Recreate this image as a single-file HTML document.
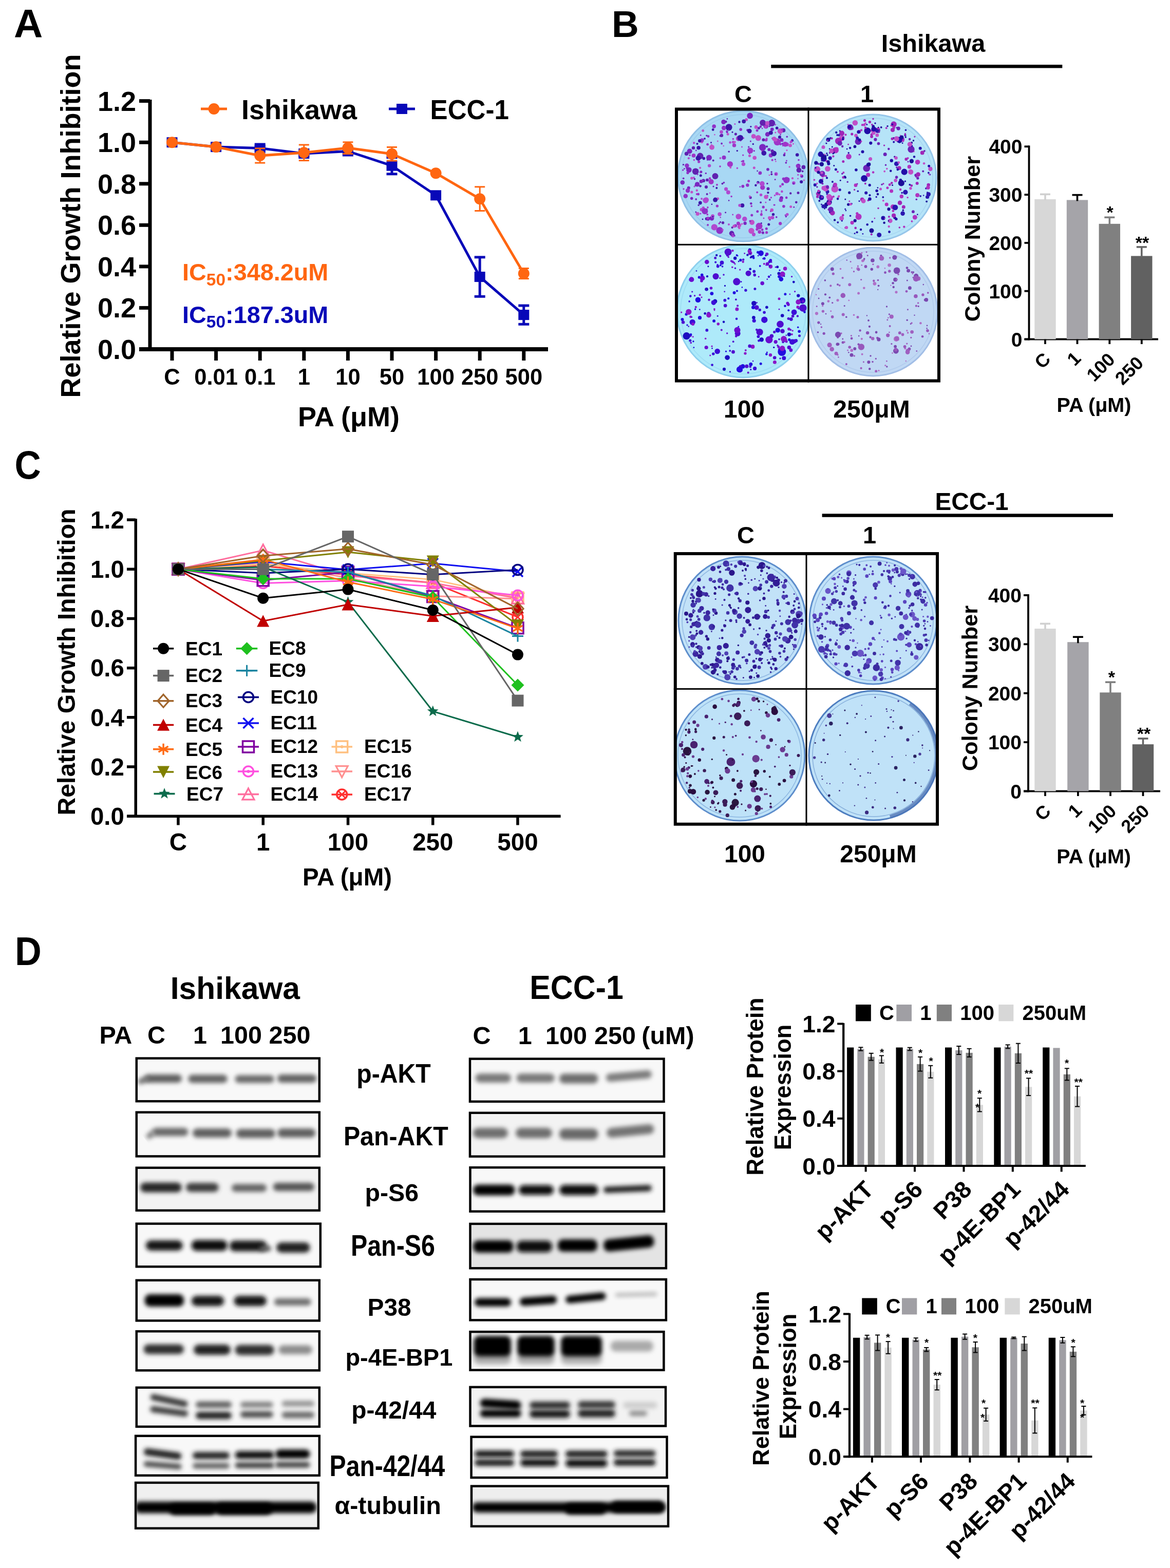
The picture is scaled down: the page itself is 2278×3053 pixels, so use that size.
<!DOCTYPE html>
<html><head><meta charset="utf-8"><title>Figure</title>
<style>html,body{margin:0;padding:0;background:#fff;}svg{display:block;}</style></head>
<body><svg width="2278" height="3053" viewBox="0 0 2278 3053" font-family="'Liberation Sans', Arial, sans-serif" font-weight="bold">
<rect width="2278" height="3053" fill="#fff"/>
<text x="27" y="72.5" font-size="78">A</text>
<rect x="288.5" y="194" width="7" height="490" fill="#000"/>
<rect x="271" y="676" width="796" height="8" fill="#000"/>
<rect x="271" y="676" width="21" height="7" fill="#000"/>
<text x="265" y="699" font-size="54" text-anchor="end">0.0</text>
<rect x="271" y="595.9" width="21" height="7" fill="#000"/>
<text x="265" y="618.4" font-size="54" text-anchor="end">0.2</text>
<rect x="271" y="515.4" width="21" height="7" fill="#000"/>
<text x="265" y="537.9" font-size="54" text-anchor="end">0.4</text>
<rect x="271" y="434.8" width="21" height="7" fill="#000"/>
<text x="265" y="457.3" font-size="54" text-anchor="end">0.6</text>
<rect x="271" y="354.3" width="21" height="7" fill="#000"/>
<text x="265" y="376.8" font-size="54" text-anchor="end">0.8</text>
<rect x="271" y="273.7" width="21" height="7" fill="#000"/>
<text x="265" y="296.2" font-size="54" text-anchor="end">1.0</text>
<rect x="271" y="193.1" width="21" height="7" fill="#000"/>
<text x="265" y="215.6" font-size="54" text-anchor="end">1.2</text>
<rect x="331.5" y="680" width="7" height="22" fill="#000"/>
<text x="335" y="749" font-size="43.5" text-anchor="middle">C</text>
<rect x="417.1" y="680" width="7" height="22" fill="#000"/>
<text x="420.6" y="749" font-size="43.5" text-anchor="middle">0.01</text>
<rect x="502.7" y="680" width="7" height="22" fill="#000"/>
<text x="506.2" y="749" font-size="43.5" text-anchor="middle">0.1</text>
<rect x="588.3" y="680" width="7" height="22" fill="#000"/>
<text x="591.8" y="749" font-size="43.5" text-anchor="middle">1</text>
<rect x="673.9" y="680" width="7" height="22" fill="#000"/>
<text x="677.4" y="749" font-size="43.5" text-anchor="middle">10</text>
<rect x="759.5" y="680" width="7" height="22" fill="#000"/>
<text x="763" y="749" font-size="43.5" text-anchor="middle">50</text>
<rect x="845.1" y="680" width="7" height="22" fill="#000"/>
<text x="848.6" y="749" font-size="43.5" text-anchor="middle">100</text>
<rect x="930.7" y="680" width="7" height="22" fill="#000"/>
<text x="934.2" y="749" font-size="43.5" text-anchor="middle">250</text>
<rect x="1016.3" y="680" width="7" height="22" fill="#000"/>
<text x="1019.8" y="749" font-size="43.5" text-anchor="middle">500</text>
<text x="679" y="830" font-size="54" text-anchor="middle">PA (μM)</text>
<text x="156" y="440" font-size="54" text-anchor="middle" transform="rotate(-90 156 440)">Relative Growth Inhibition</text>
<line x1="391" y1="212" x2="442" y2="212" stroke="#FF6611" stroke-width="5"/>
<circle cx="416.5" cy="212" r="11" fill="#FF6611"/>
<text x="470" y="232" font-size="54">Ishikawa</text>
<line x1="757" y1="212" x2="808" y2="212" stroke="#0808B8" stroke-width="5"/>
<rect x="772" y="202" width="21" height="20" fill="#0808B8"/>
<text transform="translate(837.6 232) scale(0.947 1)" font-size="54">ECC-1</text>
<text x="355" y="546" font-size="46.8" fill="#FF6611">IC<tspan font-size="33.5" dy="9.7">50</tspan><tspan dy="-9.7">:348.2uM</tspan></text>
<text x="355" y="628.6" font-size="46.8" fill="#0808B8">IC<tspan font-size="33.5" dy="9.7">50</tspan><tspan dy="-9.7">:187.3uM</tspan></text>
<polyline points="335,277.2 420.6,286.1 506.2,288.5 591.8,299 677.4,294.5 763,322.7 848.6,380.3 934.2,539 1019.8,613.1" fill="none" stroke="#0808B8" stroke-width="5" stroke-linejoin="round"/>
<rect x="324.5" y="267.2" width="21" height="20" fill="#0808B8"/>
<rect x="410.1" y="276.1" width="21" height="20" fill="#0808B8"/>
<line x1="506.2" y1="284.5" x2="506.2" y2="292.5" stroke="#0808B8" stroke-width="5"/>
<rect x="495.7" y="282" width="21" height="5" fill="#0808B8"/>
<rect x="495.7" y="290" width="21" height="5" fill="#0808B8"/>
<rect x="495.7" y="278.5" width="21" height="20" fill="#0808B8"/>
<line x1="591.8" y1="294.9" x2="591.8" y2="303" stroke="#0808B8" stroke-width="5"/>
<rect x="581.3" y="292.4" width="21" height="5" fill="#0808B8"/>
<rect x="581.3" y="300.5" width="21" height="5" fill="#0808B8"/>
<rect x="581.3" y="289" width="21" height="20" fill="#0808B8"/>
<line x1="677.4" y1="289.7" x2="677.4" y2="299.4" stroke="#0808B8" stroke-width="5"/>
<rect x="666.9" y="287.2" width="21" height="5" fill="#0808B8"/>
<rect x="666.9" y="296.9" width="21" height="5" fill="#0808B8"/>
<rect x="666.9" y="284.5" width="21" height="20" fill="#0808B8"/>
<line x1="763" y1="306.6" x2="763" y2="338.8" stroke="#0808B8" stroke-width="5"/>
<rect x="752.5" y="304.1" width="21" height="5" fill="#0808B8"/>
<rect x="752.5" y="336.3" width="21" height="5" fill="#0808B8"/>
<rect x="752.5" y="312.7" width="21" height="20" fill="#0808B8"/>
<rect x="838.1" y="370.3" width="21" height="20" fill="#0808B8"/>
<line x1="934.2" y1="500.8" x2="934.2" y2="577.3" stroke="#0808B8" stroke-width="5"/>
<rect x="923.7" y="498.3" width="21" height="5" fill="#0808B8"/>
<rect x="923.7" y="574.8" width="21" height="5" fill="#0808B8"/>
<rect x="923.7" y="529" width="21" height="20" fill="#0808B8"/>
<line x1="1019.8" y1="595" x2="1019.8" y2="631.3" stroke="#0808B8" stroke-width="5"/>
<rect x="1009.3" y="592.5" width="21" height="5" fill="#0808B8"/>
<rect x="1009.3" y="628.8" width="21" height="5" fill="#0808B8"/>
<rect x="1009.3" y="603.1" width="21" height="20" fill="#0808B8"/>
<polyline points="335,277.2 420.6,286.1 506.2,303 591.8,297.3 677.4,288.1 763,299.8 848.6,337.2 934.2,387.2 1019.8,532.6" fill="none" stroke="#FF6611" stroke-width="5" stroke-linejoin="round"/>
<circle cx="335" cy="277.2" r="11" fill="#FF6611"/>
<circle cx="420.6" cy="286.1" r="11" fill="#FF6611"/>
<line x1="506.2" y1="288.9" x2="506.2" y2="317.1" stroke="#FF6611" stroke-width="3"/>
<rect x="496.2" y="287.4" width="20" height="3" fill="#FF6611"/>
<rect x="496.2" y="315.6" width="20" height="3" fill="#FF6611"/>
<circle cx="506.2" cy="303" r="11" fill="#FF6611"/>
<line x1="591.8" y1="282" x2="591.8" y2="312.6" stroke="#FF6611" stroke-width="3"/>
<rect x="581.8" y="280.5" width="20" height="3" fill="#FF6611"/>
<rect x="581.8" y="311.1" width="20" height="3" fill="#FF6611"/>
<circle cx="591.8" cy="297.3" r="11" fill="#FF6611"/>
<line x1="677.4" y1="276.8" x2="677.4" y2="299.4" stroke="#FF6611" stroke-width="3"/>
<rect x="667.4" y="275.3" width="20" height="3" fill="#FF6611"/>
<rect x="667.4" y="297.9" width="20" height="3" fill="#FF6611"/>
<circle cx="677.4" cy="288.1" r="11" fill="#FF6611"/>
<line x1="763" y1="286.5" x2="763" y2="313" stroke="#FF6611" stroke-width="3"/>
<rect x="753" y="285" width="20" height="3" fill="#FF6611"/>
<rect x="753" y="311.5" width="20" height="3" fill="#FF6611"/>
<circle cx="763" cy="299.8" r="11" fill="#FF6611"/>
<circle cx="848.6" cy="337.2" r="11" fill="#FF6611"/>
<line x1="934.2" y1="363.8" x2="934.2" y2="410.5" stroke="#FF6611" stroke-width="3"/>
<rect x="924.2" y="362.3" width="20" height="3" fill="#FF6611"/>
<rect x="924.2" y="409" width="20" height="3" fill="#FF6611"/>
<circle cx="934.2" cy="387.2" r="11" fill="#FF6611"/>
<line x1="1019.8" y1="522.5" x2="1019.8" y2="542.6" stroke="#FF6611" stroke-width="3"/>
<rect x="1009.8" y="521" width="20" height="3" fill="#FF6611"/>
<rect x="1009.8" y="541.1" width="20" height="3" fill="#FF6611"/>
<circle cx="1019.8" cy="532.6" r="11" fill="#FF6611"/>
<text x="1191" y="71.5" font-size="73">B</text>
<text transform="translate(28.5 931.5) scale(0.91 1)" font-size="78">C</text>
<text transform="translate(29 1879) scale(0.92 1)" font-size="78">D</text>
<defs><filter id="soft" x="-5%" y="-5%" width="110%" height="110%"><feGaussianBlur stdDeviation="0.7"/></filter></defs>
<text x="1817" y="101" font-size="48.6" text-anchor="middle">Ishikawa</text>
<rect x="1501.3" y="126" width="567" height="6.5" fill="#000"/>
<text x="1447" y="199.3" font-size="47" text-anchor="middle">C</text>
<text x="1688" y="199.3" font-size="47" text-anchor="middle">1</text>
<clipPath id="pb0"><rect x="1314" y="209.5" width="260" height="266.8"/></clipPath>
<g clip-path="url(#pb0)">
<circle cx="1447" cy="343" r="127" fill="#A8D8F4" stroke="#90C0E6" stroke-width="3"/>
<circle cx="1447" cy="343" r="120" fill="none" stroke="#90C0E6" stroke-width="1.5" opacity="0.5"/>
<g filter="url(#soft)">
<circle cx="1356.8" cy="370.8" r="2.2" fill="#C050C8"/>
<circle cx="1484.5" cy="294.6" r="2.3" fill="#C050C8"/>
<circle cx="1459.3" cy="298.4" r="1.4" fill="#3A18A8"/>
<circle cx="1523.6" cy="280" r="2.1" fill="#7A28C0"/>
<circle cx="1391.4" cy="262.3" r="1.3" fill="#C050C8"/>
<circle cx="1475.9" cy="355.1" r="2.7" fill="#3A18A8"/>
<circle cx="1363.5" cy="362.3" r="2.4" fill="#6020B0"/>
<circle cx="1491.3" cy="245.3" r="5.3" fill="#A036C8"/>
<circle cx="1427.4" cy="270.6" r="1.8" fill="#A036C8"/>
<circle cx="1402" cy="324.1" r="1.8" fill="#A036C8"/>
<circle cx="1354.5" cy="360.7" r="2" fill="#6020B0"/>
<circle cx="1413.6" cy="368.1" r="3.6" fill="#B048D0"/>
<circle cx="1515.4" cy="275.8" r="1.7" fill="#A036C8"/>
<circle cx="1534.4" cy="349" r="3" fill="#9030C8"/>
<circle cx="1389" cy="362.9" r="1.5" fill="#6020B0"/>
<circle cx="1385.9" cy="397.7" r="1.3" fill="#3A18A8"/>
<circle cx="1554.2" cy="323.2" r="4.5" fill="#9030C8"/>
<circle cx="1492.6" cy="452.7" r="2.6" fill="#A036C8"/>
<circle cx="1511" cy="338.7" r="3.5" fill="#B048D0"/>
<circle cx="1369.3" cy="404.6" r="2.7" fill="#B048D0"/>
<circle cx="1409.5" cy="306.8" r="4" fill="#9030C8"/>
<circle cx="1487.3" cy="298.1" r="4.9" fill="#3A18A8"/>
<circle cx="1366.5" cy="276.1" r="2.8" fill="#C050C8"/>
<circle cx="1485.4" cy="453.1" r="2.7" fill="#7A28C0"/>
<circle cx="1493.9" cy="357.4" r="1.7" fill="#6020B0"/>
<circle cx="1427.5" cy="276.7" r="2.7" fill="#B048D0"/>
<circle cx="1332.4" cy="328.5" r="1.5" fill="#7A28C0"/>
<circle cx="1343" cy="302.3" r="1.8" fill="#9030C8"/>
<circle cx="1446.7" cy="302.1" r="1.7" fill="#A036C8"/>
<circle cx="1482.7" cy="414.4" r="1.5" fill="#B048D0"/>
<circle cx="1502.8" cy="409.1" r="3.3" fill="#C050C8"/>
<circle cx="1377.3" cy="417.7" r="1.9" fill="#A036C8"/>
<circle cx="1545.4" cy="356.2" r="3.3" fill="#B048D0"/>
<circle cx="1474.2" cy="374.5" r="2" fill="#A036C8"/>
<circle cx="1532.3" cy="281.2" r="3.7" fill="#B048D0"/>
<circle cx="1385.9" cy="425.1" r="4.4" fill="#7A28C0"/>
<circle cx="1474.6" cy="332.9" r="1.3" fill="#6020B0"/>
<circle cx="1376.2" cy="407.6" r="1.4" fill="#6020B0"/>
<circle cx="1498.7" cy="388.9" r="1.9" fill="#6020B0"/>
<circle cx="1417.1" cy="261.2" r="2.5" fill="#C050C8"/>
<circle cx="1447" cy="313.8" r="2.3" fill="#9030C8"/>
<circle cx="1495" cy="329.8" r="2.9" fill="#7A28C0"/>
<circle cx="1446.3" cy="362.8" r="3" fill="#9030C8"/>
<circle cx="1341.4" cy="330.7" r="5.3" fill="#7A28C0"/>
<circle cx="1506.2" cy="295.1" r="1.6" fill="#7A28C0"/>
<circle cx="1482.2" cy="242.7" r="1.7" fill="#9030C8"/>
<circle cx="1381.9" cy="305.5" r="2.3" fill="#3A18A8"/>
<circle cx="1519.6" cy="280.6" r="2.3" fill="#9030C8"/>
<circle cx="1486.4" cy="272.2" r="3" fill="#6020B0"/>
<circle cx="1509.7" cy="242.9" r="1.4" fill="#A036C8"/>
<circle cx="1429.9" cy="439" r="1.8" fill="#B048D0"/>
<circle cx="1387.6" cy="420.7" r="3.5" fill="#B048D0"/>
<circle cx="1375.7" cy="425.9" r="2.9" fill="#3A18A8"/>
<circle cx="1417.9" cy="374.5" r="3.9" fill="#B048D0"/>
<circle cx="1455.4" cy="360.5" r="3.2" fill="#9030C8"/>
<circle cx="1462.9" cy="449.5" r="5.7" fill="#C050C8"/>
<circle cx="1366.9" cy="272.9" r="3.7" fill="#9030C8"/>
<circle cx="1545.8" cy="403.3" r="1.5" fill="#7A28C0"/>
<circle cx="1498.3" cy="245.8" r="1.6" fill="#6020B0"/>
<circle cx="1519.5" cy="262" r="1.5" fill="#9030C8"/>
<circle cx="1542.5" cy="273.6" r="2.5" fill="#3A18A8"/>
<circle cx="1510.4" cy="314.3" r="1.3" fill="#C050C8"/>
<circle cx="1521.4" cy="385.6" r="3.5" fill="#7A28C0"/>
<circle cx="1503.7" cy="311.7" r="2.1" fill="#A036C8"/>
<circle cx="1482.8" cy="411" r="1.5" fill="#9030C8"/>
<circle cx="1561.1" cy="342.9" r="3" fill="#7A28C0"/>
<circle cx="1531.5" cy="313" r="1.4" fill="#9030C8"/>
<circle cx="1359.5" cy="378" r="2.5" fill="#9030C8"/>
<circle cx="1337" cy="327.1" r="1.9" fill="#7A28C0"/>
<circle cx="1555" cy="311.5" r="1.8" fill="#9030C8"/>
<circle cx="1537.1" cy="324.9" r="1.6" fill="#C050C8"/>
<circle cx="1457.7" cy="352.4" r="2.5" fill="#A036C8"/>
<circle cx="1364.9" cy="334.7" r="2.5" fill="#7A28C0"/>
<circle cx="1495.4" cy="375.1" r="2.2" fill="#3A18A8"/>
<circle cx="1509.4" cy="310.4" r="1.5" fill="#7A28C0"/>
<circle cx="1541.1" cy="275.4" r="2.4" fill="#A036C8"/>
<circle cx="1482.3" cy="434.6" r="1.5" fill="#3A18A8"/>
<circle cx="1478" cy="338.5" r="1.3" fill="#B048D0"/>
<circle cx="1412.6" cy="413.7" r="1.5" fill="#6020B0"/>
<circle cx="1350" cy="287.9" r="3.2" fill="#6020B0"/>
<circle cx="1363.1" cy="326.8" r="2.1" fill="#C050C8"/>
<circle cx="1377.6" cy="281.2" r="2.4" fill="#9030C8"/>
<circle cx="1337.4" cy="322.4" r="4.2" fill="#9030C8"/>
<circle cx="1532" cy="292.6" r="1.6" fill="#C050C8"/>
<circle cx="1401.2" cy="448.8" r="6.8" fill="#9030C8"/>
<circle cx="1458.6" cy="229" r="2.1" fill="#3A18A8"/>
<circle cx="1429.5" cy="282.9" r="3.7" fill="#A036C8"/>
<circle cx="1478" cy="440.3" r="6.5" fill="#A036C8"/>
<circle cx="1419.1" cy="247.8" r="6.6" fill="#3A18A8"/>
<circle cx="1461.9" cy="246.5" r="1.6" fill="#3A18A8"/>
<circle cx="1486.2" cy="403.2" r="2.6" fill="#9030C8"/>
<circle cx="1530.4" cy="316.8" r="1.9" fill="#7A28C0"/>
<circle cx="1376.6" cy="378" r="2" fill="#6020B0"/>
<circle cx="1413.3" cy="237" r="2.2" fill="#6020B0"/>
<circle cx="1368" cy="426.9" r="1.4" fill="#3A18A8"/>
<circle cx="1560.2" cy="354" r="3.1" fill="#3A18A8"/>
<circle cx="1544.5" cy="280" r="1.6" fill="#C050C8"/>
<circle cx="1555.5" cy="331.2" r="4.9" fill="#6020B0"/>
<circle cx="1444.5" cy="285.9" r="1.5" fill="#B048D0"/>
<circle cx="1521.9" cy="272.5" r="3.5" fill="#7A28C0"/>
<circle cx="1463.2" cy="401.4" r="1.8" fill="#A036C8"/>
<circle cx="1525.5" cy="348.2" r="2.8" fill="#9030C8"/>
<circle cx="1430.1" cy="458.9" r="1.7" fill="#7A28C0"/>
<circle cx="1363.2" cy="303.8" r="6.2" fill="#6020B0"/>
<circle cx="1507" cy="399.1" r="1.5" fill="#A036C8"/>
<circle cx="1442.1" cy="274.1" r="1.4" fill="#9030C8"/>
<circle cx="1435.4" cy="327.4" r="1.8" fill="#B048D0"/>
<circle cx="1360.7" cy="314.9" r="2.6" fill="#A036C8"/>
<circle cx="1378.1" cy="438.1" r="2" fill="#9030C8"/>
<circle cx="1504.4" cy="269.6" r="2.1" fill="#7A28C0"/>
<circle cx="1366.1" cy="387" r="2" fill="#B048D0"/>
<circle cx="1376.9" cy="350.4" r="2.9" fill="#6020B0"/>
<circle cx="1440.8" cy="363.7" r="1.4" fill="#9030C8"/>
<circle cx="1513.4" cy="276.3" r="6.9" fill="#A036C8"/>
<circle cx="1466.3" cy="280.5" r="1.7" fill="#3A18A8"/>
<circle cx="1450.6" cy="434.8" r="3.2" fill="#7A28C0"/>
<circle cx="1519.1" cy="435.2" r="3.1" fill="#A036C8"/>
<circle cx="1385.3" cy="281.8" r="1.4" fill="#C050C8"/>
<circle cx="1491.7" cy="408.6" r="2.1" fill="#C050C8"/>
<circle cx="1439.7" cy="438.6" r="3.6" fill="#C050C8"/>
<circle cx="1468.4" cy="293.7" r="1.5" fill="#7A28C0"/>
<circle cx="1532.8" cy="417.6" r="2.8" fill="#B048D0"/>
<circle cx="1431.9" cy="439.5" r="3.1" fill="#9030C8"/>
<circle cx="1375.8" cy="264.1" r="1.7" fill="#6020B0"/>
<circle cx="1437" cy="442.1" r="1.3" fill="#A036C8"/>
<circle cx="1352.1" cy="363.1" r="1.7" fill="#B048D0"/>
<circle cx="1368.8" cy="350.9" r="2.3" fill="#9030C8"/>
<circle cx="1469.2" cy="307.3" r="3.8" fill="#C050C8"/>
<circle cx="1503.3" cy="251.8" r="3.4" fill="#7A28C0"/>
<circle cx="1476.3" cy="268.7" r="5.6" fill="#C050C8"/>
<circle cx="1453.2" cy="232.9" r="2.9" fill="#C050C8"/>
<circle cx="1378.4" cy="426" r="3.8" fill="#7A28C0"/>
<circle cx="1340.8" cy="365.9" r="3.1" fill="#7A28C0"/>
<circle cx="1430.9" cy="241.4" r="1.5" fill="#B048D0"/>
<circle cx="1405.1" cy="279.5" r="1.9" fill="#7A28C0"/>
<circle cx="1342.7" cy="294.5" r="5" fill="#7A28C0"/>
<circle cx="1330.5" cy="320.6" r="1.7" fill="#6020B0"/>
<circle cx="1500.8" cy="301.1" r="2" fill="#B048D0"/>
<circle cx="1404.5" cy="256.9" r="3.3" fill="#B048D0"/>
<circle cx="1474.1" cy="254" r="2.5" fill="#9030C8"/>
<circle cx="1520.4" cy="389.4" r="3.8" fill="#9030C8"/>
<circle cx="1354.2" cy="333.8" r="6.4" fill="#6020B0"/>
<circle cx="1492.9" cy="272.3" r="1.8" fill="#C050C8"/>
<circle cx="1484.7" cy="365" r="4.7" fill="#A036C8"/>
<circle cx="1472.1" cy="247.6" r="3.5" fill="#C050C8"/>
<circle cx="1401.1" cy="417.1" r="3.8" fill="#B048D0"/>
<circle cx="1405" cy="263.7" r="3.2" fill="#6020B0"/>
<circle cx="1421.4" cy="319.5" r="5.6" fill="#A036C8"/>
<circle cx="1485.1" cy="239.1" r="6" fill="#6020B0"/>
<circle cx="1382" cy="424" r="1.5" fill="#6020B0"/>
<circle cx="1499" cy="427.5" r="1.9" fill="#7A28C0"/>
<circle cx="1382.2" cy="376" r="1.4" fill="#B048D0"/>
<circle cx="1438.1" cy="269.7" r="5.1" fill="#A036C8"/>
<circle cx="1447.5" cy="319.6" r="3.7" fill="#B048D0"/>
<circle cx="1494" cy="381.2" r="1.7" fill="#6020B0"/>
<circle cx="1357.6" cy="358.9" r="4.7" fill="#7A28C0"/>
<circle cx="1496.8" cy="437.1" r="2.5" fill="#3A18A8"/>
<circle cx="1340.9" cy="308.2" r="2.1" fill="#B048D0"/>
<circle cx="1387.8" cy="421.7" r="1.5" fill="#3A18A8"/>
<circle cx="1377.9" cy="403.9" r="1.8" fill="#A036C8"/>
<circle cx="1532" cy="282" r="1.7" fill="#7A28C0"/>
<circle cx="1402.4" cy="307.9" r="1.9" fill="#B048D0"/>
<circle cx="1538.6" cy="283.3" r="3.3" fill="#C050C8"/>
<circle cx="1437.4" cy="435.1" r="3.5" fill="#A036C8"/>
<circle cx="1479.5" cy="453.2" r="1.5" fill="#B048D0"/>
<circle cx="1510.1" cy="272" r="3.4" fill="#C050C8"/>
<circle cx="1493.1" cy="285.3" r="2.1" fill="#6020B0"/>
<circle cx="1539.7" cy="402.6" r="2.5" fill="#C050C8"/>
<circle cx="1330.7" cy="347.3" r="1.9" fill="#7A28C0"/>
<circle cx="1512.8" cy="377.1" r="3.2" fill="#B048D0"/>
<circle cx="1495.5" cy="367.4" r="3" fill="#6020B0"/>
<circle cx="1555.1" cy="320.2" r="1.3" fill="#7A28C0"/>
<circle cx="1426" cy="257.2" r="1.5" fill="#3A18A8"/>
<circle cx="1565.3" cy="350.8" r="1.6" fill="#C050C8"/>
<circle cx="1504" cy="423.7" r="3.4" fill="#B048D0"/>
<circle cx="1406.9" cy="447.5" r="1.9" fill="#B048D0"/>
<circle cx="1350.5" cy="302.8" r="3.9" fill="#A036C8"/>
<circle cx="1525.9" cy="401.8" r="2.8" fill="#9030C8"/>
<circle cx="1482.3" cy="417.8" r="2.6" fill="#A036C8"/>
<circle cx="1471.4" cy="360.8" r="2.2" fill="#3A18A8"/>
<circle cx="1550.3" cy="393.8" r="2.4" fill="#6020B0"/>
<circle cx="1462.3" cy="396.3" r="2.3" fill="#7A28C0"/>
<circle cx="1372" cy="269.9" r="1.9" fill="#3A18A8"/>
<circle cx="1471.9" cy="245.3" r="1.3" fill="#B048D0"/>
<circle cx="1474.8" cy="411.8" r="2.5" fill="#9030C8"/>
<circle cx="1339" cy="336.6" r="2.7" fill="#9030C8"/>
<circle cx="1444.7" cy="435.9" r="1.7" fill="#C050C8"/>
<circle cx="1392.5" cy="342.9" r="6" fill="#6020B0"/>
<circle cx="1415.9" cy="231.4" r="1.3" fill="#6020B0"/>
<circle cx="1461.2" cy="384.7" r="2.6" fill="#6020B0"/>
<circle cx="1424.1" cy="382.6" r="1.8" fill="#A036C8"/>
<circle cx="1346.8" cy="374" r="2.6" fill="#C050C8"/>
<circle cx="1359.4" cy="307.9" r="4.9" fill="#3A18A8"/>
<circle cx="1419.1" cy="390.4" r="1.3" fill="#6020B0"/>
<circle cx="1500.7" cy="302.4" r="4" fill="#9030C8"/>
<circle cx="1357.5" cy="280" r="2.1" fill="#3A18A8"/>
<circle cx="1562.7" cy="333.5" r="1.9" fill="#6020B0"/>
<circle cx="1512.7" cy="249.3" r="2.8" fill="#3A18A8"/>
<circle cx="1509.1" cy="349.4" r="1.5" fill="#7A28C0"/>
<circle cx="1508.1" cy="399.1" r="1.5" fill="#9030C8"/>
<circle cx="1377.3" cy="311.3" r="1.4" fill="#6020B0"/>
<circle cx="1466.3" cy="262.5" r="1.5" fill="#B048D0"/>
<circle cx="1363.3" cy="395" r="3.4" fill="#3A18A8"/>
<circle cx="1424.6" cy="454.3" r="4.8" fill="#6020B0"/>
<circle cx="1375.3" cy="389.1" r="4.8" fill="#C050C8"/>
<circle cx="1402.7" cy="423.2" r="1.3" fill="#A036C8"/>
<circle cx="1419" cy="437" r="2" fill="#B048D0"/>
<circle cx="1447.9" cy="269" r="1.4" fill="#A036C8"/>
<circle cx="1484.7" cy="287" r="6.7" fill="#7A28C0"/>
<circle cx="1415.8" cy="256.4" r="1.8" fill="#7A28C0"/>
<circle cx="1552.2" cy="301.5" r="3.3" fill="#3A18A8"/>
<circle cx="1390.2" cy="246" r="3.8" fill="#9030C8"/>
<circle cx="1397.3" cy="275" r="1.4" fill="#C050C8"/>
<circle cx="1460.6" cy="293.2" r="5.8" fill="#A036C8"/>
<circle cx="1426.8" cy="457.5" r="3.8" fill="#7A28C0"/>
<circle cx="1511.8" cy="422.7" r="1.8" fill="#7A28C0"/>
<circle cx="1506.7" cy="298.8" r="5.4" fill="#3A18A8"/>
<circle cx="1384.6" cy="353.8" r="5.1" fill="#A036C8"/>
<circle cx="1484.2" cy="447.4" r="2.3" fill="#9030C8"/>
<circle cx="1379" cy="265.5" r="2.4" fill="#9030C8"/>
<circle cx="1390.8" cy="442.4" r="6.2" fill="#B048D0"/>
<circle cx="1518" cy="267" r="3.1" fill="#3A18A8"/>
<circle cx="1406.4" cy="357.6" r="1.9" fill="#6020B0"/>
<circle cx="1421.6" cy="277.4" r="2.3" fill="#B048D0"/>
<circle cx="1467.2" cy="265.4" r="4.5" fill="#C050C8"/>
<circle cx="1329.7" cy="331.2" r="1.6" fill="#9030C8"/>
<circle cx="1378.1" cy="424.4" r="2.4" fill="#A036C8"/>
<circle cx="1543" cy="347.2" r="2.1" fill="#C050C8"/>
<circle cx="1508.5" cy="380.5" r="1.7" fill="#B048D0"/>
<circle cx="1444.1" cy="314.3" r="1.5" fill="#A036C8"/>
<circle cx="1364.2" cy="263.3" r="1.3" fill="#7A28C0"/>
<circle cx="1483.8" cy="357.6" r="4.9" fill="#B048D0"/>
<circle cx="1388.2" cy="252.5" r="2.4" fill="#3A18A8"/>
<circle cx="1368.7" cy="254.5" r="2.4" fill="#C050C8"/>
<circle cx="1457.7" cy="286.1" r="1.7" fill="#7A28C0"/>
<circle cx="1381.1" cy="322.6" r="3.2" fill="#B048D0"/>
<circle cx="1382.1" cy="347.4" r="2.3" fill="#A036C8"/>
<circle cx="1524.2" cy="283.5" r="1.5" fill="#A036C8"/>
<circle cx="1362.3" cy="274.2" r="3.2" fill="#3A18A8"/>
<circle cx="1459.5" cy="303.3" r="2.6" fill="#C050C8"/>
<circle cx="1355.3" cy="293" r="1.4" fill="#7A28C0"/>
<circle cx="1519.3" cy="362.7" r="2.4" fill="#B048D0"/>
<circle cx="1455.6" cy="253.4" r="2.4" fill="#7A28C0"/>
<circle cx="1445.3" cy="400.1" r="4" fill="#3A18A8"/>
<circle cx="1375" cy="364.1" r="3.1" fill="#6020B0"/>
<circle cx="1479.9" cy="336.8" r="3.4" fill="#9030C8"/>
<circle cx="1500.4" cy="411.5" r="1.4" fill="#9030C8"/>
<circle cx="1502.6" cy="239.7" r="6.6" fill="#6020B0"/>
<circle cx="1553.8" cy="340.4" r="1.7" fill="#B048D0"/>
<circle cx="1529" cy="418.9" r="1.4" fill="#9030C8"/>
<circle cx="1396.4" cy="401.1" r="2.7" fill="#A036C8"/>
<circle cx="1498.3" cy="424.2" r="3.3" fill="#C050C8"/>
<circle cx="1408.8" cy="237.4" r="4.6" fill="#7A28C0"/>
<circle cx="1520.8" cy="253.7" r="2" fill="#A036C8"/>
<circle cx="1463.8" cy="419.1" r="2.5" fill="#9030C8"/>
<circle cx="1365.1" cy="353.2" r="3.4" fill="#7A28C0"/>
<circle cx="1334.8" cy="381.7" r="4.3" fill="#9030C8"/>
<circle cx="1484.1" cy="250.1" r="1.3" fill="#9030C8"/>
<circle cx="1442.2" cy="252.1" r="2.9" fill="#9030C8"/>
<circle cx="1437.8" cy="421.6" r="5.4" fill="#B048D0"/>
<circle cx="1490.9" cy="394.1" r="1.5" fill="#B048D0"/>
<circle cx="1492.8" cy="269.7" r="2" fill="#B048D0"/>
<circle cx="1509.8" cy="258.1" r="1.6" fill="#C050C8"/>
<circle cx="1422.3" cy="326.1" r="2.1" fill="#C050C8"/>
<circle cx="1415.5" cy="257.2" r="1.9" fill="#7A28C0"/>
<circle cx="1419.2" cy="295.2" r="1.8" fill="#6020B0"/>
<circle cx="1396" cy="359.8" r="2" fill="#A036C8"/>
<circle cx="1426.7" cy="418" r="1.4" fill="#A036C8"/>
<circle cx="1507.3" cy="270.2" r="4.2" fill="#C050C8"/>
<circle cx="1409.3" cy="249.1" r="4.3" fill="#9030C8"/>
<circle cx="1461.4" cy="275.1" r="1.5" fill="#7A28C0"/>
<circle cx="1522.4" cy="372.9" r="2.3" fill="#B048D0"/>
<circle cx="1467.5" cy="456.5" r="3.5" fill="#B048D0"/>
<circle cx="1539.6" cy="276.8" r="2.3" fill="#B048D0"/>
<circle cx="1418.8" cy="253.4" r="1.3" fill="#7A28C0"/>
<circle cx="1530.4" cy="421.6" r="1.8" fill="#7A28C0"/>
<circle cx="1350.9" cy="345.7" r="1.9" fill="#B048D0"/>
<circle cx="1475.1" cy="356.7" r="2" fill="#B048D0"/>
<circle cx="1439.4" cy="444" r="2.3" fill="#C050C8"/>
<circle cx="1346.7" cy="386.2" r="2.8" fill="#7A28C0"/>
<circle cx="1528.9" cy="280.8" r="4.9" fill="#A036C8"/>
<circle cx="1480.9" cy="246.6" r="2.3" fill="#7A28C0"/>
<circle cx="1502.1" cy="335" r="1.7" fill="#6020B0"/>
<circle cx="1464.1" cy="433" r="4.9" fill="#C050C8"/>
<circle cx="1346.9" cy="347" r="2.8" fill="#C050C8"/>
<circle cx="1523.6" cy="274.7" r="1.8" fill="#A036C8"/>
<circle cx="1503.5" cy="294" r="3.1" fill="#6020B0"/>
<circle cx="1481.1" cy="394.2" r="1.9" fill="#6020B0"/>
<circle cx="1352.5" cy="348.6" r="1.8" fill="#6020B0"/>
<circle cx="1402.6" cy="264.6" r="2" fill="#6020B0"/>
<circle cx="1487" cy="424.9" r="1.4" fill="#A036C8"/>
<circle cx="1493.9" cy="239.8" r="4.1" fill="#C050C8"/>
<circle cx="1459.3" cy="255.1" r="4.3" fill="#3A18A8"/>
<circle cx="1369.8" cy="351.8" r="3.3" fill="#6020B0"/>
<circle cx="1365.8" cy="408.2" r="3.2" fill="#B048D0"/>
<circle cx="1492.3" cy="445.2" r="2.5" fill="#9030C8"/>
<circle cx="1370.3" cy="308.4" r="2.8" fill="#3A18A8"/>
<circle cx="1440.2" cy="399.9" r="2.8" fill="#B048D0"/>
<circle cx="1402.5" cy="432.5" r="1.7" fill="#6020B0"/>
<circle cx="1354.8" cy="413" r="1.4" fill="#6020B0"/>
<circle cx="1559.6" cy="341.1" r="2" fill="#C050C8"/>
<circle cx="1497.9" cy="341" r="1.3" fill="#C050C8"/>
<circle cx="1532.3" cy="266.2" r="1.8" fill="#7A28C0"/>
<circle cx="1432.4" cy="261.1" r="2.6" fill="#6020B0"/>
<circle cx="1414.8" cy="255.3" r="1.5" fill="#9030C8"/>
<circle cx="1494.3" cy="261.6" r="4.5" fill="#7A28C0"/>
<circle cx="1400.3" cy="435.1" r="1.9" fill="#A036C8"/>
<circle cx="1367.9" cy="351.9" r="1.4" fill="#A036C8"/>
<circle cx="1553.6" cy="347.8" r="1.3" fill="#B048D0"/>
<circle cx="1328.8" cy="355.3" r="4.3" fill="#7A28C0"/>
<circle cx="1523.7" cy="358.7" r="2.5" fill="#9030C8"/>
<circle cx="1351.4" cy="311.6" r="1.8" fill="#B048D0"/>
<circle cx="1525.3" cy="253.7" r="4" fill="#6020B0"/>
<circle cx="1554" cy="375.6" r="2.5" fill="#6020B0"/>
<circle cx="1517.5" cy="378.7" r="1.9" fill="#C050C8"/>
<circle cx="1448.2" cy="236.4" r="3.8" fill="#3A18A8"/>
<circle cx="1526.9" cy="302" r="2.4" fill="#6020B0"/>
<circle cx="1460.1" cy="225.4" r="5.8" fill="#7A28C0"/>
<circle cx="1491.5" cy="272.7" r="2.8" fill="#A036C8"/>
<circle cx="1388.7" cy="312.5" r="2" fill="#6020B0"/>
<circle cx="1427.1" cy="460" r="2.2" fill="#B048D0"/>
<circle cx="1426.1" cy="455.4" r="1.4" fill="#B048D0"/>
<circle cx="1363.9" cy="416" r="1.6" fill="#A036C8"/>
<circle cx="1491.8" cy="409.5" r="1.3" fill="#7A28C0"/>
<circle cx="1364.3" cy="341.7" r="2.5" fill="#3A18A8"/>
<circle cx="1478.8" cy="451.5" r="3.4" fill="#A036C8"/>
<circle cx="1380.5" cy="307.1" r="5.5" fill="#7A28C0"/>
<circle cx="1360.2" cy="399.5" r="1.8" fill="#6020B0"/>
<circle cx="1358.2" cy="416.3" r="3.6" fill="#C050C8"/>
<circle cx="1502.3" cy="339.3" r="2" fill="#6020B0"/>
<circle cx="1539.2" cy="376.4" r="2.2" fill="#6020B0"/>
<circle cx="1384.5" cy="277.5" r="1.5" fill="#3A18A8"/>
<circle cx="1439.5" cy="237.5" r="2.2" fill="#3A18A8"/>
<circle cx="1397.5" cy="386.8" r="2.6" fill="#C050C8"/>
<circle cx="1527.8" cy="298.6" r="1.8" fill="#A036C8"/>
<circle cx="1351.2" cy="278.2" r="2.2" fill="#B048D0"/>
<circle cx="1441.4" cy="268.4" r="5.7" fill="#3A18A8"/>
<circle cx="1551.1" cy="321.9" r="1.5" fill="#9030C8"/>
<circle cx="1500.8" cy="258.5" r="4" fill="#3A18A8"/>
<circle cx="1501.4" cy="384.7" r="1.6" fill="#A036C8"/>
<circle cx="1430.7" cy="276.6" r="2.2" fill="#C050C8"/>
<circle cx="1531.3" cy="350.6" r="6.2" fill="#9030C8"/>
<circle cx="1531.2" cy="384.9" r="2.3" fill="#9030C8"/>
<circle cx="1356.8" cy="378.1" r="2" fill="#A036C8"/>
<circle cx="1389" cy="442.9" r="1.7" fill="#B048D0"/>
<circle cx="1491.5" cy="383.5" r="4.1" fill="#C050C8"/>
<circle cx="1372.4" cy="411.2" r="6" fill="#9030C8"/>
<circle cx="1336.6" cy="299.3" r="3.8" fill="#6020B0"/>
<circle cx="1407.5" cy="433.7" r="2.7" fill="#6020B0"/>
<circle cx="1473.9" cy="446.6" r="2.6" fill="#A036C8"/>
<circle cx="1481.6" cy="379.5" r="2.7" fill="#B048D0"/>
<circle cx="1355.2" cy="388" r="1.9" fill="#7A28C0"/>
<circle cx="1459.8" cy="382.4" r="2" fill="#C050C8"/>
<circle cx="1373.9" cy="390.1" r="5.6" fill="#B048D0"/>
<circle cx="1363.4" cy="335.7" r="1.5" fill="#A036C8"/>
<circle cx="1497.3" cy="291.2" r="3" fill="#7A28C0"/>
<circle cx="1460.5" cy="430.5" r="2.1" fill="#9030C8"/>
<circle cx="1409.4" cy="355.6" r="1.8" fill="#7A28C0"/>
<circle cx="1408.8" cy="284.1" r="1.3" fill="#C050C8"/>
<circle cx="1449.8" cy="426.4" r="4.7" fill="#B048D0"/>
<circle cx="1392.6" cy="389.1" r="4.5" fill="#3A18A8"/>
<circle cx="1425.6" cy="443.1" r="2" fill="#6020B0"/>
<circle cx="1360.1" cy="287.7" r="3.8" fill="#3A18A8"/>
<circle cx="1545.1" cy="357.4" r="2" fill="#7A28C0"/>
<circle cx="1358.4" cy="339.8" r="1.4" fill="#9030C8"/>
<circle cx="1564.4" cy="325.5" r="3.9" fill="#6020B0"/>
<circle cx="1519" cy="255.3" r="5.3" fill="#C050C8"/>
<circle cx="1510.5" cy="338.9" r="1.5" fill="#7A28C0"/>
<circle cx="1522.7" cy="252.2" r="2.3" fill="#A036C8"/>
<circle cx="1395.3" cy="366.1" r="2" fill="#3A18A8"/>
<circle cx="1468.3" cy="326.7" r="2.5" fill="#C050C8"/>
<circle cx="1429.1" cy="440.4" r="2.9" fill="#C050C8"/>
<circle cx="1374.3" cy="337.4" r="1.7" fill="#7A28C0"/>
<circle cx="1331.1" cy="367.9" r="1.6" fill="#A036C8"/>
<circle cx="1339.1" cy="371.2" r="4.1" fill="#9030C8"/>
<circle cx="1505.5" cy="417.4" r="2.7" fill="#3A18A8"/>
<circle cx="1435.3" cy="293.6" r="1.7" fill="#3A18A8"/>
<circle cx="1490.8" cy="247.4" r="1.6" fill="#C050C8"/>
<circle cx="1386.1" cy="286.8" r="4.9" fill="#C050C8"/>
<circle cx="1477.4" cy="249.4" r="2.5" fill="#6020B0"/>
</g>
</g>
<clipPath id="pb1"><rect x="1574" y="209.5" width="257" height="266.8"/></clipPath>
<g clip-path="url(#pb1)">
<circle cx="1700" cy="346" r="123" fill="#B6E4F8" stroke="#96C6EA" stroke-width="3"/>
<circle cx="1700" cy="346" r="116" fill="none" stroke="#96C6EA" stroke-width="1.5" opacity="0.5"/>
<g filter="url(#soft)">
<circle cx="1764.3" cy="310" r="2.9" fill="#A028B8"/>
<circle cx="1786.6" cy="315.7" r="4.8" fill="#B030C0"/>
<circle cx="1652.2" cy="297.8" r="1.7" fill="#2010A8"/>
<circle cx="1622.8" cy="382.8" r="2.1" fill="#B030C0"/>
<circle cx="1753.5" cy="394.3" r="1.6" fill="#B030C0"/>
<circle cx="1623.8" cy="322.5" r="1.5" fill="#1A0C98"/>
<circle cx="1774.8" cy="361.4" r="2.4" fill="#A028B8"/>
<circle cx="1682.6" cy="347.4" r="6.4" fill="#2010A8"/>
<circle cx="1670.9" cy="275.6" r="6.3" fill="#6A20B8"/>
<circle cx="1651.7" cy="398.2" r="2.6" fill="#1A0C98"/>
<circle cx="1719.8" cy="390.7" r="1.9" fill="#C050C8"/>
<circle cx="1755.3" cy="382.5" r="3.7" fill="#B030C0"/>
<circle cx="1612.5" cy="271.9" r="4" fill="#1A0C98"/>
<circle cx="1610.7" cy="328" r="3.5" fill="#2010A8"/>
<circle cx="1611.4" cy="328.6" r="5.4" fill="#C050C8"/>
<circle cx="1721.6" cy="433.7" r="2.3" fill="#1A0C98"/>
<circle cx="1651.1" cy="242.7" r="1.4" fill="#C050C8"/>
<circle cx="1593.4" cy="319.1" r="2.2" fill="#6A20B8"/>
<circle cx="1685.1" cy="240" r="2" fill="#C050C8"/>
<circle cx="1597.5" cy="318" r="1.5" fill="#C050C8"/>
<circle cx="1719.5" cy="424.5" r="4" fill="#2010A8"/>
<circle cx="1738.5" cy="402.7" r="4.7" fill="#B030C0"/>
<circle cx="1730.7" cy="441" r="2.2" fill="#C050C8"/>
<circle cx="1753" cy="263.7" r="1.3" fill="#C050C8"/>
<circle cx="1738.9" cy="410.7" r="2.4" fill="#B030C0"/>
<circle cx="1611" cy="373.2" r="3.5" fill="#2A18B0"/>
<circle cx="1586.8" cy="360" r="3.1" fill="#2A18B0"/>
<circle cx="1649.1" cy="290.1" r="1.4" fill="#2010A8"/>
<circle cx="1721.6" cy="283.1" r="1.7" fill="#A028B8"/>
<circle cx="1753.1" cy="369.1" r="2.4" fill="#B030C0"/>
<circle cx="1636.2" cy="351.3" r="1.5" fill="#1A0C98"/>
<circle cx="1646.1" cy="345.8" r="2" fill="#2A18B0"/>
<circle cx="1616.1" cy="307.8" r="3.6" fill="#2A18B0"/>
<circle cx="1807.9" cy="336.5" r="1.9" fill="#2A18B0"/>
<circle cx="1708.7" cy="253.8" r="5.2" fill="#6A20B8"/>
<circle cx="1678.6" cy="388.3" r="3.8" fill="#A028B8"/>
<circle cx="1763.3" cy="267" r="1.7" fill="#2010A8"/>
<circle cx="1751.3" cy="443" r="1.8" fill="#A028B8"/>
<circle cx="1758.3" cy="409.3" r="1.8" fill="#1A0C98"/>
<circle cx="1750.8" cy="327.2" r="3.9" fill="#A028B8"/>
<circle cx="1757.7" cy="271.4" r="3.3" fill="#A028B8"/>
<circle cx="1700.2" cy="246.1" r="2.8" fill="#1A0C98"/>
<circle cx="1805.6" cy="383.5" r="3.6" fill="#2A18B0"/>
<circle cx="1601.8" cy="357.8" r="1.7" fill="#6A20B8"/>
<circle cx="1608.5" cy="342.8" r="1.7" fill="#A028B8"/>
<circle cx="1786.3" cy="417.7" r="1.4" fill="#2010A8"/>
<circle cx="1592.2" cy="375.4" r="1.4" fill="#6A20B8"/>
<circle cx="1673.2" cy="300.9" r="1.5" fill="#6A20B8"/>
<circle cx="1812.3" cy="327.6" r="2.5" fill="#B030C0"/>
<circle cx="1642.3" cy="336.1" r="2" fill="#B030C0"/>
<circle cx="1697.3" cy="254.3" r="2.3" fill="#A028B8"/>
<circle cx="1610.2" cy="377.8" r="1.8" fill="#2A18B0"/>
<circle cx="1811.4" cy="329.1" r="4.2" fill="#C050C8"/>
<circle cx="1785.7" cy="356.9" r="3" fill="#A028B8"/>
<circle cx="1774.3" cy="294.3" r="1.5" fill="#C050C8"/>
<circle cx="1664.1" cy="454.6" r="1.5" fill="#2A18B0"/>
<circle cx="1666.6" cy="264" r="3.4" fill="#C050C8"/>
<circle cx="1767.1" cy="384.6" r="1.7" fill="#B030C0"/>
<circle cx="1740.2" cy="276.5" r="1.9" fill="#2010A8"/>
<circle cx="1601.9" cy="342.4" r="3" fill="#B030C0"/>
<circle cx="1635.2" cy="254.9" r="1.6" fill="#2A18B0"/>
<circle cx="1698.2" cy="431.7" r="1.9" fill="#2A18B0"/>
<circle cx="1658.8" cy="261.1" r="2.6" fill="#A028B8"/>
<circle cx="1741.9" cy="305.2" r="1.8" fill="#1A0C98"/>
<circle cx="1707.7" cy="254.6" r="3.5" fill="#2A18B0"/>
<circle cx="1669" cy="357.9" r="1.5" fill="#6A20B8"/>
<circle cx="1631.3" cy="432.9" r="2" fill="#2A18B0"/>
<circle cx="1614.4" cy="393.7" r="5.3" fill="#1A0C98"/>
<circle cx="1627" cy="292.5" r="5.9" fill="#B030C0"/>
<circle cx="1745.4" cy="318.9" r="4.5" fill="#2A18B0"/>
<circle cx="1768" cy="314.8" r="1.5" fill="#6A20B8"/>
<circle cx="1686.2" cy="375.5" r="3.1" fill="#2A18B0"/>
<circle cx="1774.9" cy="277.9" r="2.2" fill="#1A0C98"/>
<circle cx="1791.7" cy="288.8" r="3" fill="#2010A8"/>
<circle cx="1603.8" cy="309.1" r="5.7" fill="#2010A8"/>
<circle cx="1687.3" cy="327.7" r="6.9" fill="#6A20B8"/>
<circle cx="1644.7" cy="344.7" r="2.6" fill="#1A0C98"/>
<circle cx="1590.7" cy="357.3" r="1.9" fill="#C050C8"/>
<circle cx="1629.1" cy="290.1" r="3.5" fill="#B030C0"/>
<circle cx="1610.1" cy="315.2" r="1.3" fill="#2A18B0"/>
<circle cx="1599.4" cy="398" r="1.4" fill="#2010A8"/>
<circle cx="1708.9" cy="365.6" r="1.4" fill="#1A0C98"/>
<circle cx="1752.7" cy="271.4" r="1.7" fill="#6A20B8"/>
<circle cx="1668.8" cy="415.5" r="2.6" fill="#B030C0"/>
<circle cx="1616" cy="385.8" r="5.8" fill="#B030C0"/>
<circle cx="1711.7" cy="457.4" r="4.5" fill="#2A18B0"/>
<circle cx="1610.5" cy="364" r="3.5" fill="#6A20B8"/>
<circle cx="1664.7" cy="429.7" r="3.1" fill="#1A0C98"/>
<circle cx="1690.4" cy="390.2" r="1.9" fill="#A028B8"/>
<circle cx="1777.9" cy="412.2" r="2.9" fill="#6A20B8"/>
<circle cx="1786.9" cy="346.9" r="2.6" fill="#6A20B8"/>
<circle cx="1666.9" cy="330.8" r="2.8" fill="#2010A8"/>
<circle cx="1628.3" cy="257.9" r="2.2" fill="#2010A8"/>
<circle cx="1693.4" cy="380.2" r="2.1" fill="#2010A8"/>
<circle cx="1696.8" cy="456.3" r="2.1" fill="#A028B8"/>
<circle cx="1737.6" cy="360.4" r="1.5" fill="#1A0C98"/>
<circle cx="1747.3" cy="272.6" r="1.6" fill="#2A18B0"/>
<circle cx="1669.2" cy="268.7" r="3" fill="#2A18B0"/>
<circle cx="1658.4" cy="249.6" r="3.8" fill="#C050C8"/>
<circle cx="1735.8" cy="312.8" r="3.2" fill="#2010A8"/>
<circle cx="1722.2" cy="333.7" r="1.9" fill="#C050C8"/>
<circle cx="1639.3" cy="268.7" r="5.5" fill="#C050C8"/>
<circle cx="1615.3" cy="297.7" r="1.6" fill="#6A20B8"/>
<circle cx="1710.5" cy="279.6" r="2.9" fill="#6A20B8"/>
<circle cx="1694.6" cy="309.4" r="3.5" fill="#C050C8"/>
<circle cx="1700.1" cy="335.5" r="2.3" fill="#B030C0"/>
<circle cx="1700" cy="231.5" r="1.7" fill="#A028B8"/>
<circle cx="1715.7" cy="247.9" r="1.9" fill="#1A0C98"/>
<circle cx="1690.2" cy="320.8" r="3.5" fill="#2010A8"/>
<circle cx="1645.9" cy="443.6" r="1.8" fill="#A028B8"/>
<circle cx="1617.1" cy="268.8" r="1.9" fill="#1A0C98"/>
<circle cx="1771.1" cy="271.1" r="2.3" fill="#6A20B8"/>
<circle cx="1631" cy="334.6" r="2" fill="#B030C0"/>
<circle cx="1593.1" cy="377.4" r="4.2" fill="#A028B8"/>
<circle cx="1631.1" cy="387.1" r="2.3" fill="#2010A8"/>
<circle cx="1759.3" cy="403.1" r="3.5" fill="#A028B8"/>
<circle cx="1740.1" cy="242" r="5.7" fill="#A028B8"/>
<circle cx="1589" cy="316.6" r="1.6" fill="#C050C8"/>
<circle cx="1603.8" cy="305.2" r="5.4" fill="#1A0C98"/>
<circle cx="1710.3" cy="249.9" r="2.2" fill="#B030C0"/>
<circle cx="1622" cy="299" r="1.4" fill="#1A0C98"/>
<circle cx="1607.6" cy="366.8" r="5.9" fill="#C050C8"/>
<circle cx="1697.1" cy="266.1" r="3" fill="#A028B8"/>
<circle cx="1663.6" cy="369.5" r="1.7" fill="#A028B8"/>
<circle cx="1600" cy="312.7" r="1.6" fill="#2A18B0"/>
<circle cx="1751.6" cy="276.9" r="1.9" fill="#6A20B8"/>
<circle cx="1752.1" cy="394.9" r="4.3" fill="#A028B8"/>
<circle cx="1609.8" cy="298.6" r="1.6" fill="#2010A8"/>
<circle cx="1725.7" cy="249.2" r="2" fill="#B030C0"/>
<circle cx="1723.1" cy="425.1" r="1.3" fill="#C050C8"/>
<circle cx="1665.7" cy="443.9" r="2.3" fill="#A028B8"/>
<circle cx="1625.4" cy="367.9" r="6.9" fill="#C050C8"/>
<circle cx="1655.3" cy="247.7" r="5.8" fill="#6A20B8"/>
<circle cx="1783.9" cy="344.2" r="1.8" fill="#A028B8"/>
<circle cx="1711.5" cy="256.9" r="1.9" fill="#6A20B8"/>
<circle cx="1616.8" cy="413.7" r="2.1" fill="#2010A8"/>
<circle cx="1652.5" cy="304.9" r="5.3" fill="#B030C0"/>
<circle cx="1786.2" cy="380" r="4" fill="#B030C0"/>
<circle cx="1804.1" cy="392.3" r="1.9" fill="#1A0C98"/>
<circle cx="1641.8" cy="314.5" r="2.5" fill="#A028B8"/>
<circle cx="1714.5" cy="368" r="2.6" fill="#C050C8"/>
<circle cx="1683.5" cy="234.5" r="2.6" fill="#A028B8"/>
<circle cx="1770.4" cy="324.7" r="3.7" fill="#B030C0"/>
<circle cx="1663.7" cy="286.1" r="2.1" fill="#2A18B0"/>
<circle cx="1727.9" cy="365.8" r="2.5" fill="#B030C0"/>
<circle cx="1597.7" cy="298.3" r="3.4" fill="#2010A8"/>
<circle cx="1610.9" cy="302" r="1.8" fill="#1A0C98"/>
<circle cx="1622.4" cy="304.4" r="2.1" fill="#B030C0"/>
<circle cx="1742.9" cy="403.9" r="5.4" fill="#2A18B0"/>
<circle cx="1707.1" cy="371.5" r="2.8" fill="#2010A8"/>
<circle cx="1695.3" cy="278.6" r="3.1" fill="#2010A8"/>
<circle cx="1664.5" cy="285.4" r="2.8" fill="#1A0C98"/>
<circle cx="1676.7" cy="275.3" r="1.7" fill="#B030C0"/>
<circle cx="1691.8" cy="319.9" r="3.6" fill="#1A0C98"/>
<circle cx="1611.5" cy="273.5" r="1.7" fill="#A028B8"/>
<circle cx="1659.1" cy="433.6" r="3.6" fill="#B030C0"/>
<circle cx="1726.2" cy="398" r="3.5" fill="#B030C0"/>
<circle cx="1638.6" cy="425" r="4.5" fill="#C050C8"/>
<circle cx="1613.3" cy="318.7" r="3.1" fill="#2010A8"/>
<circle cx="1710.3" cy="248" r="1.3" fill="#1A0C98"/>
<circle cx="1772.9" cy="366.8" r="2.7" fill="#C050C8"/>
<circle cx="1620.7" cy="414.5" r="4.9" fill="#A028B8"/>
<circle cx="1730.5" cy="407.2" r="3.1" fill="#1A0C98"/>
<circle cx="1798.2" cy="380.5" r="1.3" fill="#2A18B0"/>
<circle cx="1658" cy="396.8" r="1.8" fill="#2010A8"/>
<circle cx="1619.5" cy="269.4" r="2.2" fill="#A028B8"/>
<circle cx="1733.2" cy="429.9" r="4.4" fill="#C050C8"/>
<circle cx="1646.5" cy="262.4" r="2.1" fill="#B030C0"/>
<circle cx="1656.1" cy="397.5" r="2.6" fill="#C050C8"/>
<circle cx="1735.3" cy="244.5" r="1.8" fill="#B030C0"/>
<circle cx="1802.9" cy="366.9" r="1.8" fill="#2A18B0"/>
<circle cx="1625.1" cy="428.4" r="2.2" fill="#1A0C98"/>
<circle cx="1697.1" cy="262.1" r="2.5" fill="#A028B8"/>
<circle cx="1810.9" cy="340" r="1.4" fill="#2A18B0"/>
<circle cx="1627.4" cy="330.1" r="2.5" fill="#2010A8"/>
<circle cx="1757.1" cy="278.7" r="1.4" fill="#2010A8"/>
<circle cx="1753.4" cy="350.5" r="2.8" fill="#2010A8"/>
<circle cx="1591.6" cy="383" r="2.6" fill="#A028B8"/>
<circle cx="1609.7" cy="313.9" r="2.3" fill="#B030C0"/>
<circle cx="1639" cy="259.5" r="5.1" fill="#A028B8"/>
<circle cx="1762.4" cy="353" r="1.7" fill="#2010A8"/>
<circle cx="1779.3" cy="294.9" r="1.6" fill="#C050C8"/>
<circle cx="1749.2" cy="250.1" r="3.6" fill="#6A20B8"/>
<circle cx="1754.8" cy="356.4" r="6.1" fill="#1A0C98"/>
<circle cx="1737.4" cy="242.2" r="1.9" fill="#2010A8"/>
<circle cx="1590.9" cy="364" r="1.7" fill="#6A20B8"/>
<circle cx="1651.6" cy="281.2" r="1.4" fill="#A028B8"/>
<circle cx="1679.9" cy="455.3" r="1.4" fill="#2A18B0"/>
<circle cx="1673.5" cy="272.4" r="2.9" fill="#2010A8"/>
<circle cx="1797.2" cy="333.6" r="2" fill="#6A20B8"/>
<circle cx="1693.2" cy="360.4" r="2.6" fill="#2010A8"/>
<circle cx="1600.8" cy="338" r="5.6" fill="#6A20B8"/>
<circle cx="1749.8" cy="316.4" r="2.3" fill="#C050C8"/>
<circle cx="1641.2" cy="270.9" r="2.3" fill="#2010A8"/>
<circle cx="1677" cy="253.4" r="2.2" fill="#B030C0"/>
<circle cx="1697.3" cy="242.9" r="1.4" fill="#C050C8"/>
<circle cx="1762.8" cy="374.2" r="4.7" fill="#2A18B0"/>
<circle cx="1632.5" cy="274.5" r="6.6" fill="#A028B8"/>
<circle cx="1688" cy="255.2" r="2.4" fill="#2010A8"/>
<circle cx="1743.8" cy="424.1" r="1.5" fill="#A028B8"/>
<circle cx="1615.7" cy="409.1" r="1.6" fill="#1A0C98"/>
<circle cx="1774.9" cy="313.8" r="4.2" fill="#1A0C98"/>
<circle cx="1597.7" cy="300.4" r="5.2" fill="#2010A8"/>
<circle cx="1726.8" cy="328.6" r="1.8" fill="#C050C8"/>
<circle cx="1745.6" cy="345.1" r="2.8" fill="#6A20B8"/>
<circle cx="1615.4" cy="413" r="1.5" fill="#2010A8"/>
<circle cx="1693.5" cy="237.6" r="2.7" fill="#A028B8"/>
<circle cx="1774" cy="290.8" r="6.7" fill="#6A20B8"/>
<circle cx="1688.7" cy="437.3" r="2.3" fill="#2010A8"/>
<circle cx="1595.4" cy="391.1" r="2" fill="#1A0C98"/>
<circle cx="1597.7" cy="381" r="1.8" fill="#1A0C98"/>
<circle cx="1606" cy="342.4" r="1.8" fill="#B030C0"/>
<circle cx="1740.4" cy="248.5" r="2.8" fill="#B030C0"/>
<circle cx="1755.6" cy="269.9" r="2.2" fill="#B030C0"/>
<circle cx="1774.7" cy="313.8" r="2.1" fill="#1A0C98"/>
<circle cx="1682.8" cy="243.2" r="2.7" fill="#C050C8"/>
<circle cx="1738" cy="253.1" r="4.1" fill="#A028B8"/>
<circle cx="1688.9" cy="254.7" r="6.5" fill="#2010A8"/>
<circle cx="1599.8" cy="319.7" r="4.2" fill="#1A0C98"/>
<circle cx="1734.2" cy="332.7" r="2.3" fill="#2010A8"/>
<circle cx="1608.9" cy="398.1" r="3.9" fill="#1A0C98"/>
<circle cx="1767.6" cy="308" r="2" fill="#B030C0"/>
<circle cx="1612.7" cy="315.1" r="3" fill="#1A0C98"/>
<circle cx="1676.1" cy="447" r="2.2" fill="#2010A8"/>
<circle cx="1599.4" cy="384.8" r="4.9" fill="#2A18B0"/>
<circle cx="1588.9" cy="317.1" r="3.7" fill="#1A0C98"/>
<circle cx="1784.3" cy="388.2" r="1.8" fill="#6A20B8"/>
<circle cx="1620.9" cy="354" r="2" fill="#2010A8"/>
<circle cx="1687.8" cy="242.6" r="1.5" fill="#2A18B0"/>
<circle cx="1707.1" cy="263.2" r="2" fill="#2A18B0"/>
<circle cx="1635.2" cy="279.1" r="4.6" fill="#6A20B8"/>
<circle cx="1595.3" cy="353.9" r="1.4" fill="#2010A8"/>
<circle cx="1673" cy="391.6" r="1.5" fill="#2010A8"/>
<circle cx="1773.2" cy="334.8" r="5.1" fill="#C050C8"/>
<circle cx="1709" cy="378.1" r="2.3" fill="#1A0C98"/>
<circle cx="1671.6" cy="422" r="6" fill="#B030C0"/>
<circle cx="1799.9" cy="294" r="1.9" fill="#6A20B8"/>
<circle cx="1603.2" cy="401.8" r="3.8" fill="#2A18B0"/>
<circle cx="1757.6" cy="415.6" r="4.3" fill="#2A18B0"/>
<circle cx="1741.9" cy="423.8" r="2.7" fill="#1A0C98"/>
<circle cx="1704.4" cy="271.7" r="3.1" fill="#6A20B8"/>
<circle cx="1706.2" cy="383.5" r="1.7" fill="#2A18B0"/>
<circle cx="1740.1" cy="268.9" r="2" fill="#1A0C98"/>
<circle cx="1756.1" cy="375.5" r="1.7" fill="#2010A8"/>
<circle cx="1672.6" cy="256.5" r="3.5" fill="#A028B8"/>
<circle cx="1728" cy="245.6" r="1.7" fill="#1A0C98"/>
<circle cx="1603.5" cy="366.2" r="4.1" fill="#C050C8"/>
<circle cx="1679.5" cy="295.6" r="3" fill="#2010A8"/>
<circle cx="1775.2" cy="284.1" r="2" fill="#2010A8"/>
<circle cx="1664.6" cy="237.5" r="2.8" fill="#A028B8"/>
<circle cx="1697" cy="449" r="4.5" fill="#1A0C98"/>
<circle cx="1664.9" cy="239.3" r="5.3" fill="#C050C8"/>
<circle cx="1610" cy="346.4" r="2.1" fill="#2010A8"/>
<circle cx="1598.1" cy="350.6" r="1.9" fill="#A028B8"/>
<circle cx="1633.3" cy="382.1" r="2" fill="#C050C8"/>
<circle cx="1633.3" cy="263.2" r="2.4" fill="#2A18B0"/>
<circle cx="1653.7" cy="375.2" r="2.6" fill="#1A0C98"/>
<circle cx="1799.1" cy="318.2" r="2.3" fill="#C050C8"/>
<circle cx="1681.1" cy="391.4" r="4.4" fill="#C050C8"/>
<circle cx="1600" cy="336.3" r="2.6" fill="#C050C8"/>
<circle cx="1707.8" cy="263.2" r="3.4" fill="#C050C8"/>
<circle cx="1760.3" cy="441.6" r="2.2" fill="#B030C0"/>
<circle cx="1744.9" cy="426.4" r="2.7" fill="#2010A8"/>
<circle cx="1605.5" cy="406.3" r="1.4" fill="#1A0C98"/>
<circle cx="1641.5" cy="267.6" r="1.6" fill="#1A0C98"/>
<circle cx="1639.7" cy="338.2" r="1.7" fill="#6A20B8"/>
<circle cx="1611.7" cy="365.3" r="2.6" fill="#A028B8"/>
<circle cx="1690.2" cy="340.5" r="4" fill="#B030C0"/>
<circle cx="1640.2" cy="285" r="2.2" fill="#6A20B8"/>
<circle cx="1704" cy="240" r="1.7" fill="#2010A8"/>
<circle cx="1645.7" cy="407.2" r="1.4" fill="#2010A8"/>
<circle cx="1650.2" cy="354.3" r="1.7" fill="#6A20B8"/>
<circle cx="1751.3" cy="272.4" r="6.1" fill="#2010A8"/>
<circle cx="1624.3" cy="361.5" r="3" fill="#6A20B8"/>
<circle cx="1780.9" cy="266.1" r="1.6" fill="#A028B8"/>
<circle cx="1778.5" cy="273.8" r="1.7" fill="#1A0C98"/>
<circle cx="1771.3" cy="359.7" r="1.9" fill="#2A18B0"/>
<circle cx="1792.2" cy="381.8" r="1.9" fill="#2A18B0"/>
<circle cx="1717" cy="359.2" r="1.7" fill="#6A20B8"/>
<circle cx="1594.5" cy="373.8" r="3.3" fill="#1A0C98"/>
<circle cx="1755.6" cy="267.3" r="3.8" fill="#1A0C98"/>
<circle cx="1608.9" cy="279" r="1.6" fill="#1A0C98"/>
<circle cx="1622.6" cy="297" r="2.6" fill="#1A0C98"/>
<circle cx="1731.5" cy="451.5" r="2.4" fill="#2010A8"/>
<circle cx="1668.6" cy="452.3" r="2.1" fill="#2010A8"/>
<circle cx="1679" cy="243.3" r="2.2" fill="#B030C0"/>
<circle cx="1732.2" cy="359.5" r="2.5" fill="#B030C0"/>
<circle cx="1780" cy="305.3" r="2.2" fill="#2010A8"/>
<circle cx="1655.6" cy="420.3" r="1.8" fill="#2010A8"/>
<circle cx="1615.1" cy="289.7" r="1.3" fill="#2010A8"/>
<circle cx="1646.9" cy="409.9" r="1.3" fill="#2010A8"/>
<circle cx="1612.7" cy="407.9" r="1.5" fill="#B030C0"/>
<circle cx="1700.7" cy="258.6" r="4" fill="#C050C8"/>
<circle cx="1685.2" cy="248.9" r="2.4" fill="#A028B8"/>
<circle cx="1745.6" cy="270.4" r="5.1" fill="#C050C8"/>
<circle cx="1701.2" cy="251.3" r="4.9" fill="#2010A8"/>
<circle cx="1771.4" cy="281" r="4.7" fill="#C050C8"/>
<circle cx="1598.5" cy="353" r="4.5" fill="#2010A8"/>
<circle cx="1648.1" cy="443" r="3.1" fill="#C050C8"/>
<circle cx="1693.4" cy="387.5" r="3.3" fill="#2010A8"/>
<circle cx="1601.8" cy="348.8" r="1.5" fill="#B030C0"/>
<circle cx="1745.8" cy="326.1" r="1.8" fill="#6A20B8"/>
<circle cx="1641.8" cy="345.5" r="2.4" fill="#A028B8"/>
<circle cx="1614.1" cy="383" r="5.3" fill="#C050C8"/>
<circle cx="1730.3" cy="290" r="2.2" fill="#6A20B8"/>
<circle cx="1600.7" cy="357.1" r="1.8" fill="#6A20B8"/>
<circle cx="1743.7" cy="351.4" r="3.3" fill="#C050C8"/>
<circle cx="1763.5" cy="253.2" r="1.8" fill="#2010A8"/>
<circle cx="1635.2" cy="369.6" r="2.6" fill="#2A18B0"/>
<circle cx="1697.9" cy="242.6" r="1.8" fill="#A028B8"/>
<circle cx="1620.3" cy="286.1" r="1.5" fill="#1A0C98"/>
<circle cx="1760.7" cy="334.7" r="6.1" fill="#2010A8"/>
<circle cx="1795.7" cy="297.4" r="3.9" fill="#A028B8"/>
<circle cx="1653.8" cy="246.9" r="3.3" fill="#2010A8"/>
<circle cx="1736.2" cy="356.2" r="2.3" fill="#A028B8"/>
<circle cx="1783.2" cy="341.1" r="2.9" fill="#6A20B8"/>
<circle cx="1666" cy="360.7" r="3.4" fill="#B030C0"/>
<circle cx="1682.6" cy="242.1" r="1.6" fill="#B030C0"/>
<circle cx="1600.6" cy="383.7" r="1.6" fill="#B030C0"/>
<circle cx="1605.6" cy="300.8" r="1.5" fill="#C050C8"/>
<circle cx="1807.7" cy="360.1" r="3.3" fill="#A028B8"/>
<circle cx="1719.3" cy="383.9" r="1.9" fill="#2010A8"/>
<circle cx="1591.1" cy="329.7" r="6.1" fill="#C050C8"/>
<circle cx="1737.2" cy="270.2" r="2.7" fill="#A028B8"/>
<circle cx="1630.1" cy="263.1" r="2" fill="#2010A8"/>
<circle cx="1655.1" cy="288.1" r="2.3" fill="#2A18B0"/>
<circle cx="1762.4" cy="263.2" r="2.2" fill="#6A20B8"/>
<circle cx="1684.8" cy="357.5" r="1.9" fill="#A028B8"/>
<circle cx="1645.8" cy="388.1" r="1.5" fill="#1A0C98"/>
<circle cx="1611" cy="364" r="2.8" fill="#6A20B8"/>
<circle cx="1729.9" cy="430.1" r="1.3" fill="#1A0C98"/>
<circle cx="1614.3" cy="395.6" r="4.2" fill="#A028B8"/>
<circle cx="1603" cy="286.5" r="3.5" fill="#C050C8"/>
<circle cx="1671.6" cy="257" r="3.3" fill="#2010A8"/>
<circle cx="1758.3" cy="274.3" r="2.2" fill="#B030C0"/>
<circle cx="1775.4" cy="430.9" r="1.8" fill="#B030C0"/>
<circle cx="1670.3" cy="372.3" r="1.8" fill="#2A18B0"/>
<circle cx="1740.1" cy="419.6" r="4.1" fill="#A028B8"/>
<circle cx="1809.5" cy="339.7" r="1.7" fill="#C050C8"/>
<circle cx="1641.3" cy="419.1" r="2.3" fill="#A028B8"/>
<circle cx="1747.8" cy="330.1" r="2.4" fill="#2010A8"/>
<circle cx="1723.2" cy="300.5" r="3.5" fill="#6A20B8"/>
<circle cx="1617.6" cy="407.8" r="5.2" fill="#6A20B8"/>
<circle cx="1593.9" cy="371.8" r="2.6" fill="#B030C0"/>
<circle cx="1593.5" cy="335.6" r="3" fill="#1A0C98"/>
<circle cx="1639.3" cy="430" r="1.6" fill="#2010A8"/>
<circle cx="1735.6" cy="372" r="3.5" fill="#B030C0"/>
<circle cx="1587.8" cy="326.7" r="1.8" fill="#2A18B0"/>
<circle cx="1719.9" cy="357.7" r="1.6" fill="#A028B8"/>
<circle cx="1632.5" cy="383.2" r="1.9" fill="#C050C8"/>
<circle cx="1730.9" cy="422" r="2" fill="#A028B8"/>
<circle cx="1724.5" cy="321.3" r="1.7" fill="#6A20B8"/>
<circle cx="1762.4" cy="260.9" r="1.8" fill="#A028B8"/>
<circle cx="1808.7" cy="323.2" r="2.5" fill="#2010A8"/>
<circle cx="1745.9" cy="248.5" r="1.6" fill="#6A20B8"/>
<circle cx="1805.5" cy="374.7" r="1.4" fill="#1A0C98"/>
<circle cx="1807.8" cy="378.3" r="4.2" fill="#2A18B0"/>
<circle cx="1608.1" cy="403.5" r="2.2" fill="#2010A8"/>
<circle cx="1702.9" cy="425.1" r="1.3" fill="#A028B8"/>
<circle cx="1653.8" cy="391.8" r="1.5" fill="#B030C0"/>
<circle cx="1710" cy="405.5" r="1.8" fill="#A028B8"/>
<circle cx="1787.6" cy="339.6" r="4.3" fill="#A028B8"/>
<circle cx="1781.3" cy="423" r="4.5" fill="#B030C0"/>
<circle cx="1622.5" cy="291.1" r="1.3" fill="#2A18B0"/>
<circle cx="1626" cy="359.7" r="4" fill="#B030C0"/>
<circle cx="1619.2" cy="293.8" r="4.8" fill="#C050C8"/>
<circle cx="1624" cy="292.7" r="2.1" fill="#A028B8"/>
<circle cx="1806.9" cy="365.3" r="3.8" fill="#B030C0"/>
<circle cx="1744.5" cy="307.5" r="3.3" fill="#C050C8"/>
<circle cx="1585.4" cy="350.3" r="1.8" fill="#B030C0"/>
</g>
</g>
<clipPath id="pb2"><rect x="1314" y="476.3" width="260" height="268.2"/></clipPath>
<g clip-path="url(#pb2)">
<circle cx="1447" cy="606" r="129" fill="#AEEAFA" stroke="#8ED0EE" stroke-width="3"/>
<circle cx="1447" cy="606" r="122" fill="none" stroke="#8ED0EE" stroke-width="1.5" opacity="0.5"/>
<g filter="url(#soft)">
<circle cx="1461.2" cy="487.5" r="1.6" fill="#6A10D0"/>
<circle cx="1416.1" cy="696.2" r="4.8" fill="#1A08C0"/>
<circle cx="1391" cy="604" r="1.4" fill="#8A18C8"/>
<circle cx="1555.1" cy="600.9" r="1.7" fill="#2010E0"/>
<circle cx="1500.6" cy="535.6" r="1.4" fill="#2010E0"/>
<circle cx="1524.6" cy="665.9" r="2.4" fill="#5010D0"/>
<circle cx="1398.3" cy="630.8" r="2.8" fill="#8A18C8"/>
<circle cx="1392.2" cy="586.8" r="4.2" fill="#1A08C0"/>
<circle cx="1537.9" cy="572.9" r="1.3" fill="#6A10D0"/>
<circle cx="1344.2" cy="653.2" r="2.7" fill="#6A10D0"/>
<circle cx="1482.7" cy="661.2" r="4.3" fill="#1A08C0"/>
<circle cx="1402.3" cy="498.5" r="2.1" fill="#5010D0"/>
<circle cx="1543.6" cy="615.4" r="2.8" fill="#5010D0"/>
<circle cx="1342.1" cy="586.9" r="1.8" fill="#3A10D8"/>
<circle cx="1441.1" cy="720.3" r="4.9" fill="#6A10D0"/>
<circle cx="1438.2" cy="509" r="1.4" fill="#1A08C0"/>
<circle cx="1518" cy="526.2" r="1.6" fill="#2010E0"/>
<circle cx="1500.4" cy="506.9" r="2.8" fill="#3A10D8"/>
<circle cx="1377" cy="538.2" r="2.1" fill="#1A08C0"/>
<circle cx="1421.5" cy="723.8" r="1.6" fill="#3A10D8"/>
<circle cx="1513.7" cy="519.8" r="2.5" fill="#1A08C0"/>
<circle cx="1434.5" cy="497" r="1.9" fill="#2010E0"/>
<circle cx="1517" cy="581.7" r="2.5" fill="#8A18C8"/>
<circle cx="1330.1" cy="627.4" r="3.2" fill="#5010D0"/>
<circle cx="1416.4" cy="496.8" r="2.7" fill="#5010D0"/>
<circle cx="1366" cy="547" r="2.8" fill="#6A10D0"/>
<circle cx="1353.6" cy="602.1" r="1.8" fill="#2010E0"/>
<circle cx="1344.1" cy="544.7" r="2.6" fill="#3A10D8"/>
<circle cx="1427.5" cy="685.2" r="3.4" fill="#5010D0"/>
<circle cx="1543.2" cy="643.9" r="1.6" fill="#8A18C8"/>
<circle cx="1467.4" cy="618.4" r="3.3" fill="#1A08C0"/>
<circle cx="1460.8" cy="713.9" r="2.4" fill="#5010D0"/>
<circle cx="1409" cy="535" r="1.8" fill="#5010D0"/>
<circle cx="1412.2" cy="595.1" r="3.4" fill="#5010D0"/>
<circle cx="1493.4" cy="686" r="1.6" fill="#3A10D8"/>
<circle cx="1520.8" cy="543.5" r="4.4" fill="#2010E0"/>
<circle cx="1386.4" cy="586.8" r="1.4" fill="#8A18C8"/>
<circle cx="1558.9" cy="586" r="1.8" fill="#2010E0"/>
<circle cx="1356" cy="527.5" r="1.3" fill="#1A08C0"/>
<circle cx="1384.5" cy="561" r="2.8" fill="#6A10D0"/>
<circle cx="1396.7" cy="684" r="5.3" fill="#3A10D8"/>
<circle cx="1423.9" cy="508.2" r="2" fill="#6A10D0"/>
<circle cx="1348.2" cy="627.3" r="5.6" fill="#3A10D8"/>
<circle cx="1456.7" cy="725.5" r="2" fill="#6A10D0"/>
<circle cx="1336.7" cy="654.2" r="7.1" fill="#1A08C0"/>
<circle cx="1436.6" cy="720" r="2.1" fill="#1A08C0"/>
<circle cx="1519" cy="697.9" r="1.7" fill="#3A10D8"/>
<circle cx="1444.9" cy="559.4" r="1.3" fill="#2010E0"/>
<circle cx="1528.6" cy="523" r="3.8" fill="#8A18C8"/>
<circle cx="1517" cy="660.6" r="1.9" fill="#5010D0"/>
<circle cx="1519" cy="631.2" r="6.8" fill="#5010D0"/>
<circle cx="1487.8" cy="513.8" r="2" fill="#8A18C8"/>
<circle cx="1431.5" cy="522.3" r="1.7" fill="#3A10D8"/>
<circle cx="1336.2" cy="611.9" r="2.7" fill="#2010E0"/>
<circle cx="1418.3" cy="581.2" r="2.1" fill="#2010E0"/>
<circle cx="1461.8" cy="709.2" r="3.5" fill="#2010E0"/>
<circle cx="1386.6" cy="710.6" r="2.4" fill="#3A10D8"/>
<circle cx="1446.2" cy="713.4" r="4.4" fill="#2010E0"/>
<circle cx="1526.7" cy="681.9" r="1.9" fill="#8A18C8"/>
<circle cx="1395.2" cy="496.9" r="2.2" fill="#1A08C0"/>
<circle cx="1481.2" cy="708.3" r="2.5" fill="#2010E0"/>
<circle cx="1418.3" cy="500.5" r="1.8" fill="#6A10D0"/>
<circle cx="1345.1" cy="651.4" r="2.3" fill="#2010E0"/>
<circle cx="1531.2" cy="665" r="2.5" fill="#6A10D0"/>
<circle cx="1484.2" cy="551.6" r="3.8" fill="#6A10D0"/>
<circle cx="1390.9" cy="601.8" r="1.8" fill="#8A18C8"/>
<circle cx="1523.2" cy="614.5" r="3.3" fill="#1A08C0"/>
<circle cx="1349.2" cy="655.7" r="1.5" fill="#8A18C8"/>
<circle cx="1361.4" cy="539.9" r="2.7" fill="#2010E0"/>
<circle cx="1443" cy="548.6" r="1.5" fill="#3A10D8"/>
<circle cx="1540.4" cy="621.5" r="3.4" fill="#5010D0"/>
<circle cx="1492.4" cy="689.6" r="2.3" fill="#2010E0"/>
<circle cx="1466.5" cy="498.9" r="2.4" fill="#1A08C0"/>
<circle cx="1500.4" cy="519.1" r="3.8" fill="#8A18C8"/>
<circle cx="1349.2" cy="630.9" r="3" fill="#8A18C8"/>
<circle cx="1338" cy="632.9" r="1.7" fill="#2010E0"/>
<circle cx="1498.2" cy="509.7" r="2.6" fill="#3A10D8"/>
<circle cx="1411.3" cy="584.7" r="2.9" fill="#3A10D8"/>
<circle cx="1352.6" cy="575.8" r="1.7" fill="#6A10D0"/>
<circle cx="1552.9" cy="615.4" r="2.2" fill="#5010D0"/>
<circle cx="1467.9" cy="590.7" r="4.8" fill="#1A08C0"/>
<circle cx="1533.4" cy="590.5" r="3" fill="#6A10D0"/>
<circle cx="1465.5" cy="675" r="3.9" fill="#8A18C8"/>
<circle cx="1434.1" cy="620.8" r="2.3" fill="#3A10D8"/>
<circle cx="1527.9" cy="683.1" r="1.6" fill="#6A10D0"/>
<circle cx="1388.8" cy="689" r="2.8" fill="#3A10D8"/>
<circle cx="1541.6" cy="538.6" r="1.7" fill="#6A10D0"/>
<circle cx="1477.2" cy="538.8" r="1.5" fill="#6A10D0"/>
<circle cx="1459.8" cy="486.5" r="3" fill="#1A08C0"/>
<circle cx="1343.8" cy="663" r="2.6" fill="#3A10D8"/>
<circle cx="1526" cy="659.9" r="5.9" fill="#8A18C8"/>
<circle cx="1461.8" cy="719.4" r="1.5" fill="#1A08C0"/>
<circle cx="1380.5" cy="583.8" r="2.3" fill="#6A10D0"/>
<circle cx="1366" cy="578.8" r="1.6" fill="#8A18C8"/>
<circle cx="1539.2" cy="621.8" r="2.1" fill="#3A10D8"/>
<circle cx="1367.5" cy="541.5" r="5" fill="#6A10D0"/>
<circle cx="1528.6" cy="662.4" r="3.4" fill="#3A10D8"/>
<circle cx="1421.3" cy="683" r="1.9" fill="#3A10D8"/>
<circle cx="1546.1" cy="607.9" r="5.4" fill="#3A10D8"/>
<circle cx="1523.5" cy="533.7" r="5.2" fill="#8A18C8"/>
<circle cx="1541.9" cy="650.9" r="2" fill="#8A18C8"/>
<circle cx="1523.5" cy="644.7" r="4.3" fill="#5010D0"/>
<circle cx="1549.9" cy="663.3" r="3.2" fill="#3A10D8"/>
<circle cx="1345.3" cy="667.5" r="1.8" fill="#6A10D0"/>
<circle cx="1493.8" cy="543.7" r="1.4" fill="#5010D0"/>
<circle cx="1546.1" cy="664.7" r="4.1" fill="#5010D0"/>
<circle cx="1447.2" cy="505.4" r="2.2" fill="#5010D0"/>
<circle cx="1468.2" cy="624.5" r="3.6" fill="#3A10D8"/>
<circle cx="1392.7" cy="502.2" r="2.5" fill="#5010D0"/>
<circle cx="1372.7" cy="610.4" r="2.4" fill="#1A08C0"/>
<circle cx="1420.6" cy="674" r="1.4" fill="#3A10D8"/>
<circle cx="1469.9" cy="562.4" r="2.5" fill="#3A10D8"/>
<circle cx="1425.8" cy="520.2" r="1.8" fill="#8A18C8"/>
<circle cx="1344.3" cy="576.6" r="2.3" fill="#3A10D8"/>
<circle cx="1528.9" cy="572.7" r="2.5" fill="#2010E0"/>
<circle cx="1433.2" cy="654.6" r="2.3" fill="#6A10D0"/>
<circle cx="1451.8" cy="682.1" r="2" fill="#8A18C8"/>
<circle cx="1556.5" cy="653.7" r="2.5" fill="#5010D0"/>
<circle cx="1517" cy="538.6" r="2.9" fill="#2010E0"/>
<circle cx="1401.7" cy="541.4" r="1.7" fill="#8A18C8"/>
<circle cx="1379.6" cy="610.5" r="3.2" fill="#5010D0"/>
<circle cx="1434.3" cy="548.4" r="7.1" fill="#5010D0"/>
<circle cx="1354.8" cy="597.9" r="2.1" fill="#8A18C8"/>
<circle cx="1535.2" cy="620.3" r="2.6" fill="#5010D0"/>
<circle cx="1473.2" cy="642" r="2.3" fill="#5010D0"/>
<circle cx="1553.7" cy="637.3" r="1.8" fill="#2010E0"/>
<circle cx="1535.9" cy="640.6" r="2.8" fill="#8A18C8"/>
<circle cx="1411.5" cy="556.4" r="1.6" fill="#1A08C0"/>
<circle cx="1477.5" cy="663.3" r="2.4" fill="#3A10D8"/>
<circle cx="1426.5" cy="488.1" r="2.2" fill="#8A18C8"/>
<circle cx="1479.1" cy="646.5" r="6.6" fill="#5010D0"/>
<circle cx="1501.9" cy="510.3" r="1.5" fill="#5010D0"/>
<circle cx="1437.8" cy="636" r="1.6" fill="#2010E0"/>
<circle cx="1553.3" cy="597.9" r="2.9" fill="#8A18C8"/>
<circle cx="1349.9" cy="664.8" r="1.7" fill="#2010E0"/>
<circle cx="1460.5" cy="492.7" r="3.9" fill="#8A18C8"/>
<circle cx="1508.4" cy="705.3" r="3.5" fill="#8A18C8"/>
<circle cx="1436.1" cy="498" r="1.4" fill="#2010E0"/>
<circle cx="1561.4" cy="584.4" r="1.4" fill="#5010D0"/>
<circle cx="1446.7" cy="509.7" r="2.2" fill="#8A18C8"/>
<circle cx="1534.9" cy="593" r="2.9" fill="#6A10D0"/>
<circle cx="1346.4" cy="544.2" r="4.9" fill="#6A10D0"/>
<circle cx="1457.1" cy="532.2" r="5.5" fill="#5010D0"/>
<circle cx="1347.7" cy="568" r="1.6" fill="#5010D0"/>
<circle cx="1417.6" cy="490.8" r="7" fill="#5010D0"/>
<circle cx="1436.2" cy="649.3" r="5.5" fill="#5010D0"/>
<circle cx="1449.7" cy="493.4" r="1.4" fill="#6A10D0"/>
<circle cx="1473.2" cy="598.7" r="4.5" fill="#5010D0"/>
<circle cx="1488.1" cy="503.2" r="2.5" fill="#2010E0"/>
<circle cx="1426.3" cy="509.7" r="2.4" fill="#6A10D0"/>
<circle cx="1327.4" cy="621.5" r="1.6" fill="#8A18C8"/>
<circle cx="1441.4" cy="713.4" r="2.7" fill="#5010D0"/>
<circle cx="1375.2" cy="676.5" r="3.6" fill="#6A10D0"/>
<circle cx="1468.2" cy="528.5" r="2.9" fill="#3A10D8"/>
<circle cx="1562.1" cy="585.1" r="6.1" fill="#1A08C0"/>
<circle cx="1479.7" cy="517.9" r="1.9" fill="#2010E0"/>
<circle cx="1451" cy="688.1" r="2.7" fill="#8A18C8"/>
<circle cx="1528.5" cy="595.8" r="2.3" fill="#2010E0"/>
<circle cx="1435.5" cy="642.8" r="6.1" fill="#6A10D0"/>
<circle cx="1529.4" cy="662.3" r="3.4" fill="#8A18C8"/>
<circle cx="1475.5" cy="491.3" r="2.5" fill="#2010E0"/>
<circle cx="1485.8" cy="503.6" r="1.6" fill="#3A10D8"/>
<circle cx="1375.6" cy="563.2" r="3.3" fill="#1A08C0"/>
<circle cx="1461.5" cy="501.4" r="1.7" fill="#1A08C0"/>
<circle cx="1374.8" cy="563.4" r="1.5" fill="#5010D0"/>
<circle cx="1466.5" cy="598.6" r="3.5" fill="#2010E0"/>
<circle cx="1376.3" cy="642.9" r="2.9" fill="#3A10D8"/>
<circle cx="1404.8" cy="642.6" r="2" fill="#6A10D0"/>
<circle cx="1506.7" cy="676.4" r="1.7" fill="#1A08C0"/>
<circle cx="1460.7" cy="523.9" r="2.4" fill="#1A08C0"/>
<circle cx="1390.1" cy="624.9" r="2.9" fill="#2010E0"/>
<circle cx="1393.6" cy="538.1" r="6.1" fill="#5010D0"/>
<circle cx="1516.4" cy="532.5" r="2.9" fill="#1A08C0"/>
<circle cx="1466.1" cy="703.1" r="1.3" fill="#5010D0"/>
<circle cx="1497.4" cy="661.5" r="7.1" fill="#6A10D0"/>
<circle cx="1406.6" cy="518.9" r="1.8" fill="#3A10D8"/>
<circle cx="1373.7" cy="659.3" r="1.8" fill="#8A18C8"/>
<circle cx="1545.3" cy="665.2" r="1.6" fill="#1A08C0"/>
<circle cx="1436.1" cy="595.2" r="2" fill="#6A10D0"/>
<circle cx="1460.6" cy="494.1" r="1.3" fill="#1A08C0"/>
<circle cx="1380" cy="613.7" r="4.8" fill="#8A18C8"/>
<circle cx="1535.3" cy="604.3" r="2" fill="#2010E0"/>
<circle cx="1382.8" cy="692" r="1.6" fill="#8A18C8"/>
<circle cx="1556.1" cy="645.3" r="2.8" fill="#2010E0"/>
<circle cx="1431.2" cy="502.7" r="3.2" fill="#1A08C0"/>
<circle cx="1491.1" cy="497.3" r="2" fill="#1A08C0"/>
<circle cx="1427.7" cy="665.2" r="1.9" fill="#5010D0"/>
<circle cx="1386.1" cy="674.2" r="1.6" fill="#8A18C8"/>
<circle cx="1340.8" cy="607.3" r="5.6" fill="#8A18C8"/>
<circle cx="1492.9" cy="598.3" r="2.8" fill="#1A08C0"/>
<circle cx="1500" cy="691.3" r="3.2" fill="#8A18C8"/>
<circle cx="1439.9" cy="719.2" r="6" fill="#2010E0"/>
<circle cx="1479.3" cy="603.4" r="2.7" fill="#3A10D8"/>
<circle cx="1481.5" cy="493" r="5.4" fill="#2010E0"/>
<circle cx="1498.5" cy="517.7" r="1.9" fill="#3A10D8"/>
<circle cx="1539.9" cy="681.7" r="3.4" fill="#6A10D0"/>
<circle cx="1410" cy="718.8" r="3.1" fill="#1A08C0"/>
<circle cx="1515.8" cy="675.3" r="2.5" fill="#6A10D0"/>
<circle cx="1386.6" cy="678.2" r="1.3" fill="#1A08C0"/>
<circle cx="1463.3" cy="500.2" r="2.4" fill="#1A08C0"/>
<circle cx="1488.3" cy="622.7" r="6.2" fill="#3A10D8"/>
<circle cx="1476.2" cy="497.9" r="1.4" fill="#3A10D8"/>
<circle cx="1514.3" cy="642.9" r="4.7" fill="#2010E0"/>
<circle cx="1413.5" cy="684.2" r="1.6" fill="#2010E0"/>
<circle cx="1488.1" cy="608.2" r="2.8" fill="#3A10D8"/>
<circle cx="1518.1" cy="538.5" r="2.2" fill="#2010E0"/>
<circle cx="1536.8" cy="661.5" r="2.7" fill="#2010E0"/>
<circle cx="1527" cy="537.8" r="1.4" fill="#1A08C0"/>
<circle cx="1507.7" cy="646.4" r="2.6" fill="#5010D0"/>
<circle cx="1497.1" cy="538.8" r="2.4" fill="#3A10D8"/>
<circle cx="1440.7" cy="525.2" r="1.6" fill="#8A18C8"/>
<circle cx="1346.3" cy="617.2" r="1.7" fill="#3A10D8"/>
<circle cx="1385.9" cy="571.6" r="3.4" fill="#2010E0"/>
<circle cx="1441.9" cy="506.5" r="2.7" fill="#2010E0"/>
<circle cx="1469.6" cy="717.4" r="3.6" fill="#3A10D8"/>
<circle cx="1393.2" cy="510.6" r="2.1" fill="#3A10D8"/>
<circle cx="1517" cy="535.6" r="1.9" fill="#6A10D0"/>
<circle cx="1415.7" cy="648.9" r="1.7" fill="#6A10D0"/>
<circle cx="1539.3" cy="642.2" r="1.9" fill="#6A10D0"/>
<circle cx="1459.7" cy="673.9" r="3.3" fill="#5010D0"/>
<circle cx="1451.9" cy="565.2" r="2.7" fill="#3A10D8"/>
<circle cx="1526.3" cy="697.3" r="4" fill="#3A10D8"/>
<circle cx="1493.3" cy="494.8" r="3.1" fill="#6A10D0"/>
<circle cx="1432.9" cy="583.2" r="1.9" fill="#5010D0"/>
<circle cx="1359" cy="583.7" r="5.3" fill="#2010E0"/>
<circle cx="1536.4" cy="676.5" r="3.8" fill="#5010D0"/>
<circle cx="1566.5" cy="607.6" r="2.3" fill="#2010E0"/>
<circle cx="1554.2" cy="588" r="4.9" fill="#8A18C8"/>
<circle cx="1518.8" cy="680.4" r="3.9" fill="#8A18C8"/>
<circle cx="1517" cy="602.2" r="1.4" fill="#6A10D0"/>
<circle cx="1389.4" cy="589.3" r="4.7" fill="#3A10D8"/>
<circle cx="1344.6" cy="616.8" r="2.4" fill="#8A18C8"/>
<circle cx="1429.1" cy="511.3" r="1.9" fill="#6A10D0"/>
<circle cx="1491.6" cy="516.3" r="1.3" fill="#6A10D0"/>
<circle cx="1467.3" cy="502.3" r="2.2" fill="#2010E0"/>
<circle cx="1510.2" cy="665.6" r="3.6" fill="#6A10D0"/>
<circle cx="1554.3" cy="575.6" r="3.2" fill="#1A08C0"/>
<circle cx="1563.4" cy="599.7" r="7.2" fill="#5010D0"/>
<circle cx="1350.9" cy="676.7" r="1.4" fill="#2010E0"/>
<circle cx="1402.8" cy="516.5" r="2" fill="#2010E0"/>
<circle cx="1405.5" cy="511.4" r="3.9" fill="#3A10D8"/>
<circle cx="1362.3" cy="602.7" r="1.4" fill="#3A10D8"/>
<circle cx="1340.7" cy="635.6" r="1.4" fill="#5010D0"/>
<circle cx="1494.2" cy="513.9" r="3.4" fill="#6A10D0"/>
<circle cx="1431" cy="513.8" r="1.6" fill="#8A18C8"/>
<circle cx="1522.3" cy="685" r="8" fill="#2010E0"/>
<circle cx="1536.5" cy="651.1" r="3.7" fill="#1A08C0"/>
<circle cx="1366.7" cy="535.4" r="2.8" fill="#2010E0"/>
<circle cx="1563.6" cy="586.7" r="2.9" fill="#6A10D0"/>
<circle cx="1549.3" cy="666" r="1.3" fill="#3A10D8"/>
<circle cx="1542.4" cy="665.7" r="5.4" fill="#3A10D8"/>
<circle cx="1469.3" cy="535.4" r="2.8" fill="#5010D0"/>
<circle cx="1508.2" cy="696.5" r="3.3" fill="#5010D0"/>
<circle cx="1513.9" cy="672.6" r="1.8" fill="#6A10D0"/>
<circle cx="1545.3" cy="549.1" r="2.4" fill="#1A08C0"/>
<circle cx="1326.7" cy="608.1" r="1.6" fill="#8A18C8"/>
<circle cx="1510.2" cy="520.2" r="1.4" fill="#5010D0"/>
<circle cx="1397.7" cy="518.6" r="2.9" fill="#3A10D8"/>
<circle cx="1434.9" cy="601.9" r="3.5" fill="#8A18C8"/>
<circle cx="1376.3" cy="510" r="4.3" fill="#6A10D0"/>
<circle cx="1530.8" cy="652.8" r="1.4" fill="#5010D0"/>
<circle cx="1455.4" cy="496.4" r="2.2" fill="#1A08C0"/>
<circle cx="1458.9" cy="489" r="3.3" fill="#8A18C8"/>
<circle cx="1362.5" cy="618.7" r="3.6" fill="#2010E0"/>
<circle cx="1397.1" cy="516" r="1.9" fill="#3A10D8"/>
<circle cx="1410.7" cy="567.8" r="1.4" fill="#5010D0"/>
<circle cx="1502.4" cy="654.2" r="3.8" fill="#5010D0"/>
<circle cx="1409.1" cy="626.8" r="2.3" fill="#1A08C0"/>
<circle cx="1435" cy="566.5" r="2" fill="#2010E0"/>
<circle cx="1547.6" cy="567.6" r="1.6" fill="#6A10D0"/>
<circle cx="1476.4" cy="655.3" r="2.9" fill="#3A10D8"/>
<circle cx="1328.5" cy="622.1" r="3" fill="#2010E0"/>
<circle cx="1523.2" cy="678.2" r="5.2" fill="#8A18C8"/>
<circle cx="1378.9" cy="518.7" r="1.5" fill="#1A08C0"/>
<circle cx="1473.7" cy="589.3" r="1.3" fill="#5010D0"/>
<circle cx="1429.6" cy="570.1" r="3" fill="#2010E0"/>
<circle cx="1362.7" cy="574.3" r="2" fill="#8A18C8"/>
<circle cx="1481.9" cy="663.4" r="1.3" fill="#2010E0"/>
<circle cx="1397.2" cy="615.2" r="1.5" fill="#3A10D8"/>
<circle cx="1453.9" cy="713.2" r="3.6" fill="#5010D0"/>
</g>
</g>
<clipPath id="pb3"><rect x="1574" y="476.3" width="257" height="268.2"/></clipPath>
<g clip-path="url(#pb3)">
<circle cx="1700" cy="607" r="125" fill="#C0D8F4" stroke="#A2BEE6" stroke-width="3"/>
<circle cx="1700" cy="607" r="118" fill="none" stroke="#A2BEE6" stroke-width="1.5" opacity="0.5"/>
<g filter="url(#soft)">
<circle cx="1671.6" cy="571.1" r="2.5" fill="#B070C8"/>
<circle cx="1695" cy="692.9" r="1.7" fill="#7A48B0"/>
<circle cx="1662.5" cy="613.2" r="1.8" fill="#B070C8"/>
<circle cx="1745" cy="659.9" r="5.1" fill="#B070C8"/>
<circle cx="1631" cy="554" r="2" fill="#8A50B8"/>
<circle cx="1743.1" cy="674.7" r="2.9" fill="#7A48B0"/>
<circle cx="1602.4" cy="606.1" r="2.7" fill="#A060C0"/>
<circle cx="1739.7" cy="559" r="2.2" fill="#7A48B0"/>
<circle cx="1709.5" cy="545.5" r="1.8" fill="#8A50B8"/>
<circle cx="1593.7" cy="562.5" r="1.6" fill="#8A50B8"/>
<circle cx="1803.5" cy="583.7" r="3.7" fill="#7A48B0"/>
<circle cx="1678.6" cy="689.7" r="2" fill="#B070C8"/>
<circle cx="1631.2" cy="657" r="2" fill="#8A50B8"/>
<circle cx="1644.2" cy="595.4" r="1.5" fill="#7A48B0"/>
<circle cx="1783.7" cy="537.4" r="4.6" fill="#7A48B0"/>
<circle cx="1658.4" cy="521.7" r="1.3" fill="#B070C8"/>
<circle cx="1594.1" cy="581" r="1.4" fill="#7A48B0"/>
<circle cx="1801.3" cy="584" r="2.5" fill="#7A48B0"/>
<circle cx="1762.3" cy="678.6" r="2" fill="#B070C8"/>
<circle cx="1687.9" cy="614.4" r="1.2" fill="#7A48B0"/>
<circle cx="1589.1" cy="573.8" r="1.2" fill="#B070C8"/>
<circle cx="1608" cy="611.1" r="1.4" fill="#7A48B0"/>
<circle cx="1598.1" cy="631.1" r="1.2" fill="#7A48B0"/>
<circle cx="1699.9" cy="514.6" r="1.6" fill="#A060C0"/>
<circle cx="1654.2" cy="676" r="2.8" fill="#9858BC"/>
<circle cx="1766" cy="521.6" r="2.4" fill="#7A48B0"/>
<circle cx="1648.8" cy="506.5" r="1.3" fill="#8A50B8"/>
<circle cx="1746.1" cy="526.9" r="6.4" fill="#7A48B0"/>
<circle cx="1663.3" cy="693" r="1.8" fill="#A060C0"/>
<circle cx="1715.4" cy="497.8" r="2.1" fill="#7A48B0"/>
<circle cx="1697.3" cy="524.2" r="2.7" fill="#7A48B0"/>
<circle cx="1620.7" cy="589.6" r="1.7" fill="#8A50B8"/>
<circle cx="1620.6" cy="616.9" r="2.8" fill="#9858BC"/>
<circle cx="1773.8" cy="657.3" r="1.6" fill="#9858BC"/>
<circle cx="1735.9" cy="669.5" r="1.6" fill="#8A50B8"/>
<circle cx="1599.4" cy="637" r="1.8" fill="#9858BC"/>
<circle cx="1636.5" cy="523.5" r="1.8" fill="#B070C8"/>
<circle cx="1709.2" cy="563.9" r="1.2" fill="#7A48B0"/>
<circle cx="1797.8" cy="554.1" r="1.3" fill="#7A48B0"/>
<circle cx="1708.4" cy="658.1" r="2.4" fill="#8A50B8"/>
<circle cx="1689.1" cy="648.1" r="3.2" fill="#8A50B8"/>
<circle cx="1612.9" cy="586.6" r="2.4" fill="#B070C8"/>
<circle cx="1670.3" cy="502.7" r="2" fill="#8A50B8"/>
<circle cx="1732.6" cy="634.9" r="2" fill="#9858BC"/>
<circle cx="1711" cy="721.5" r="1.6" fill="#B070C8"/>
<circle cx="1788.2" cy="596.5" r="1.5" fill="#8A50B8"/>
<circle cx="1699" cy="704.5" r="1.8" fill="#8A50B8"/>
<circle cx="1593.9" cy="628.1" r="2.7" fill="#8A50B8"/>
<circle cx="1641.3" cy="575.4" r="4.8" fill="#9858BC"/>
<circle cx="1677.8" cy="516.2" r="1.3" fill="#A060C0"/>
<circle cx="1647.9" cy="709.1" r="2" fill="#9858BC"/>
<circle cx="1749.1" cy="534.2" r="1.8" fill="#A060C0"/>
<circle cx="1766.2" cy="623.3" r="1.8" fill="#7A48B0"/>
<circle cx="1734.4" cy="555.6" r="1.2" fill="#B070C8"/>
<circle cx="1773.1" cy="630.7" r="1.4" fill="#7A48B0"/>
<circle cx="1731.4" cy="647" r="1.3" fill="#9858BC"/>
<circle cx="1619.7" cy="679.9" r="4.3" fill="#A060C0"/>
<circle cx="1726.8" cy="713.9" r="1.7" fill="#7A48B0"/>
<circle cx="1808.9" cy="649.7" r="1.3" fill="#A060C0"/>
<circle cx="1761.6" cy="674.8" r="2.9" fill="#9858BC"/>
<circle cx="1726.5" cy="596.9" r="1.6" fill="#7A48B0"/>
<circle cx="1782.9" cy="576.7" r="3.8" fill="#9858BC"/>
<circle cx="1590.2" cy="596.4" r="1.5" fill="#9858BC"/>
<circle cx="1590" cy="610.3" r="3.1" fill="#B070C8"/>
<circle cx="1770.4" cy="679.5" r="2.9" fill="#8A50B8"/>
<circle cx="1788.2" cy="542.4" r="4.1" fill="#A060C0"/>
<circle cx="1705.3" cy="698.4" r="1.6" fill="#8A50B8"/>
<circle cx="1806.8" cy="570.1" r="1.9" fill="#9858BC"/>
<circle cx="1604.2" cy="649.3" r="2.6" fill="#8A50B8"/>
<circle cx="1658.3" cy="682.2" r="2.9" fill="#B070C8"/>
<circle cx="1694.6" cy="656.5" r="2.2" fill="#8A50B8"/>
<circle cx="1664.3" cy="678.9" r="3" fill="#7A48B0"/>
<circle cx="1792.4" cy="629.3" r="2.3" fill="#B070C8"/>
<circle cx="1647.8" cy="617.3" r="1.8" fill="#7A48B0"/>
<circle cx="1751.8" cy="648.2" r="2.9" fill="#9858BC"/>
<circle cx="1632.4" cy="695.5" r="1.4" fill="#A060C0"/>
<circle cx="1766.8" cy="528" r="1.7" fill="#8A50B8"/>
<circle cx="1607" cy="573.3" r="2.1" fill="#7A48B0"/>
<circle cx="1662.5" cy="528.7" r="1.6" fill="#9858BC"/>
<circle cx="1654.3" cy="554.2" r="3" fill="#A060C0"/>
<circle cx="1767.5" cy="683.1" r="3.9" fill="#9858BC"/>
<circle cx="1767.1" cy="685.6" r="4.3" fill="#A060C0"/>
<circle cx="1615.3" cy="579.3" r="1.9" fill="#7A48B0"/>
<circle cx="1709.3" cy="519.5" r="2.9" fill="#B070C8"/>
<circle cx="1743.2" cy="544.6" r="4" fill="#7A48B0"/>
<circle cx="1676.9" cy="675.5" r="6.2" fill="#9858BC"/>
<circle cx="1763.8" cy="702.9" r="1.2" fill="#B070C8"/>
<circle cx="1676.6" cy="716.9" r="2.1" fill="#A060C0"/>
<circle cx="1693.2" cy="718.3" r="2.2" fill="#7A48B0"/>
<circle cx="1652.3" cy="686.3" r="1.3" fill="#7A48B0"/>
<circle cx="1722.9" cy="522.3" r="1.2" fill="#B070C8"/>
<circle cx="1783.3" cy="543.1" r="1.6" fill="#9858BC"/>
<circle cx="1723.5" cy="530.7" r="2.4" fill="#8A50B8"/>
<circle cx="1671.6" cy="670.4" r="2.2" fill="#8A50B8"/>
<circle cx="1692.9" cy="635.8" r="2.1" fill="#7A48B0"/>
<circle cx="1735.8" cy="616.6" r="4" fill="#A060C0"/>
<circle cx="1691.7" cy="704.7" r="1.8" fill="#7A48B0"/>
<circle cx="1765.8" cy="669.1" r="1.7" fill="#A060C0"/>
<circle cx="1738.6" cy="551.2" r="2.3" fill="#7A48B0"/>
<circle cx="1706.1" cy="647" r="2.4" fill="#7A48B0"/>
<circle cx="1631.6" cy="651.5" r="5.7" fill="#7A48B0"/>
<circle cx="1731.6" cy="516.2" r="3.3" fill="#B070C8"/>
<circle cx="1601.7" cy="595.7" r="1.6" fill="#B070C8"/>
<circle cx="1687.1" cy="490.7" r="1.5" fill="#9858BC"/>
<circle cx="1702.9" cy="552.3" r="3.4" fill="#B070C8"/>
<circle cx="1776.9" cy="532.9" r="1.4" fill="#A060C0"/>
<circle cx="1682.7" cy="504.1" r="1.9" fill="#7A48B0"/>
<circle cx="1723.8" cy="711.6" r="1.7" fill="#B070C8"/>
<circle cx="1780.5" cy="613.7" r="1.2" fill="#7A48B0"/>
<circle cx="1777.8" cy="540.3" r="1.2" fill="#7A48B0"/>
<circle cx="1691.4" cy="705.1" r="3.1" fill="#7A48B0"/>
<circle cx="1796.9" cy="574" r="2.7" fill="#9858BC"/>
<circle cx="1732.7" cy="502" r="1.7" fill="#A060C0"/>
<circle cx="1617.3" cy="556.4" r="2.1" fill="#A060C0"/>
<circle cx="1628.1" cy="688.3" r="3.5" fill="#A060C0"/>
<circle cx="1670" cy="617.4" r="2.5" fill="#A060C0"/>
<circle cx="1765" cy="567.3" r="2.4" fill="#9858BC"/>
<circle cx="1699.2" cy="659.2" r="3.2" fill="#A060C0"/>
<circle cx="1677.8" cy="659.8" r="2.1" fill="#B070C8"/>
<circle cx="1710.9" cy="660.9" r="3.6" fill="#7A48B0"/>
<circle cx="1630.5" cy="670.3" r="3" fill="#7A48B0"/>
<circle cx="1631" cy="584.6" r="2.6" fill="#B070C8"/>
<circle cx="1775.3" cy="529.9" r="1.9" fill="#8A50B8"/>
<circle cx="1727.8" cy="622.8" r="1.5" fill="#9858BC"/>
<circle cx="1745.4" cy="500" r="1.3" fill="#9858BC"/>
<circle cx="1731.8" cy="528" r="2.7" fill="#9858BC"/>
<circle cx="1658.1" cy="658.9" r="2.4" fill="#8A50B8"/>
<circle cx="1698.9" cy="507" r="3.8" fill="#7A48B0"/>
<circle cx="1677.9" cy="492.4" r="1.6" fill="#B070C8"/>
<circle cx="1650.6" cy="682" r="1.6" fill="#B070C8"/>
<circle cx="1689.2" cy="497.6" r="1.5" fill="#8A50B8"/>
<circle cx="1771.4" cy="560.7" r="3.4" fill="#7A48B0"/>
<circle cx="1617.7" cy="605.8" r="1.5" fill="#B070C8"/>
<circle cx="1744.4" cy="683.3" r="5.4" fill="#7A48B0"/>
<circle cx="1681.5" cy="506.7" r="2" fill="#9858BC"/>
<circle cx="1710.6" cy="556.3" r="1.9" fill="#7A48B0"/>
<circle cx="1670.3" cy="523.3" r="3.1" fill="#B070C8"/>
<circle cx="1691" cy="623.9" r="1.9" fill="#7A48B0"/>
<circle cx="1744" cy="680.7" r="3.5" fill="#9858BC"/>
<circle cx="1658" cy="691.2" r="3.5" fill="#7A48B0"/>
<circle cx="1670.4" cy="518.1" r="1.6" fill="#A060C0"/>
<circle cx="1783.6" cy="542.4" r="5.8" fill="#9858BC"/>
<circle cx="1679.7" cy="507.8" r="2.7" fill="#B070C8"/>
<circle cx="1728.7" cy="652.8" r="3.6" fill="#9858BC"/>
<circle cx="1741.8" cy="501.3" r="4.5" fill="#7A48B0"/>
<circle cx="1788.1" cy="596.1" r="1.4" fill="#7A48B0"/>
<circle cx="1676.7" cy="544.5" r="1.6" fill="#9858BC"/>
<circle cx="1631.1" cy="690.9" r="1.6" fill="#A060C0"/>
<circle cx="1775" cy="629" r="1.8" fill="#A060C0"/>
<circle cx="1637.9" cy="649.1" r="1.8" fill="#A060C0"/>
<circle cx="1784.8" cy="683.6" r="1.4" fill="#8A50B8"/>
<circle cx="1622.3" cy="533" r="2.6" fill="#9858BC"/>
<circle cx="1745" cy="568.8" r="2.6" fill="#B070C8"/>
<circle cx="1806" cy="643.8" r="2.9" fill="#9858BC"/>
<circle cx="1716.5" cy="502.8" r="4.8" fill="#A060C0"/>
<circle cx="1705.7" cy="722.8" r="2.5" fill="#A060C0"/>
<circle cx="1766.3" cy="545.9" r="1.5" fill="#7A48B0"/>
<circle cx="1749.3" cy="661.6" r="1.6" fill="#B070C8"/>
<circle cx="1774" cy="673.9" r="1.4" fill="#7A48B0"/>
<circle cx="1767.4" cy="602.7" r="1.5" fill="#8A50B8"/>
<circle cx="1685.5" cy="519" r="2.9" fill="#8A50B8"/>
<circle cx="1601.9" cy="591.3" r="3" fill="#7A48B0"/>
<circle cx="1682.3" cy="560.7" r="2.3" fill="#B070C8"/>
<circle cx="1592.5" cy="646.9" r="1.7" fill="#7A48B0"/>
<circle cx="1787.6" cy="590" r="1.8" fill="#A060C0"/>
<circle cx="1701.3" cy="546.8" r="2.2" fill="#9858BC"/>
<circle cx="1768.7" cy="527.1" r="3.4" fill="#7A48B0"/>
<circle cx="1765.8" cy="643.7" r="1.7" fill="#B070C8"/>
<circle cx="1767.6" cy="647.9" r="1.8" fill="#B070C8"/>
<circle cx="1672.2" cy="654.1" r="1.3" fill="#7A48B0"/>
<circle cx="1641.1" cy="666.7" r="2.5" fill="#8A50B8"/>
<circle cx="1641.7" cy="612.4" r="3" fill="#A060C0"/>
<circle cx="1620.3" cy="524" r="3.4" fill="#7A48B0"/>
<circle cx="1804.6" cy="639.2" r="1.2" fill="#7A48B0"/>
<circle cx="1775.6" cy="646.3" r="3.4" fill="#A060C0"/>
<circle cx="1805" cy="633.9" r="1.3" fill="#7A48B0"/>
<circle cx="1640.8" cy="660" r="1.4" fill="#7A48B0"/>
<circle cx="1657.4" cy="653.6" r="1.6" fill="#A060C0"/>
<circle cx="1729.4" cy="618.7" r="1.3" fill="#A060C0"/>
<circle cx="1757.5" cy="651.4" r="2.8" fill="#A060C0"/>
<circle cx="1745.9" cy="544.3" r="2" fill="#A060C0"/>
<circle cx="1737.5" cy="687.4" r="1.3" fill="#B070C8"/>
<circle cx="1778.4" cy="530.1" r="1.8" fill="#7A48B0"/>
<circle cx="1640.6" cy="541" r="2.1" fill="#A060C0"/>
<circle cx="1673.1" cy="498.6" r="6.1" fill="#7A48B0"/>
<circle cx="1656.1" cy="509.4" r="1.5" fill="#A060C0"/>
<circle cx="1674.6" cy="643.5" r="2.2" fill="#8A50B8"/>
<circle cx="1746.3" cy="658.9" r="4.5" fill="#A060C0"/>
<circle cx="1796.1" cy="655.2" r="2.3" fill="#8A50B8"/>
<circle cx="1631.8" cy="670.1" r="2.7" fill="#7A48B0"/>
<circle cx="1726.4" cy="703.2" r="1.4" fill="#A060C0"/>
<circle cx="1671.8" cy="524.8" r="2.7" fill="#9858BC"/>
<circle cx="1615.1" cy="671.7" r="4.6" fill="#A060C0"/>
<circle cx="1783.9" cy="595.7" r="2.1" fill="#9858BC"/>
<circle cx="1634.7" cy="555.8" r="2" fill="#A060C0"/>
<circle cx="1731.4" cy="611.9" r="1.7" fill="#8A50B8"/>
<circle cx="1606.4" cy="545.9" r="1.8" fill="#7A48B0"/>
<circle cx="1652.8" cy="584.9" r="1.4" fill="#B070C8"/>
<circle cx="1681.4" cy="704.7" r="1.5" fill="#9858BC"/>
<circle cx="1643.9" cy="666.1" r="1.9" fill="#A060C0"/>
</g>
</g>
<rect x="1317" y="212.5" width="511" height="529" fill="none" stroke="#000" stroke-width="6"/>
<rect x="1572.5" y="209.5" width="3" height="535" fill="#000"/>
<rect x="1314" y="474.8" width="517" height="3" fill="#000"/>
<text x="1449" y="812.6" font-size="48" text-anchor="middle">100</text>
<text x="1697" y="812.6" font-size="48" text-anchor="middle">250μM</text>
<rect x="2001.6" y="283.4" width="3.8" height="379" fill="#000"/>
<rect x="1994.5" y="658.6" width="260.5" height="3.8" fill="#000"/>
<rect x="1994.5" y="658.6" width="9" height="3.8" fill="#000"/>
<text x="1990.5" y="674.5" font-size="39" text-anchor="end">0</text>
<rect x="1994.5" y="564.8" width="9" height="3.8" fill="#000"/>
<text x="1990.5" y="580.7" font-size="39" text-anchor="end">100</text>
<rect x="1994.5" y="471" width="9" height="3.8" fill="#000"/>
<text x="1990.5" y="486.9" font-size="39" text-anchor="end">200</text>
<rect x="1994.5" y="377.2" width="9" height="3.8" fill="#000"/>
<text x="1990.5" y="393.1" font-size="39" text-anchor="end">300</text>
<rect x="1994.5" y="283.4" width="9" height="3.8" fill="#000"/>
<text x="1990.5" y="299.3" font-size="39" text-anchor="end">400</text>
<rect x="2014.3" y="387.9" width="41.4" height="272.6" fill="#D7D7D7"/>
<rect x="2033.2" y="378.3" width="3.6" height="11.7" fill="#D0D0D0"/>
<rect x="2025" y="376.5" width="20" height="3.6" fill="#D0D0D0"/>
<rect x="2033.1" y="660.5" width="3.8" height="9.5" fill="#000"/>
<rect x="2076.8" y="389.4" width="41.4" height="271.1" fill="#A5A4A9"/>
<rect x="2095.7" y="379.6" width="3.6" height="11.8" fill="#000"/>
<rect x="2087.5" y="377.8" width="20" height="3.6" fill="#000"/>
<rect x="2095.6" y="660.5" width="3.8" height="9.5" fill="#000"/>
<rect x="2139.6" y="435.8" width="41.4" height="224.7" fill="#808080"/>
<rect x="2158.5" y="423.2" width="3.6" height="14.6" fill="#808080"/>
<rect x="2150.3" y="421.4" width="20" height="3.6" fill="#808080"/>
<rect x="2158.4" y="660.5" width="3.8" height="9.5" fill="#000"/>
<rect x="2202.1" y="498.4" width="41.4" height="162.1" fill="#616161"/>
<rect x="2221" y="480.9" width="3.6" height="19.5" fill="#666"/>
<rect x="2212.8" y="479.1" width="20" height="3.6" fill="#666"/>
<rect x="2220.9" y="660.5" width="3.8" height="9.5" fill="#000"/>
<text x="2047.6" y="701.5" font-size="36" text-anchor="end" transform="rotate(-45 2047.6 701.5)">C</text>
<text x="2106.7" y="700" font-size="36" text-anchor="end" transform="rotate(-45 2106.7 700)">1</text>
<text x="2173" y="702.3" font-size="36" text-anchor="end" transform="rotate(-45 2173 702.3)">100</text>
<text x="2228.4" y="709" font-size="36" text-anchor="end" transform="rotate(-45 2228.4 709)">250</text>
<text x="2161" y="425" font-size="34" text-anchor="middle">*</text>
<text x="2224" y="484" font-size="34" text-anchor="middle">**</text>
<text x="2130" y="802" font-size="39.5" text-anchor="middle">PA (μM)</text>
<text x="1908" y="465" font-size="43.3" text-anchor="middle" transform="rotate(-90 1908 465)">Colony Number</text>
<text x="1892" y="993" font-size="47.7" text-anchor="middle">ECC-1</text>
<rect x="1600.6" y="1000.3" width="566.4" height="6.5" fill="#000"/>
<text x="1452" y="1058" font-size="47" text-anchor="middle">C</text>
<text x="1693" y="1058" font-size="47" text-anchor="middle">1</text>
<clipPath id="pc0"><rect x="1311.8" y="1075" width="258.2" height="266.4"/></clipPath>
<g clip-path="url(#pc0)">
<circle cx="1445" cy="1208" r="124" fill="#C2E2F8" stroke="#5E8ECC" stroke-width="3"/>
<circle cx="1445" cy="1208" r="117" fill="none" stroke="#5E8ECC" stroke-width="1.5" opacity="0.5"/>
<g filter="url(#soft)">
<circle cx="1546.2" cy="1156.4" r="1.5" fill="#3A26A0"/>
<circle cx="1417.5" cy="1281.8" r="3.5" fill="#2A188A"/>
<circle cx="1385.4" cy="1229.6" r="1.4" fill="#321E96"/>
<circle cx="1541.7" cy="1232.2" r="1.5" fill="#321E96"/>
<circle cx="1361.9" cy="1155.9" r="7.1" fill="#2A188A"/>
<circle cx="1344.9" cy="1164.3" r="1.9" fill="#2A188A"/>
<circle cx="1349.2" cy="1160.7" r="2.5" fill="#5040B4"/>
<circle cx="1419.7" cy="1157.8" r="2.6" fill="#3A26A0"/>
<circle cx="1434.1" cy="1322" r="1.9" fill="#3A26A0"/>
<circle cx="1407.1" cy="1276.1" r="2" fill="#5040B4"/>
<circle cx="1413.2" cy="1315" r="1.8" fill="#3A26A0"/>
<circle cx="1341.9" cy="1259.7" r="1.5" fill="#5040B4"/>
<circle cx="1401" cy="1242.8" r="1.4" fill="#4030A8"/>
<circle cx="1483.5" cy="1101.1" r="6.9" fill="#2A188A"/>
<circle cx="1549.9" cy="1218.6" r="1.5" fill="#2A188A"/>
<circle cx="1385.9" cy="1220.8" r="6.2" fill="#4030A8"/>
<circle cx="1521.9" cy="1258" r="3.3" fill="#3A26A0"/>
<circle cx="1470.8" cy="1146.2" r="5.1" fill="#5040B4"/>
<circle cx="1452.3" cy="1110.2" r="1.7" fill="#3A26A0"/>
<circle cx="1414" cy="1132.7" r="4.2" fill="#4030A8"/>
<circle cx="1366" cy="1184.6" r="4.6" fill="#3A26A0"/>
<circle cx="1552" cy="1165.5" r="3.5" fill="#5040B4"/>
<circle cx="1536.6" cy="1226.3" r="4.9" fill="#5040B4"/>
<circle cx="1480.4" cy="1098.1" r="2.1" fill="#321E96"/>
<circle cx="1456.8" cy="1156.2" r="1.8" fill="#321E96"/>
<circle cx="1484.1" cy="1282.6" r="1.5" fill="#2A188A"/>
<circle cx="1345.8" cy="1220.4" r="2.7" fill="#3A26A0"/>
<circle cx="1378.2" cy="1194.2" r="1.8" fill="#321E96"/>
<circle cx="1502.4" cy="1141.6" r="3.2" fill="#3A26A0"/>
<circle cx="1360.4" cy="1260.3" r="4" fill="#2A188A"/>
<circle cx="1518.1" cy="1189.1" r="2.3" fill="#5040B4"/>
<circle cx="1449.1" cy="1097.7" r="3.3" fill="#5040B4"/>
<circle cx="1458.9" cy="1274.6" r="2.5" fill="#321E96"/>
<circle cx="1361" cy="1128.7" r="3.7" fill="#321E96"/>
<circle cx="1487.5" cy="1155.5" r="1.9" fill="#3A26A0"/>
<circle cx="1423.1" cy="1183.5" r="1.9" fill="#2A188A"/>
<circle cx="1357" cy="1169.8" r="1.7" fill="#3A26A0"/>
<circle cx="1366.2" cy="1268.6" r="1.5" fill="#3A26A0"/>
<circle cx="1500.5" cy="1308.6" r="1.7" fill="#321E96"/>
<circle cx="1510.3" cy="1283.2" r="2" fill="#2A188A"/>
<circle cx="1350.4" cy="1163.6" r="2.9" fill="#3A26A0"/>
<circle cx="1467.6" cy="1225" r="1.7" fill="#4030A8"/>
<circle cx="1467.5" cy="1287.4" r="2.9" fill="#3A26A0"/>
<circle cx="1348.4" cy="1149.2" r="2.6" fill="#4030A8"/>
<circle cx="1441.3" cy="1095.6" r="4.9" fill="#4030A8"/>
<circle cx="1373.5" cy="1298.3" r="5.5" fill="#5040B4"/>
<circle cx="1364.4" cy="1270.5" r="2.6" fill="#4030A8"/>
<circle cx="1556.2" cy="1199.5" r="2.8" fill="#5040B4"/>
<circle cx="1350.4" cy="1215.2" r="4.2" fill="#3A26A0"/>
<circle cx="1422.6" cy="1208.2" r="3" fill="#3A26A0"/>
<circle cx="1479.8" cy="1284" r="3.8" fill="#321E96"/>
<circle cx="1433.8" cy="1211.1" r="1.9" fill="#321E96"/>
<circle cx="1377.9" cy="1244.2" r="3.2" fill="#2A188A"/>
<circle cx="1434.7" cy="1155.6" r="3.6" fill="#3A26A0"/>
<circle cx="1344.2" cy="1231.1" r="2.3" fill="#4030A8"/>
<circle cx="1408.7" cy="1307.6" r="2.6" fill="#4030A8"/>
<circle cx="1507.9" cy="1123.7" r="3.3" fill="#5040B4"/>
<circle cx="1354" cy="1211.8" r="2" fill="#321E96"/>
<circle cx="1463.4" cy="1305" r="2.7" fill="#321E96"/>
<circle cx="1402.7" cy="1102.7" r="1.6" fill="#2A188A"/>
<circle cx="1492.2" cy="1198.9" r="1.5" fill="#321E96"/>
<circle cx="1474.1" cy="1200.9" r="5.8" fill="#321E96"/>
<circle cx="1376.3" cy="1202.9" r="6.7" fill="#4030A8"/>
<circle cx="1531.2" cy="1160.9" r="3.1" fill="#4030A8"/>
<circle cx="1533.8" cy="1247.3" r="5.6" fill="#3A26A0"/>
<circle cx="1482.9" cy="1111.3" r="2.8" fill="#321E96"/>
<circle cx="1410.5" cy="1168.1" r="2.1" fill="#3A26A0"/>
<circle cx="1530.5" cy="1174.5" r="1.4" fill="#5040B4"/>
<circle cx="1509.5" cy="1244.4" r="2.9" fill="#4030A8"/>
<circle cx="1472.8" cy="1310.6" r="1.6" fill="#4030A8"/>
<circle cx="1355.4" cy="1175.1" r="1.7" fill="#3A26A0"/>
<circle cx="1388" cy="1132.5" r="1.8" fill="#321E96"/>
<circle cx="1435.4" cy="1302.1" r="3.4" fill="#4030A8"/>
<circle cx="1560.6" cy="1208.1" r="3.7" fill="#321E96"/>
<circle cx="1432" cy="1155.6" r="2.3" fill="#4030A8"/>
<circle cx="1494.2" cy="1285" r="1.5" fill="#3A26A0"/>
<circle cx="1489.8" cy="1200.4" r="4.6" fill="#321E96"/>
<circle cx="1355.3" cy="1171.4" r="2.3" fill="#321E96"/>
<circle cx="1502.5" cy="1302.6" r="1.8" fill="#2A188A"/>
<circle cx="1411.7" cy="1308.8" r="3.9" fill="#321E96"/>
<circle cx="1363.9" cy="1264.1" r="3.5" fill="#4030A8"/>
<circle cx="1392.1" cy="1304.8" r="3.3" fill="#321E96"/>
<circle cx="1503.7" cy="1128.6" r="4.4" fill="#2A188A"/>
<circle cx="1536.3" cy="1176.4" r="1.6" fill="#2A188A"/>
<circle cx="1493.1" cy="1257.7" r="2.9" fill="#3A26A0"/>
<circle cx="1357.5" cy="1167.1" r="3.2" fill="#4030A8"/>
<circle cx="1379.8" cy="1160.6" r="1.7" fill="#321E96"/>
<circle cx="1526.9" cy="1141.7" r="4.8" fill="#5040B4"/>
<circle cx="1378.4" cy="1298.6" r="3.2" fill="#321E96"/>
<circle cx="1437.4" cy="1256.5" r="1.8" fill="#2A188A"/>
<circle cx="1346.5" cy="1258.2" r="1.6" fill="#3A26A0"/>
<circle cx="1421.4" cy="1145" r="7.2" fill="#4030A8"/>
<circle cx="1559.4" cy="1194.5" r="3.5" fill="#5040B4"/>
<circle cx="1396.5" cy="1284.9" r="4.4" fill="#321E96"/>
<circle cx="1443" cy="1096.9" r="3.5" fill="#321E96"/>
<circle cx="1355.5" cy="1235.8" r="1.7" fill="#2A188A"/>
<circle cx="1399" cy="1288.5" r="2.4" fill="#3A26A0"/>
<circle cx="1470.5" cy="1296.7" r="2.9" fill="#3A26A0"/>
<circle cx="1427.3" cy="1294.4" r="3.9" fill="#321E96"/>
<circle cx="1486" cy="1127" r="1.5" fill="#5040B4"/>
<circle cx="1521.9" cy="1214.5" r="3" fill="#4030A8"/>
<circle cx="1394" cy="1193.8" r="3.3" fill="#2A188A"/>
<circle cx="1336" cy="1194.7" r="4" fill="#2A188A"/>
<circle cx="1358.9" cy="1216.3" r="6.2" fill="#4030A8"/>
<circle cx="1491" cy="1249" r="1.4" fill="#5040B4"/>
<circle cx="1519.5" cy="1278.6" r="1.9" fill="#4030A8"/>
<circle cx="1448.2" cy="1223.7" r="2.6" fill="#5040B4"/>
<circle cx="1494.8" cy="1237.7" r="5.3" fill="#321E96"/>
<circle cx="1508.9" cy="1284.8" r="3.5" fill="#321E96"/>
<circle cx="1344.9" cy="1198.3" r="4.7" fill="#321E96"/>
<circle cx="1503.8" cy="1278.8" r="1.6" fill="#4030A8"/>
<circle cx="1547.1" cy="1170.9" r="2.3" fill="#2A188A"/>
<circle cx="1356.5" cy="1209.9" r="1.5" fill="#321E96"/>
<circle cx="1391" cy="1189" r="4.2" fill="#5040B4"/>
<circle cx="1448.6" cy="1203" r="2" fill="#3A26A0"/>
<circle cx="1406" cy="1144.3" r="2.6" fill="#3A26A0"/>
<circle cx="1504.5" cy="1118.9" r="1.5" fill="#2A188A"/>
<circle cx="1500.9" cy="1124.3" r="7.3" fill="#3A26A0"/>
<circle cx="1444.3" cy="1137" r="2.3" fill="#321E96"/>
<circle cx="1548.2" cy="1245.3" r="2.8" fill="#5040B4"/>
<circle cx="1534.6" cy="1174.6" r="3.3" fill="#3A26A0"/>
<circle cx="1352.5" cy="1270.2" r="2.6" fill="#4030A8"/>
<circle cx="1549.3" cy="1229.3" r="3.5" fill="#321E96"/>
<circle cx="1413.6" cy="1097.4" r="6.1" fill="#4030A8"/>
<circle cx="1386.2" cy="1300" r="1.7" fill="#2A188A"/>
<circle cx="1437.2" cy="1094.3" r="1.7" fill="#5040B4"/>
<circle cx="1504.2" cy="1217.2" r="1.8" fill="#4030A8"/>
<circle cx="1490.7" cy="1179.5" r="1.4" fill="#3A26A0"/>
<circle cx="1374.8" cy="1157.2" r="4.2" fill="#3A26A0"/>
<circle cx="1478.1" cy="1130.5" r="1.5" fill="#5040B4"/>
<circle cx="1383.8" cy="1294.4" r="2.3" fill="#321E96"/>
<circle cx="1449.3" cy="1099.1" r="3.2" fill="#2A188A"/>
<circle cx="1487.5" cy="1165.3" r="3.2" fill="#2A188A"/>
<circle cx="1516" cy="1143.6" r="1.7" fill="#321E96"/>
<circle cx="1479.2" cy="1199.9" r="1.5" fill="#321E96"/>
<circle cx="1388.5" cy="1186.7" r="2.1" fill="#2A188A"/>
<circle cx="1406.2" cy="1178" r="1.6" fill="#4030A8"/>
<circle cx="1495.7" cy="1188.6" r="1.9" fill="#2A188A"/>
<circle cx="1417.3" cy="1099.8" r="2.8" fill="#5040B4"/>
<circle cx="1378.2" cy="1193" r="4.7" fill="#3A26A0"/>
<circle cx="1423.6" cy="1114.4" r="3.6" fill="#2A188A"/>
<circle cx="1430.7" cy="1318.1" r="2.9" fill="#321E96"/>
<circle cx="1554.2" cy="1209.7" r="4.7" fill="#4030A8"/>
<circle cx="1547.2" cy="1207.6" r="5.2" fill="#3A26A0"/>
<circle cx="1446" cy="1111" r="1.9" fill="#2A188A"/>
<circle cx="1451.9" cy="1108.1" r="2.3" fill="#2A188A"/>
<circle cx="1406.3" cy="1242.2" r="2.2" fill="#2A188A"/>
<circle cx="1513.8" cy="1168.9" r="2.6" fill="#4030A8"/>
<circle cx="1437.7" cy="1183.9" r="1.8" fill="#321E96"/>
<circle cx="1501" cy="1283.6" r="1.6" fill="#3A26A0"/>
<circle cx="1402.3" cy="1299.6" r="2.4" fill="#321E96"/>
<circle cx="1511.5" cy="1135.2" r="6.9" fill="#321E96"/>
<circle cx="1459.1" cy="1307" r="1.5" fill="#3A26A0"/>
<circle cx="1493.4" cy="1116.1" r="1.9" fill="#321E96"/>
<circle cx="1492.6" cy="1133" r="3.4" fill="#4030A8"/>
<circle cx="1514.8" cy="1176.6" r="2.6" fill="#2A188A"/>
<circle cx="1489.8" cy="1252.9" r="4.3" fill="#321E96"/>
<circle cx="1453.5" cy="1285.9" r="3.4" fill="#3A26A0"/>
<circle cx="1448.8" cy="1229.8" r="4.3" fill="#5040B4"/>
<circle cx="1404.6" cy="1127.3" r="1.6" fill="#5040B4"/>
<circle cx="1479.3" cy="1145.6" r="4.2" fill="#2A188A"/>
<circle cx="1355.6" cy="1260.1" r="1.8" fill="#4030A8"/>
<circle cx="1453.9" cy="1291.6" r="1.9" fill="#5040B4"/>
<circle cx="1347.6" cy="1241.5" r="2.8" fill="#2A188A"/>
<circle cx="1542.9" cy="1191.1" r="4.4" fill="#321E96"/>
<circle cx="1402" cy="1113.5" r="2.4" fill="#321E96"/>
<circle cx="1560.7" cy="1214.7" r="1.5" fill="#321E96"/>
<circle cx="1362.1" cy="1189.2" r="3.9" fill="#4030A8"/>
<circle cx="1357" cy="1233.6" r="2.4" fill="#2A188A"/>
<circle cx="1545.2" cy="1179.1" r="2" fill="#321E96"/>
<circle cx="1440.7" cy="1169.8" r="3.2" fill="#3A26A0"/>
<circle cx="1542.7" cy="1192.9" r="2.2" fill="#5040B4"/>
<circle cx="1409.7" cy="1216.9" r="1.6" fill="#4030A8"/>
<circle cx="1388.3" cy="1309" r="4.4" fill="#2A188A"/>
<circle cx="1391" cy="1298.9" r="3.4" fill="#3A26A0"/>
<circle cx="1479.6" cy="1169" r="1.7" fill="#321E96"/>
<circle cx="1463.3" cy="1129.2" r="1.8" fill="#3A26A0"/>
<circle cx="1525.7" cy="1152.8" r="2" fill="#2A188A"/>
<circle cx="1371" cy="1193.3" r="1.8" fill="#321E96"/>
<circle cx="1526.8" cy="1134.9" r="1.7" fill="#3A26A0"/>
<circle cx="1528.5" cy="1244" r="5.6" fill="#5040B4"/>
<circle cx="1496.7" cy="1149.7" r="2.4" fill="#3A26A0"/>
<circle cx="1450.1" cy="1121.1" r="2.1" fill="#5040B4"/>
<circle cx="1478.9" cy="1223.5" r="2.1" fill="#2A188A"/>
<circle cx="1430.9" cy="1191.7" r="5.3" fill="#5040B4"/>
<circle cx="1347.2" cy="1238" r="2.6" fill="#2A188A"/>
<circle cx="1369.8" cy="1156.1" r="3.6" fill="#4030A8"/>
<circle cx="1479.1" cy="1269.3" r="1.7" fill="#3A26A0"/>
<circle cx="1553.3" cy="1201.7" r="2.5" fill="#5040B4"/>
<circle cx="1363.5" cy="1270.2" r="2.1" fill="#3A26A0"/>
<circle cx="1412.9" cy="1207.8" r="1.6" fill="#2A188A"/>
<circle cx="1555.3" cy="1183.2" r="2.4" fill="#321E96"/>
<circle cx="1349" cy="1189.6" r="1.5" fill="#4030A8"/>
<circle cx="1402.2" cy="1288.1" r="4.1" fill="#4030A8"/>
<circle cx="1360.3" cy="1145.9" r="4.2" fill="#2A188A"/>
<circle cx="1511.2" cy="1232" r="3.2" fill="#3A26A0"/>
<circle cx="1492.1" cy="1227.7" r="1.8" fill="#3A26A0"/>
<circle cx="1483" cy="1270.8" r="2.8" fill="#2A188A"/>
<circle cx="1460.2" cy="1216.4" r="2.9" fill="#2A188A"/>
<circle cx="1429.3" cy="1189.2" r="4" fill="#321E96"/>
<circle cx="1390.2" cy="1294.7" r="3.1" fill="#3A26A0"/>
<circle cx="1409.1" cy="1147.5" r="2.1" fill="#4030A8"/>
<circle cx="1485.8" cy="1255.1" r="2.1" fill="#5040B4"/>
<circle cx="1506.8" cy="1217.6" r="3" fill="#4030A8"/>
<circle cx="1350" cy="1187.1" r="1.5" fill="#4030A8"/>
<circle cx="1355.5" cy="1253.4" r="2.2" fill="#3A26A0"/>
<circle cx="1545.4" cy="1215.8" r="1.4" fill="#3A26A0"/>
<circle cx="1470.5" cy="1260.1" r="3" fill="#5040B4"/>
<circle cx="1348.7" cy="1240.9" r="5.6" fill="#5040B4"/>
<circle cx="1447.4" cy="1319.4" r="1.5" fill="#321E96"/>
<circle cx="1526.5" cy="1268.1" r="2.8" fill="#4030A8"/>
<circle cx="1424.9" cy="1115.2" r="5.7" fill="#2A188A"/>
<circle cx="1481.3" cy="1119.8" r="1.5" fill="#3A26A0"/>
<circle cx="1547.1" cy="1185.9" r="2.4" fill="#4030A8"/>
<circle cx="1505.8" cy="1293.4" r="2.4" fill="#321E96"/>
<circle cx="1419.7" cy="1308.2" r="1.5" fill="#4030A8"/>
<circle cx="1547.3" cy="1219.8" r="2.2" fill="#4030A8"/>
<circle cx="1476.3" cy="1104.6" r="3.1" fill="#2A188A"/>
<circle cx="1444.2" cy="1237.1" r="3.6" fill="#3A26A0"/>
<circle cx="1430.8" cy="1297.7" r="2.1" fill="#4030A8"/>
<circle cx="1360" cy="1168.7" r="4.9" fill="#5040B4"/>
<circle cx="1358.1" cy="1200.2" r="2.5" fill="#5040B4"/>
<circle cx="1392" cy="1155.4" r="2.6" fill="#2A188A"/>
<circle cx="1512.9" cy="1124.9" r="2.2" fill="#2A188A"/>
<circle cx="1451.4" cy="1127.4" r="1.8" fill="#2A188A"/>
<circle cx="1455.8" cy="1209.8" r="4.6" fill="#321E96"/>
<circle cx="1547.6" cy="1217" r="6.5" fill="#4030A8"/>
<circle cx="1356.2" cy="1228.3" r="1.9" fill="#321E96"/>
<circle cx="1534.2" cy="1211.2" r="5.7" fill="#4030A8"/>
<circle cx="1496.9" cy="1247.1" r="4.1" fill="#2A188A"/>
<circle cx="1466.4" cy="1202.7" r="2.4" fill="#321E96"/>
<circle cx="1389" cy="1197.8" r="1.5" fill="#3A26A0"/>
<circle cx="1539.6" cy="1208.5" r="2.2" fill="#3A26A0"/>
<circle cx="1400.6" cy="1260.9" r="5" fill="#3A26A0"/>
<circle cx="1348.5" cy="1254.7" r="4.6" fill="#321E96"/>
<circle cx="1436.2" cy="1270.5" r="4" fill="#3A26A0"/>
<circle cx="1439.7" cy="1199.6" r="5.3" fill="#4030A8"/>
<circle cx="1438.1" cy="1165.2" r="2.2" fill="#2A188A"/>
<circle cx="1344.7" cy="1206.7" r="2.6" fill="#4030A8"/>
<circle cx="1497" cy="1105.7" r="2.5" fill="#321E96"/>
<circle cx="1399.5" cy="1272.9" r="4.6" fill="#4030A8"/>
<circle cx="1497" cy="1262.2" r="3" fill="#5040B4"/>
<circle cx="1395" cy="1295.2" r="5.2" fill="#3A26A0"/>
<circle cx="1433.4" cy="1207.8" r="2.1" fill="#3A26A0"/>
<circle cx="1380.2" cy="1261.4" r="3.4" fill="#3A26A0"/>
<circle cx="1354.5" cy="1237.3" r="2.3" fill="#5040B4"/>
<circle cx="1427.3" cy="1300.6" r="3.4" fill="#4030A8"/>
<circle cx="1354.2" cy="1273.3" r="5.7" fill="#3A26A0"/>
<circle cx="1422" cy="1312" r="1.9" fill="#3A26A0"/>
<circle cx="1555.5" cy="1174.7" r="2" fill="#3A26A0"/>
<circle cx="1549.6" cy="1226.7" r="1.6" fill="#321E96"/>
<circle cx="1362.4" cy="1278.2" r="4.6" fill="#2A188A"/>
<circle cx="1365.9" cy="1231" r="2.6" fill="#4030A8"/>
<circle cx="1472.5" cy="1282.5" r="1.7" fill="#321E96"/>
<circle cx="1478.1" cy="1299.2" r="3.5" fill="#4030A8"/>
<circle cx="1455.6" cy="1101.5" r="2.6" fill="#3A26A0"/>
<circle cx="1441.2" cy="1137" r="3.8" fill="#5040B4"/>
<circle cx="1423.9" cy="1099.3" r="2.2" fill="#5040B4"/>
<circle cx="1455.3" cy="1173.3" r="4.1" fill="#2A188A"/>
<circle cx="1480.6" cy="1143.3" r="1.4" fill="#5040B4"/>
<circle cx="1393.2" cy="1166.5" r="1.4" fill="#3A26A0"/>
<circle cx="1388.2" cy="1107.2" r="5.1" fill="#3A26A0"/>
<circle cx="1518" cy="1257.5" r="2" fill="#4030A8"/>
<circle cx="1349" cy="1170.5" r="2.7" fill="#2A188A"/>
<circle cx="1461.4" cy="1318.6" r="3.4" fill="#2A188A"/>
<circle cx="1487.8" cy="1101.8" r="2.5" fill="#5040B4"/>
<circle cx="1555.6" cy="1195.7" r="6.5" fill="#5040B4"/>
<circle cx="1504.9" cy="1282.6" r="2.1" fill="#2A188A"/>
<circle cx="1389.3" cy="1219.6" r="2.6" fill="#321E96"/>
<circle cx="1488.3" cy="1261" r="1.9" fill="#321E96"/>
<circle cx="1401.8" cy="1130.2" r="4.9" fill="#5040B4"/>
<circle cx="1361.4" cy="1268.6" r="1.8" fill="#2A188A"/>
<circle cx="1416.3" cy="1318.7" r="6.1" fill="#5040B4"/>
<circle cx="1391.4" cy="1308.7" r="2.2" fill="#321E96"/>
<circle cx="1429.3" cy="1194.7" r="1.5" fill="#321E96"/>
<circle cx="1530.6" cy="1283.8" r="3.2" fill="#4030A8"/>
<circle cx="1337.1" cy="1205.9" r="2.4" fill="#321E96"/>
<circle cx="1469.3" cy="1298.2" r="4" fill="#2A188A"/>
<circle cx="1359.5" cy="1141.6" r="1.7" fill="#2A188A"/>
<circle cx="1455.2" cy="1286.9" r="2" fill="#3A26A0"/>
<circle cx="1388.6" cy="1293.8" r="2.5" fill="#3A26A0"/>
<circle cx="1540.2" cy="1240.2" r="4.4" fill="#2A188A"/>
<circle cx="1543.4" cy="1255.1" r="1.5" fill="#3A26A0"/>
<circle cx="1386.8" cy="1293.3" r="2.2" fill="#2A188A"/>
<circle cx="1407.2" cy="1137.9" r="2.4" fill="#4030A8"/>
<circle cx="1420.5" cy="1178.6" r="2.6" fill="#2A188A"/>
<circle cx="1528" cy="1262.5" r="1.9" fill="#2A188A"/>
<circle cx="1418.5" cy="1278.8" r="1.6" fill="#4030A8"/>
<circle cx="1391.8" cy="1143.5" r="2.1" fill="#2A188A"/>
<circle cx="1399" cy="1104.4" r="2.9" fill="#321E96"/>
<circle cx="1469.4" cy="1257.3" r="1.5" fill="#3A26A0"/>
<circle cx="1366.9" cy="1291.7" r="2.9" fill="#2A188A"/>
<circle cx="1360.7" cy="1205.9" r="2.9" fill="#4030A8"/>
<circle cx="1441.8" cy="1136.1" r="2.4" fill="#2A188A"/>
<circle cx="1416.3" cy="1287.3" r="2.1" fill="#2A188A"/>
<circle cx="1493.2" cy="1103.6" r="1.9" fill="#2A188A"/>
<circle cx="1375.4" cy="1238.9" r="2.7" fill="#321E96"/>
<circle cx="1439.7" cy="1297.1" r="3" fill="#4030A8"/>
<circle cx="1496.2" cy="1201.9" r="2.8" fill="#4030A8"/>
<circle cx="1540.1" cy="1228.5" r="2.4" fill="#4030A8"/>
<circle cx="1390.7" cy="1132.2" r="2.9" fill="#4030A8"/>
<circle cx="1413.3" cy="1257.4" r="5.6" fill="#321E96"/>
<circle cx="1471.5" cy="1256.2" r="2.9" fill="#5040B4"/>
<circle cx="1481.2" cy="1139.1" r="2.9" fill="#4030A8"/>
<circle cx="1346.9" cy="1157.6" r="2.8" fill="#4030A8"/>
<circle cx="1463.9" cy="1251.4" r="4.5" fill="#4030A8"/>
<circle cx="1349" cy="1257.7" r="3" fill="#4030A8"/>
<circle cx="1515.8" cy="1129.6" r="3" fill="#321E96"/>
<circle cx="1545.4" cy="1264.1" r="1.5" fill="#3A26A0"/>
<circle cx="1370.4" cy="1143.6" r="2.5" fill="#5040B4"/>
<circle cx="1448.7" cy="1279.3" r="2" fill="#5040B4"/>
<circle cx="1533.3" cy="1279.7" r="2.3" fill="#321E96"/>
<circle cx="1456.4" cy="1187.8" r="6.1" fill="#321E96"/>
<circle cx="1545.5" cy="1192.3" r="2.1" fill="#5040B4"/>
<circle cx="1474.2" cy="1268.9" r="5.3" fill="#5040B4"/>
<circle cx="1475.6" cy="1235.5" r="1.8" fill="#5040B4"/>
<circle cx="1510.8" cy="1209.6" r="1.5" fill="#3A26A0"/>
<circle cx="1418.3" cy="1107.9" r="3.8" fill="#4030A8"/>
<circle cx="1529.5" cy="1130.7" r="3.5" fill="#3A26A0"/>
<circle cx="1363.7" cy="1261.9" r="4.5" fill="#5040B4"/>
<circle cx="1400.1" cy="1287" r="3.5" fill="#4030A8"/>
<circle cx="1517.9" cy="1271.7" r="2.8" fill="#4030A8"/>
<circle cx="1536.7" cy="1200.9" r="2.3" fill="#321E96"/>
<circle cx="1503.9" cy="1221.9" r="2.8" fill="#3A26A0"/>
<circle cx="1518.9" cy="1199.8" r="1.5" fill="#5040B4"/>
<circle cx="1457.5" cy="1135" r="1.4" fill="#3A26A0"/>
<circle cx="1338.4" cy="1211.4" r="2" fill="#5040B4"/>
<circle cx="1521.5" cy="1133.6" r="1.7" fill="#3A26A0"/>
<circle cx="1513.2" cy="1238.8" r="1.7" fill="#4030A8"/>
<circle cx="1359.6" cy="1157.6" r="4.5" fill="#2A188A"/>
<circle cx="1352.1" cy="1189.6" r="2.1" fill="#5040B4"/>
<circle cx="1428.4" cy="1284.2" r="2.7" fill="#4030A8"/>
<circle cx="1526.5" cy="1165.2" r="2.3" fill="#2A188A"/>
<circle cx="1414.2" cy="1272.2" r="4" fill="#5040B4"/>
<circle cx="1364.7" cy="1231.2" r="4.7" fill="#3A26A0"/>
<circle cx="1499.5" cy="1268.4" r="2.8" fill="#3A26A0"/>
<circle cx="1417.1" cy="1193.4" r="3.3" fill="#4030A8"/>
<circle cx="1445.7" cy="1280" r="2" fill="#3A26A0"/>
<circle cx="1397.3" cy="1312.9" r="2" fill="#2A188A"/>
<circle cx="1442.1" cy="1299.9" r="1.5" fill="#2A188A"/>
<circle cx="1480.3" cy="1273.7" r="2.9" fill="#4030A8"/>
<circle cx="1421.9" cy="1182.2" r="1.6" fill="#2A188A"/>
<circle cx="1387.1" cy="1296.2" r="1.8" fill="#2A188A"/>
<circle cx="1468.5" cy="1319.2" r="1.4" fill="#3A26A0"/>
<circle cx="1411.1" cy="1218.5" r="2.9" fill="#321E96"/>
<circle cx="1394.3" cy="1279.5" r="1.4" fill="#4030A8"/>
<circle cx="1367.5" cy="1268.3" r="1.4" fill="#2A188A"/>
<circle cx="1424.9" cy="1308.1" r="3" fill="#4030A8"/>
<circle cx="1501" cy="1299.8" r="2.1" fill="#3A26A0"/>
<circle cx="1488.7" cy="1243.5" r="2.2" fill="#4030A8"/>
<circle cx="1392.1" cy="1131.7" r="2.1" fill="#4030A8"/>
<circle cx="1413.4" cy="1109.5" r="2.1" fill="#4030A8"/>
<circle cx="1383.4" cy="1128.3" r="3.7" fill="#5040B4"/>
<circle cx="1514.7" cy="1174.2" r="3" fill="#3A26A0"/>
<circle cx="1517.4" cy="1241.7" r="2.2" fill="#2A188A"/>
<circle cx="1405.9" cy="1227.2" r="2.6" fill="#321E96"/>
<circle cx="1367.7" cy="1272.8" r="3.1" fill="#3A26A0"/>
<circle cx="1390.4" cy="1294" r="1.5" fill="#321E96"/>
<circle cx="1475.7" cy="1316.3" r="3.4" fill="#2A188A"/>
<circle cx="1432.2" cy="1102.6" r="3.1" fill="#4030A8"/>
<circle cx="1510.7" cy="1301.9" r="3.2" fill="#321E96"/>
<circle cx="1393.4" cy="1146.1" r="2.4" fill="#321E96"/>
<circle cx="1547.6" cy="1258" r="3.9" fill="#5040B4"/>
<circle cx="1525.6" cy="1162" r="4" fill="#5040B4"/>
<circle cx="1469.8" cy="1127.2" r="1.4" fill="#321E96"/>
<circle cx="1483.2" cy="1290.9" r="2" fill="#3A26A0"/>
<circle cx="1554.4" cy="1199.1" r="4.4" fill="#2A188A"/>
<circle cx="1498.6" cy="1256.4" r="2.6" fill="#5040B4"/>
<circle cx="1349.8" cy="1192.8" r="2" fill="#321E96"/>
<circle cx="1341.7" cy="1247.8" r="1.6" fill="#5040B4"/>
<circle cx="1352.6" cy="1268.3" r="2.5" fill="#5040B4"/>
<circle cx="1519.6" cy="1234.3" r="3.1" fill="#5040B4"/>
<circle cx="1387.6" cy="1219.9" r="1.8" fill="#3A26A0"/>
<circle cx="1360.7" cy="1277.8" r="2.2" fill="#321E96"/>
<circle cx="1341.6" cy="1240.2" r="1.8" fill="#2A188A"/>
<circle cx="1349.6" cy="1177.9" r="5.2" fill="#4030A8"/>
<circle cx="1497" cy="1290.7" r="2.8" fill="#2A188A"/>
<circle cx="1491.1" cy="1190.7" r="3.4" fill="#4030A8"/>
<circle cx="1400.1" cy="1143" r="2.5" fill="#321E96"/>
<circle cx="1507.8" cy="1283.8" r="3.2" fill="#2A188A"/>
</g>
</g>
<clipPath id="pc1"><rect x="1570" y="1075" width="258" height="266.4"/></clipPath>
<g clip-path="url(#pc1)">
<circle cx="1700" cy="1208" r="124" fill="#C2E2F8" stroke="#5E8ECC" stroke-width="3"/>
<circle cx="1700" cy="1208" r="117" fill="none" stroke="#5E8ECC" stroke-width="1.5" opacity="0.5"/>
<g filter="url(#soft)">
<circle cx="1785.9" cy="1155.2" r="6.4" fill="#4030A8"/>
<circle cx="1628.4" cy="1151.5" r="2.8" fill="#4A38B0"/>
<circle cx="1808.1" cy="1246.9" r="1.4" fill="#4030A8"/>
<circle cx="1604" cy="1165.6" r="4" fill="#5A44C0"/>
<circle cx="1639.2" cy="1208.5" r="1.9" fill="#5A44C0"/>
<circle cx="1610.3" cy="1177.9" r="1.8" fill="#4030A8"/>
<circle cx="1627.5" cy="1250.6" r="1.5" fill="#6A54C8"/>
<circle cx="1802.1" cy="1177.7" r="3.3" fill="#5A44C0"/>
<circle cx="1741.7" cy="1114.9" r="1.4" fill="#3A2AA0"/>
<circle cx="1732.6" cy="1126.5" r="4.4" fill="#4030A8"/>
<circle cx="1721.1" cy="1111.9" r="2.1" fill="#4030A8"/>
<circle cx="1703.3" cy="1245.7" r="1.3" fill="#4030A8"/>
<circle cx="1706.3" cy="1300" r="6.8" fill="#3A2AA0"/>
<circle cx="1786.9" cy="1160" r="1.6" fill="#6A54C8"/>
<circle cx="1737.2" cy="1309.1" r="2.4" fill="#4A38B0"/>
<circle cx="1677.3" cy="1187.9" r="1.8" fill="#4030A8"/>
<circle cx="1800.9" cy="1214.6" r="1.3" fill="#4030A8"/>
<circle cx="1797.6" cy="1173.1" r="2.1" fill="#6A54C8"/>
<circle cx="1611.1" cy="1256.9" r="3.4" fill="#5A44C0"/>
<circle cx="1761.6" cy="1171.8" r="3.6" fill="#5A44C0"/>
<circle cx="1623.4" cy="1212.5" r="3.9" fill="#4030A8"/>
<circle cx="1798.8" cy="1218.3" r="1.6" fill="#3A2AA0"/>
<circle cx="1599.5" cy="1264.3" r="6.5" fill="#4A38B0"/>
<circle cx="1787.2" cy="1249.5" r="1.4" fill="#5A44C0"/>
<circle cx="1720.9" cy="1246.1" r="1.4" fill="#6A54C8"/>
<circle cx="1665.6" cy="1119.7" r="1.6" fill="#3A2AA0"/>
<circle cx="1768.4" cy="1235.3" r="2.5" fill="#5A44C0"/>
<circle cx="1623.8" cy="1168.9" r="1.5" fill="#6A54C8"/>
<circle cx="1607.9" cy="1272.2" r="1.4" fill="#4030A8"/>
<circle cx="1726.7" cy="1095.7" r="1.4" fill="#5A44C0"/>
<circle cx="1591.3" cy="1221.9" r="1.8" fill="#5A44C0"/>
<circle cx="1616.1" cy="1267.2" r="2.2" fill="#4030A8"/>
<circle cx="1596.7" cy="1202.8" r="2.8" fill="#3A2AA0"/>
<circle cx="1814.7" cy="1203.6" r="3.9" fill="#3A2AA0"/>
<circle cx="1685.5" cy="1163.2" r="2.4" fill="#6A54C8"/>
<circle cx="1717.9" cy="1320.1" r="3" fill="#5A44C0"/>
<circle cx="1786.4" cy="1206" r="2.9" fill="#6A54C8"/>
<circle cx="1641.1" cy="1231.2" r="3.2" fill="#4A38B0"/>
<circle cx="1671.9" cy="1304.8" r="2.9" fill="#4A38B0"/>
<circle cx="1787.7" cy="1220.8" r="1.7" fill="#3A2AA0"/>
<circle cx="1691.9" cy="1286.6" r="5.4" fill="#5A44C0"/>
<circle cx="1738" cy="1123.4" r="2.4" fill="#3A2AA0"/>
<circle cx="1754" cy="1240.1" r="7.3" fill="#6A54C8"/>
<circle cx="1723.6" cy="1321.5" r="1.6" fill="#6A54C8"/>
<circle cx="1608.1" cy="1278.6" r="3.4" fill="#3A2AA0"/>
<circle cx="1733.6" cy="1132.2" r="3.4" fill="#5A44C0"/>
<circle cx="1801.8" cy="1163.8" r="1.9" fill="#4A38B0"/>
<circle cx="1787.3" cy="1164.7" r="2.3" fill="#4030A8"/>
<circle cx="1645.6" cy="1146.9" r="3.3" fill="#3A2AA0"/>
<circle cx="1669.4" cy="1252.1" r="1.3" fill="#6A54C8"/>
<circle cx="1796.9" cy="1170.6" r="4.8" fill="#4030A8"/>
<circle cx="1757.6" cy="1118.2" r="3.3" fill="#3A2AA0"/>
<circle cx="1699.2" cy="1112.2" r="1.6" fill="#3A2AA0"/>
<circle cx="1805" cy="1173.6" r="1.9" fill="#6A54C8"/>
<circle cx="1639.2" cy="1221.9" r="4.5" fill="#6A54C8"/>
<circle cx="1770.6" cy="1127.4" r="1.7" fill="#4030A8"/>
<circle cx="1744.6" cy="1245.8" r="2.4" fill="#4030A8"/>
<circle cx="1767.6" cy="1228.5" r="2" fill="#3A2AA0"/>
<circle cx="1703.4" cy="1320.1" r="4.9" fill="#6A54C8"/>
<circle cx="1598.2" cy="1196.3" r="3.7" fill="#5A44C0"/>
<circle cx="1676.7" cy="1207.3" r="2.3" fill="#6A54C8"/>
<circle cx="1586.6" cy="1210.8" r="2.5" fill="#3A2AA0"/>
<circle cx="1628" cy="1274.4" r="2.4" fill="#6A54C8"/>
<circle cx="1731" cy="1101.5" r="2" fill="#6A54C8"/>
<circle cx="1659.5" cy="1163.2" r="4.6" fill="#3A2AA0"/>
<circle cx="1712.3" cy="1232.7" r="2.3" fill="#5A44C0"/>
<circle cx="1787.8" cy="1135.7" r="3.5" fill="#3A2AA0"/>
<circle cx="1676.4" cy="1310" r="1.3" fill="#6A54C8"/>
<circle cx="1628.7" cy="1217.2" r="2.9" fill="#4030A8"/>
<circle cx="1641.8" cy="1155.7" r="3.4" fill="#3A2AA0"/>
<circle cx="1736.4" cy="1204.2" r="1.7" fill="#4030A8"/>
<circle cx="1611.4" cy="1210.3" r="2.5" fill="#6A54C8"/>
<circle cx="1784.1" cy="1152.8" r="2.1" fill="#6A54C8"/>
<circle cx="1700" cy="1243" r="3" fill="#5A44C0"/>
<circle cx="1610.3" cy="1273.6" r="1.6" fill="#4A38B0"/>
<circle cx="1683.6" cy="1200.4" r="1.6" fill="#5A44C0"/>
<circle cx="1675.7" cy="1315.7" r="2.8" fill="#4A38B0"/>
<circle cx="1601.5" cy="1176.9" r="1.6" fill="#6A54C8"/>
<circle cx="1758.8" cy="1112.7" r="5.8" fill="#6A54C8"/>
<circle cx="1663.8" cy="1135" r="4.2" fill="#4A38B0"/>
<circle cx="1764.5" cy="1196.7" r="1.6" fill="#4030A8"/>
<circle cx="1600.6" cy="1249.8" r="1.8" fill="#5A44C0"/>
<circle cx="1737" cy="1303.6" r="3.3" fill="#5A44C0"/>
<circle cx="1741.9" cy="1141.4" r="1.6" fill="#3A2AA0"/>
<circle cx="1612.1" cy="1150.6" r="5.6" fill="#6A54C8"/>
<circle cx="1636.2" cy="1174.7" r="4.4" fill="#3A2AA0"/>
<circle cx="1612" cy="1265.6" r="3" fill="#4A38B0"/>
<circle cx="1649.7" cy="1260.8" r="5.3" fill="#3A2AA0"/>
<circle cx="1659.4" cy="1297.6" r="1.9" fill="#4A38B0"/>
<circle cx="1776.1" cy="1196.5" r="5.5" fill="#6A54C8"/>
<circle cx="1798.8" cy="1169.5" r="1.8" fill="#3A2AA0"/>
<circle cx="1652.8" cy="1115.5" r="5.1" fill="#6A54C8"/>
<circle cx="1699.1" cy="1117.5" r="2.6" fill="#5A44C0"/>
<circle cx="1638.7" cy="1204.3" r="3" fill="#4030A8"/>
<circle cx="1793" cy="1167.3" r="2.1" fill="#4030A8"/>
<circle cx="1652.7" cy="1117.6" r="4.5" fill="#3A2AA0"/>
<circle cx="1611.9" cy="1184" r="1.7" fill="#6A54C8"/>
<circle cx="1652.5" cy="1180.2" r="2.9" fill="#4A38B0"/>
<circle cx="1746.8" cy="1113.5" r="3" fill="#3A2AA0"/>
<circle cx="1799.6" cy="1209" r="2.8" fill="#4A38B0"/>
<circle cx="1680.9" cy="1276.4" r="1.7" fill="#4030A8"/>
<circle cx="1605.6" cy="1272" r="2.5" fill="#5A44C0"/>
<circle cx="1661.2" cy="1247.3" r="2.9" fill="#6A54C8"/>
<circle cx="1797.6" cy="1200.5" r="1.6" fill="#6A54C8"/>
<circle cx="1660.9" cy="1174.7" r="1.5" fill="#6A54C8"/>
<circle cx="1728.1" cy="1112" r="2.7" fill="#4A38B0"/>
<circle cx="1796" cy="1162.7" r="1.5" fill="#5A44C0"/>
<circle cx="1643.3" cy="1129" r="1.6" fill="#3A2AA0"/>
<circle cx="1609.1" cy="1194.3" r="3.3" fill="#5A44C0"/>
<circle cx="1691.2" cy="1262.9" r="2.3" fill="#5A44C0"/>
<circle cx="1801.5" cy="1152.8" r="2.1" fill="#4A38B0"/>
<circle cx="1675" cy="1271.9" r="7" fill="#6A54C8"/>
<circle cx="1790.3" cy="1259.1" r="7.2" fill="#3A2AA0"/>
<circle cx="1793.2" cy="1157.9" r="1.8" fill="#4A38B0"/>
<circle cx="1724" cy="1100.3" r="1.8" fill="#5A44C0"/>
<circle cx="1635.7" cy="1227.8" r="1.6" fill="#4030A8"/>
<circle cx="1766" cy="1117.8" r="1.4" fill="#3A2AA0"/>
<circle cx="1658" cy="1279.5" r="1.4" fill="#6A54C8"/>
<circle cx="1742.8" cy="1201" r="1.5" fill="#4A38B0"/>
<circle cx="1771.4" cy="1231.1" r="2.9" fill="#4030A8"/>
<circle cx="1795.1" cy="1187" r="1.5" fill="#4030A8"/>
<circle cx="1612.4" cy="1181.2" r="1.6" fill="#5A44C0"/>
<circle cx="1715.8" cy="1322.8" r="3.2" fill="#4030A8"/>
<circle cx="1801" cy="1224.1" r="2.3" fill="#3A2AA0"/>
<circle cx="1622.5" cy="1280" r="1.7" fill="#3A2AA0"/>
<circle cx="1622.9" cy="1152.8" r="1.5" fill="#4A38B0"/>
<circle cx="1742.1" cy="1100.8" r="2.1" fill="#4030A8"/>
<circle cx="1616.9" cy="1211" r="2.8" fill="#4A38B0"/>
<circle cx="1598.4" cy="1240.3" r="5.3" fill="#3A2AA0"/>
<circle cx="1775" cy="1269.6" r="1.8" fill="#4A38B0"/>
<circle cx="1639.6" cy="1218" r="3.4" fill="#3A2AA0"/>
<circle cx="1662" cy="1225.4" r="1.4" fill="#4030A8"/>
<circle cx="1635.4" cy="1217.8" r="2.3" fill="#4030A8"/>
<circle cx="1714.2" cy="1198.4" r="1.5" fill="#5A44C0"/>
<circle cx="1731.1" cy="1197.3" r="2.7" fill="#6A54C8"/>
<circle cx="1673.2" cy="1100.1" r="2.1" fill="#3A2AA0"/>
<circle cx="1746.2" cy="1267.6" r="2" fill="#5A44C0"/>
<circle cx="1592.2" cy="1207.2" r="4" fill="#5A44C0"/>
<circle cx="1627.9" cy="1254" r="3.1" fill="#3A2AA0"/>
<circle cx="1682.5" cy="1167.9" r="2.5" fill="#5A44C0"/>
<circle cx="1755.5" cy="1220" r="5" fill="#4030A8"/>
<circle cx="1799.3" cy="1236.8" r="2.7" fill="#4A38B0"/>
<circle cx="1695.1" cy="1103.1" r="2" fill="#4A38B0"/>
<circle cx="1694.5" cy="1254" r="3.8" fill="#5A44C0"/>
<circle cx="1664.4" cy="1272.4" r="5.7" fill="#4A38B0"/>
<circle cx="1661.9" cy="1140" r="2" fill="#4030A8"/>
<circle cx="1633.2" cy="1291.4" r="1.5" fill="#6A54C8"/>
<circle cx="1806" cy="1210.6" r="1.4" fill="#3A2AA0"/>
<circle cx="1591.9" cy="1238.4" r="2.1" fill="#4A38B0"/>
<circle cx="1639.8" cy="1207.7" r="2.5" fill="#4A38B0"/>
<circle cx="1636.5" cy="1225.4" r="3.6" fill="#3A2AA0"/>
<circle cx="1734.7" cy="1318.1" r="1.6" fill="#4030A8"/>
<circle cx="1804.1" cy="1255.8" r="2.8" fill="#3A2AA0"/>
<circle cx="1704.6" cy="1164.2" r="3.1" fill="#5A44C0"/>
<circle cx="1683.4" cy="1300.8" r="3.2" fill="#3A2AA0"/>
<circle cx="1770" cy="1183.7" r="1.8" fill="#4030A8"/>
<circle cx="1766.1" cy="1234.1" r="3" fill="#4030A8"/>
<circle cx="1754.3" cy="1194.4" r="3.9" fill="#3A2AA0"/>
<circle cx="1754.2" cy="1107.2" r="2.8" fill="#6A54C8"/>
<circle cx="1714.6" cy="1312.5" r="4.8" fill="#4A38B0"/>
<circle cx="1750.7" cy="1120.3" r="3.1" fill="#4A38B0"/>
<circle cx="1593.1" cy="1226.9" r="2.6" fill="#6A54C8"/>
<circle cx="1702.5" cy="1272.4" r="3.4" fill="#3A2AA0"/>
<circle cx="1746.8" cy="1300.2" r="5.1" fill="#6A54C8"/>
<circle cx="1687.5" cy="1296.2" r="6.1" fill="#4030A8"/>
<circle cx="1687.3" cy="1100.4" r="2" fill="#5A44C0"/>
<circle cx="1713.8" cy="1274.5" r="1.3" fill="#6A54C8"/>
<circle cx="1653" cy="1194.1" r="4" fill="#4030A8"/>
<circle cx="1803" cy="1246.4" r="3.5" fill="#4A38B0"/>
<circle cx="1811.4" cy="1218.6" r="1.4" fill="#4030A8"/>
<circle cx="1643.4" cy="1180.5" r="1.7" fill="#6A54C8"/>
<circle cx="1662.9" cy="1149" r="2.5" fill="#4030A8"/>
<circle cx="1781" cy="1246.7" r="2.2" fill="#3A2AA0"/>
<circle cx="1618" cy="1176.9" r="2.7" fill="#6A54C8"/>
<circle cx="1753.5" cy="1234.8" r="3.1" fill="#5A44C0"/>
<circle cx="1717.3" cy="1287.5" r="2.4" fill="#5A44C0"/>
<circle cx="1655.2" cy="1246.4" r="1.5" fill="#3A2AA0"/>
<circle cx="1781.4" cy="1137.5" r="4.9" fill="#3A2AA0"/>
<circle cx="1741.3" cy="1244.9" r="2.6" fill="#4030A8"/>
<circle cx="1720.1" cy="1274.1" r="1.8" fill="#5A44C0"/>
<circle cx="1715.7" cy="1304.3" r="3.3" fill="#6A54C8"/>
<circle cx="1637.9" cy="1203.9" r="1.5" fill="#5A44C0"/>
<circle cx="1780.7" cy="1204.3" r="4.5" fill="#6A54C8"/>
<circle cx="1723.6" cy="1184.2" r="2" fill="#5A44C0"/>
<circle cx="1626.1" cy="1144.3" r="2.9" fill="#4A38B0"/>
<circle cx="1608.2" cy="1264.4" r="2.8" fill="#3A2AA0"/>
<circle cx="1704.3" cy="1139" r="5.2" fill="#4A38B0"/>
<circle cx="1791.5" cy="1149.5" r="3" fill="#4A38B0"/>
<circle cx="1770.1" cy="1255.5" r="4.9" fill="#5A44C0"/>
<circle cx="1792.5" cy="1161" r="1.7" fill="#4030A8"/>
<circle cx="1764.2" cy="1255.5" r="2.1" fill="#4A38B0"/>
<circle cx="1586.5" cy="1201.9" r="3.2" fill="#4030A8"/>
<circle cx="1684.7" cy="1263.7" r="2" fill="#5A44C0"/>
<circle cx="1703.2" cy="1323.8" r="2.2" fill="#5A44C0"/>
<circle cx="1752.2" cy="1153.8" r="1.6" fill="#4A38B0"/>
<circle cx="1771.7" cy="1179.6" r="2.3" fill="#4030A8"/>
<circle cx="1729.6" cy="1122.2" r="2.3" fill="#3A2AA0"/>
<circle cx="1692.7" cy="1118.3" r="1.4" fill="#4A38B0"/>
<circle cx="1768.7" cy="1156.9" r="5.7" fill="#5A44C0"/>
<circle cx="1710.9" cy="1133.6" r="2.9" fill="#6A54C8"/>
<circle cx="1631.8" cy="1123.4" r="2.5" fill="#6A54C8"/>
<circle cx="1604" cy="1268.9" r="1.4" fill="#3A2AA0"/>
<circle cx="1735.2" cy="1286.8" r="2.5" fill="#4030A8"/>
<circle cx="1686.2" cy="1299.2" r="1.8" fill="#4A38B0"/>
<circle cx="1733.5" cy="1160.4" r="2.3" fill="#4A38B0"/>
<circle cx="1595.4" cy="1199.1" r="1.3" fill="#4A38B0"/>
<circle cx="1689.3" cy="1289.9" r="3.5" fill="#6A54C8"/>
<circle cx="1723.7" cy="1181.5" r="2.9" fill="#4030A8"/>
<circle cx="1656.8" cy="1232.1" r="1.7" fill="#3A2AA0"/>
<circle cx="1620.5" cy="1156.1" r="2.7" fill="#4A38B0"/>
<circle cx="1721.2" cy="1183.5" r="1.7" fill="#4A38B0"/>
<circle cx="1620.5" cy="1126.7" r="2" fill="#6A54C8"/>
<circle cx="1625.6" cy="1128.2" r="1.4" fill="#3A2AA0"/>
<circle cx="1681.9" cy="1283.6" r="1.5" fill="#4A38B0"/>
<circle cx="1739" cy="1110" r="3.2" fill="#6A54C8"/>
<circle cx="1672.8" cy="1309" r="2.2" fill="#6A54C8"/>
<circle cx="1728" cy="1248.7" r="2" fill="#6A54C8"/>
<circle cx="1776.6" cy="1176.8" r="3.8" fill="#3A2AA0"/>
<circle cx="1605.7" cy="1266.8" r="1.8" fill="#5A44C0"/>
<circle cx="1696.6" cy="1212.7" r="4.6" fill="#4030A8"/>
<circle cx="1717.3" cy="1118.9" r="2.8" fill="#4030A8"/>
<circle cx="1775.3" cy="1273.7" r="3.1" fill="#4030A8"/>
<circle cx="1624.5" cy="1273.2" r="3" fill="#4A38B0"/>
<circle cx="1641.3" cy="1141.5" r="1.6" fill="#5A44C0"/>
<circle cx="1655.1" cy="1116.5" r="1.5" fill="#4030A8"/>
<circle cx="1606.4" cy="1239.7" r="1.7" fill="#4030A8"/>
<circle cx="1802.8" cy="1235.8" r="2.2" fill="#3A2AA0"/>
<circle cx="1775.4" cy="1220.1" r="2.1" fill="#5A44C0"/>
<circle cx="1624" cy="1126.8" r="3.2" fill="#5A44C0"/>
<circle cx="1645.9" cy="1229.1" r="1.6" fill="#6A54C8"/>
<circle cx="1627.6" cy="1292.6" r="3.2" fill="#5A44C0"/>
<circle cx="1631.2" cy="1168.8" r="2" fill="#3A2AA0"/>
<circle cx="1736.9" cy="1307.6" r="2.1" fill="#6A54C8"/>
<circle cx="1646.9" cy="1294.7" r="4.4" fill="#4A38B0"/>
<circle cx="1649.6" cy="1132.4" r="3.3" fill="#3A2AA0"/>
<circle cx="1616.4" cy="1186.3" r="1.4" fill="#4030A8"/>
<circle cx="1625.5" cy="1137" r="2.3" fill="#6A54C8"/>
<circle cx="1748.1" cy="1290.4" r="5.7" fill="#4030A8"/>
<circle cx="1717.2" cy="1259.6" r="1.5" fill="#4A38B0"/>
<circle cx="1718.3" cy="1172.8" r="2.4" fill="#4030A8"/>
<circle cx="1764.3" cy="1266.9" r="1.4" fill="#4030A8"/>
<circle cx="1601.2" cy="1219.6" r="1.5" fill="#3A2AA0"/>
<circle cx="1708.1" cy="1292.6" r="2.5" fill="#4030A8"/>
<circle cx="1748.6" cy="1184.4" r="4.7" fill="#4030A8"/>
<circle cx="1783.8" cy="1280" r="4.6" fill="#6A54C8"/>
<circle cx="1753.5" cy="1116.7" r="1.7" fill="#6A54C8"/>
<circle cx="1630.7" cy="1141.1" r="1.5" fill="#3A2AA0"/>
<circle cx="1609.7" cy="1259.7" r="3.5" fill="#4030A8"/>
<circle cx="1668.1" cy="1099.1" r="1.6" fill="#4030A8"/>
<circle cx="1616.5" cy="1246" r="2.8" fill="#4030A8"/>
<circle cx="1745.4" cy="1107.9" r="4" fill="#4A38B0"/>
<circle cx="1765.1" cy="1243.2" r="1.6" fill="#3A2AA0"/>
<circle cx="1763.2" cy="1201.6" r="5.4" fill="#6A54C8"/>
<circle cx="1609.2" cy="1183.6" r="1.4" fill="#4030A8"/>
<circle cx="1623.9" cy="1170.6" r="5.9" fill="#4030A8"/>
<circle cx="1638.6" cy="1124.9" r="1.5" fill="#6A54C8"/>
<circle cx="1715.8" cy="1202.7" r="2.1" fill="#4A38B0"/>
<circle cx="1685" cy="1275.4" r="2.5" fill="#4A38B0"/>
<circle cx="1614.4" cy="1182.6" r="3.4" fill="#3A2AA0"/>
<circle cx="1735.3" cy="1136.8" r="1.3" fill="#5A44C0"/>
<circle cx="1687.8" cy="1121.7" r="3.4" fill="#5A44C0"/>
<circle cx="1769.2" cy="1160.5" r="2.9" fill="#6A54C8"/>
<circle cx="1783" cy="1254.3" r="2.2" fill="#5A44C0"/>
<circle cx="1781.5" cy="1140.7" r="1.9" fill="#4030A8"/>
<circle cx="1655.9" cy="1221.4" r="2.8" fill="#5A44C0"/>
<circle cx="1617.3" cy="1273.5" r="2.6" fill="#4030A8"/>
<circle cx="1753" cy="1281.2" r="1.4" fill="#4A38B0"/>
<circle cx="1617.9" cy="1269.4" r="1.4" fill="#4030A8"/>
<circle cx="1651.1" cy="1126.1" r="2.8" fill="#5A44C0"/>
<circle cx="1712.6" cy="1097.5" r="3.9" fill="#3A2AA0"/>
<circle cx="1763.2" cy="1117.9" r="1.5" fill="#4030A8"/>
<circle cx="1633.8" cy="1259.5" r="3.4" fill="#6A54C8"/>
<circle cx="1767.6" cy="1232.3" r="3.4" fill="#5A44C0"/>
<circle cx="1666.5" cy="1204.6" r="1.3" fill="#6A54C8"/>
<circle cx="1773" cy="1196.2" r="3" fill="#4A38B0"/>
<circle cx="1763.7" cy="1232.2" r="3.4" fill="#3A2AA0"/>
<circle cx="1792.7" cy="1155.1" r="1.5" fill="#6A54C8"/>
<circle cx="1683.2" cy="1108.1" r="2.9" fill="#5A44C0"/>
<circle cx="1666.4" cy="1151.2" r="2.2" fill="#5A44C0"/>
<circle cx="1792.4" cy="1258" r="1.4" fill="#6A54C8"/>
<circle cx="1731.1" cy="1114.9" r="2.2" fill="#4030A8"/>
<circle cx="1781.2" cy="1157.7" r="1.7" fill="#3A2AA0"/>
<circle cx="1635.5" cy="1182" r="2.5" fill="#4030A8"/>
<circle cx="1666" cy="1260.9" r="1.7" fill="#4A38B0"/>
<circle cx="1663.9" cy="1184.1" r="3.3" fill="#3A2AA0"/>
<circle cx="1770.2" cy="1120.2" r="3.1" fill="#4A38B0"/>
<circle cx="1663.6" cy="1174.7" r="6.2" fill="#4030A8"/>
<circle cx="1600.9" cy="1215.2" r="2.4" fill="#4030A8"/>
<circle cx="1749.6" cy="1305.5" r="1.5" fill="#6A54C8"/>
<circle cx="1616.9" cy="1213.6" r="2.3" fill="#6A54C8"/>
<circle cx="1793" cy="1150.9" r="1.9" fill="#5A44C0"/>
<circle cx="1662.5" cy="1127.2" r="1.4" fill="#5A44C0"/>
<circle cx="1806.3" cy="1200.8" r="2.2" fill="#6A54C8"/>
<circle cx="1798.7" cy="1152.6" r="1.9" fill="#3A2AA0"/>
<circle cx="1634.5" cy="1118.3" r="1.8" fill="#4030A8"/>
<circle cx="1648.5" cy="1219.2" r="6.5" fill="#4030A8"/>
<circle cx="1776.5" cy="1122.7" r="5.3" fill="#4030A8"/>
<circle cx="1767.5" cy="1150.4" r="3.4" fill="#4030A8"/>
<circle cx="1723.5" cy="1299.3" r="1.6" fill="#6A54C8"/>
<circle cx="1786" cy="1217.2" r="5" fill="#4030A8"/>
<circle cx="1629.7" cy="1246.4" r="1.5" fill="#4A38B0"/>
<circle cx="1731.2" cy="1112.2" r="2.9" fill="#4A38B0"/>
<circle cx="1607.4" cy="1223.9" r="2.7" fill="#4A38B0"/>
<circle cx="1650.3" cy="1310.8" r="5.7" fill="#3A2AA0"/>
<circle cx="1620.9" cy="1265.9" r="1.6" fill="#5A44C0"/>
<circle cx="1595.3" cy="1223.2" r="1.6" fill="#4A38B0"/>
<circle cx="1623.2" cy="1187.5" r="1.4" fill="#4A38B0"/>
<circle cx="1730" cy="1179.4" r="2.2" fill="#3A2AA0"/>
<circle cx="1637.2" cy="1234.3" r="2.9" fill="#4A38B0"/>
<circle cx="1683.9" cy="1173.5" r="2.6" fill="#3A2AA0"/>
<circle cx="1704.7" cy="1146.2" r="2.4" fill="#3A2AA0"/>
<circle cx="1645.4" cy="1131.4" r="3" fill="#5A44C0"/>
<circle cx="1775.8" cy="1121.1" r="1.7" fill="#5A44C0"/>
<circle cx="1628.9" cy="1273.9" r="1.7" fill="#4A38B0"/>
<circle cx="1715.1" cy="1225.8" r="1.5" fill="#6A54C8"/>
<circle cx="1585.8" cy="1198.6" r="4.2" fill="#5A44C0"/>
<circle cx="1716.3" cy="1309.6" r="1.9" fill="#4030A8"/>
<circle cx="1643.5" cy="1296.2" r="1.6" fill="#4A38B0"/>
<circle cx="1775.8" cy="1188.7" r="1.7" fill="#4A38B0"/>
<circle cx="1611.9" cy="1146.9" r="1.7" fill="#5A44C0"/>
</g>
</g>
<clipPath id="pc2"><rect x="1311.8" y="1341.4" width="258.2" height="266.3"/></clipPath>
<g clip-path="url(#pc2)">
<circle cx="1440" cy="1471" r="127" fill="#BEE2F8" stroke="#5E8ECC" stroke-width="3"/>
<circle cx="1440" cy="1471" r="120" fill="none" stroke="#5E8ECC" stroke-width="1.5" opacity="0.5"/>
<g filter="url(#soft)">
<circle cx="1393.5" cy="1543.3" r="4.9" fill="#3A1A58"/>
<circle cx="1435.9" cy="1501" r="1.9" fill="#2A1440"/>
<circle cx="1377.1" cy="1542.4" r="4.7" fill="#2A1440"/>
<circle cx="1472.8" cy="1584" r="3.1" fill="#6A3A90"/>
<circle cx="1536.5" cy="1443.7" r="3.1" fill="#6A3A90"/>
<circle cx="1398.9" cy="1563.2" r="1.6" fill="#2A1040"/>
<circle cx="1510.6" cy="1450" r="1.3" fill="#3A1A58"/>
<circle cx="1481.8" cy="1536.6" r="3.7" fill="#3A1A58"/>
<circle cx="1333.6" cy="1474.4" r="2" fill="#3A1A58"/>
<circle cx="1328.3" cy="1445" r="2.3" fill="#6A3A90"/>
<circle cx="1348.9" cy="1439.7" r="1.5" fill="#4A2470"/>
<circle cx="1474.2" cy="1535.6" r="2.7" fill="#3A1A58"/>
<circle cx="1401.9" cy="1509.7" r="1.8" fill="#2A1040"/>
<circle cx="1337.2" cy="1524.2" r="2.2" fill="#4A2470"/>
<circle cx="1342.3" cy="1533.6" r="1.7" fill="#4A2470"/>
<circle cx="1341.3" cy="1408.4" r="2.2" fill="#4A2470"/>
<circle cx="1385.1" cy="1524.1" r="2.7" fill="#6A3A90"/>
<circle cx="1436.3" cy="1571.1" r="1.9" fill="#6A3A90"/>
<circle cx="1343.4" cy="1513.5" r="1.8" fill="#6A3A90"/>
<circle cx="1501.4" cy="1440.9" r="3.6" fill="#3A1A58"/>
<circle cx="1409.3" cy="1435.3" r="2.5" fill="#3A1A58"/>
<circle cx="1538" cy="1490.4" r="1.7" fill="#3A1A58"/>
<circle cx="1472.6" cy="1503.3" r="5.6" fill="#2A1440"/>
<circle cx="1427.7" cy="1518.8" r="3.5" fill="#2A1440"/>
<circle cx="1508.3" cy="1385.7" r="6.6" fill="#2A1040"/>
<circle cx="1494" cy="1371.5" r="1.4" fill="#6A3A90"/>
<circle cx="1359.9" cy="1500.9" r="1.8" fill="#6A3A90"/>
<circle cx="1426" cy="1571.4" r="5.3" fill="#2A1440"/>
<circle cx="1387.8" cy="1562.2" r="3.7" fill="#3A1A58"/>
<circle cx="1508.8" cy="1492.6" r="1.9" fill="#4A2470"/>
<circle cx="1459.5" cy="1435.8" r="2.4" fill="#6A3A90"/>
<circle cx="1516.1" cy="1401.6" r="3.4" fill="#4A2470"/>
<circle cx="1499.8" cy="1549.7" r="2.1" fill="#3A1A58"/>
<circle cx="1405.9" cy="1361.2" r="2.4" fill="#6A3A90"/>
<circle cx="1349.5" cy="1473.1" r="2.7" fill="#6A3A90"/>
<circle cx="1482.8" cy="1479.6" r="2.1" fill="#6A3A90"/>
<circle cx="1493" cy="1546" r="2" fill="#6A3A90"/>
<circle cx="1491.5" cy="1536.7" r="1.3" fill="#2A1440"/>
<circle cx="1397.9" cy="1564.6" r="1.9" fill="#2A1040"/>
<circle cx="1326" cy="1450.8" r="4.1" fill="#4A2470"/>
<circle cx="1386.5" cy="1400.7" r="1.6" fill="#4A2470"/>
<circle cx="1486.1" cy="1435" r="4.8" fill="#6A3A90"/>
<circle cx="1327.6" cy="1501.4" r="2.3" fill="#6A3A90"/>
<circle cx="1469.9" cy="1541.1" r="1.6" fill="#4A2470"/>
<circle cx="1391.7" cy="1375.9" r="4.3" fill="#2A1040"/>
<circle cx="1442.1" cy="1539.7" r="2.1" fill="#4A2470"/>
<circle cx="1411.6" cy="1566.7" r="4.1" fill="#3A1A58"/>
<circle cx="1391.9" cy="1571.9" r="1.6" fill="#6A3A90"/>
<circle cx="1517.3" cy="1527" r="2.9" fill="#2A1440"/>
<circle cx="1352.9" cy="1507" r="1.9" fill="#2A1440"/>
<circle cx="1486.6" cy="1365.7" r="1.7" fill="#2A1040"/>
<circle cx="1436.8" cy="1361" r="1.7" fill="#4A2470"/>
<circle cx="1341.4" cy="1425.8" r="2.8" fill="#6A3A90"/>
<circle cx="1426.8" cy="1435.1" r="2.1" fill="#6A3A90"/>
<circle cx="1339.2" cy="1505.6" r="2.2" fill="#6A3A90"/>
<circle cx="1354.7" cy="1424.7" r="2.6" fill="#3A1A58"/>
<circle cx="1435.5" cy="1372.8" r="3.7" fill="#2A1040"/>
<circle cx="1440.1" cy="1529.7" r="6.4" fill="#3A1A58"/>
<circle cx="1370.1" cy="1558.2" r="2.6" fill="#2A1440"/>
<circle cx="1488.3" cy="1501.7" r="2.7" fill="#2A1040"/>
<circle cx="1438.2" cy="1368.2" r="3.8" fill="#3A1A58"/>
<circle cx="1554.5" cy="1471.1" r="3" fill="#3A1A58"/>
<circle cx="1376.1" cy="1521.6" r="4.8" fill="#4A2470"/>
<circle cx="1431.6" cy="1562.7" r="7.1" fill="#2A1440"/>
<circle cx="1340.4" cy="1468.5" r="2.5" fill="#2A1440"/>
<circle cx="1358.4" cy="1552.5" r="1.8" fill="#6A3A90"/>
<circle cx="1414.6" cy="1496.5" r="3.5" fill="#2A1040"/>
<circle cx="1332.2" cy="1493.2" r="1.7" fill="#2A1040"/>
<circle cx="1338.4" cy="1511.3" r="2.3" fill="#6A3A90"/>
<circle cx="1335.8" cy="1485.6" r="1.6" fill="#2A1040"/>
<circle cx="1424.7" cy="1410.2" r="2.2" fill="#6A3A90"/>
<circle cx="1454.9" cy="1408.3" r="5.9" fill="#3A1A58"/>
<circle cx="1373.8" cy="1555.3" r="2.2" fill="#6A3A90"/>
<circle cx="1328" cy="1458.2" r="2" fill="#4A2470"/>
<circle cx="1371.6" cy="1500.4" r="3.2" fill="#3A1A58"/>
<circle cx="1523.7" cy="1459.5" r="5.2" fill="#6A3A90"/>
<circle cx="1470.9" cy="1510.5" r="2.3" fill="#3A1A58"/>
<circle cx="1446" cy="1468.9" r="2.1" fill="#6A3A90"/>
<circle cx="1492" cy="1387.7" r="2.8" fill="#2A1040"/>
<circle cx="1431.4" cy="1546.3" r="2.5" fill="#2A1440"/>
<circle cx="1534.7" cy="1442.5" r="2.1" fill="#3A1A58"/>
<circle cx="1540.8" cy="1512.2" r="3.6" fill="#6A3A90"/>
<circle cx="1330" cy="1499.1" r="4.6" fill="#3A1A58"/>
<circle cx="1472.7" cy="1444.1" r="2.2" fill="#6A3A90"/>
<circle cx="1423" cy="1483.4" r="8.4" fill="#4A2470"/>
<circle cx="1386.3" cy="1523.2" r="2.8" fill="#2A1040"/>
<circle cx="1466.6" cy="1537.9" r="4.8" fill="#6A3A90"/>
<circle cx="1400.6" cy="1409.1" r="1.5" fill="#6A3A90"/>
<circle cx="1401.8" cy="1579.9" r="2.6" fill="#3A1A58"/>
<circle cx="1500.4" cy="1564.7" r="1.9" fill="#2A1040"/>
<circle cx="1341.5" cy="1420.5" r="2.2" fill="#3A1A58"/>
<circle cx="1375.4" cy="1395.2" r="3.6" fill="#4A2470"/>
<circle cx="1386.3" cy="1478.4" r="1.7" fill="#2A1440"/>
<circle cx="1343.9" cy="1511.3" r="3.3" fill="#2A1040"/>
<circle cx="1416.5" cy="1501" r="5.2" fill="#6A3A90"/>
<circle cx="1477.1" cy="1365.2" r="2.5" fill="#2A1040"/>
<circle cx="1432.7" cy="1432.6" r="1.9" fill="#4A2470"/>
<circle cx="1435.9" cy="1563.9" r="1.5" fill="#2A1440"/>
<circle cx="1426.2" cy="1479.4" r="1.5" fill="#2A1040"/>
<circle cx="1542.9" cy="1503.9" r="6.1" fill="#3A1A58"/>
<circle cx="1467" cy="1526.2" r="7.1" fill="#2A1040"/>
<circle cx="1467.6" cy="1361.2" r="4.7" fill="#6A3A90"/>
<circle cx="1379" cy="1530.1" r="2" fill="#6A3A90"/>
<circle cx="1471.7" cy="1477.2" r="7.2" fill="#6A3A90"/>
<circle cx="1361.8" cy="1479.7" r="3.2" fill="#2A1040"/>
<circle cx="1451.6" cy="1578" r="1.5" fill="#2A1440"/>
<circle cx="1351.1" cy="1450" r="7.3" fill="#4A2470"/>
<circle cx="1388.4" cy="1533.5" r="1.9" fill="#2A1040"/>
<circle cx="1341.4" cy="1425.2" r="3.1" fill="#4A2470"/>
<circle cx="1498.8" cy="1512.4" r="2" fill="#2A1440"/>
<circle cx="1344" cy="1529.2" r="2.8" fill="#2A1440"/>
<circle cx="1507.2" cy="1381" r="5.5" fill="#2A1040"/>
<circle cx="1335.6" cy="1420.8" r="2.1" fill="#2A1040"/>
<circle cx="1516.5" cy="1474.1" r="1.9" fill="#6A3A90"/>
<circle cx="1411.4" cy="1560.9" r="5.2" fill="#3A1A58"/>
<circle cx="1335.4" cy="1431.8" r="1.7" fill="#2A1440"/>
<circle cx="1474.1" cy="1360.6" r="2.6" fill="#2A1440"/>
<circle cx="1483.5" cy="1574.4" r="1.9" fill="#6A3A90"/>
<circle cx="1437.3" cy="1371.6" r="3.9" fill="#4A2470"/>
<circle cx="1354.3" cy="1419.9" r="2.3" fill="#2A1040"/>
<circle cx="1416.3" cy="1587.4" r="3.6" fill="#3A1A58"/>
<circle cx="1414.6" cy="1469.4" r="1.5" fill="#2A1040"/>
<circle cx="1343.5" cy="1540.6" r="4.7" fill="#2A1440"/>
<circle cx="1341.2" cy="1494.6" r="2.6" fill="#4A2470"/>
<circle cx="1351.7" cy="1406.1" r="3.5" fill="#4A2470"/>
<circle cx="1459.2" cy="1569.8" r="4.6" fill="#6A3A90"/>
<circle cx="1342.5" cy="1424.1" r="1.6" fill="#2A1440"/>
<circle cx="1448.9" cy="1384.1" r="1.9" fill="#2A1440"/>
<circle cx="1489.3" cy="1546.3" r="2.1" fill="#6A3A90"/>
<circle cx="1528.1" cy="1454" r="1.4" fill="#2A1440"/>
<circle cx="1391.6" cy="1550.7" r="1.5" fill="#2A1040"/>
<circle cx="1394.2" cy="1577.1" r="1.9" fill="#2A1440"/>
<circle cx="1478.3" cy="1381.7" r="1.4" fill="#4A2470"/>
<circle cx="1368.2" cy="1458.8" r="3.1" fill="#4A2470"/>
<circle cx="1475.6" cy="1573.9" r="6.1" fill="#3A1A58"/>
<circle cx="1390.3" cy="1436.9" r="3.1" fill="#2A1440"/>
<circle cx="1481.4" cy="1422.6" r="1.4" fill="#3A1A58"/>
<circle cx="1527.1" cy="1519.8" r="3.4" fill="#2A1040"/>
<circle cx="1474.8" cy="1555.1" r="6.5" fill="#4A2470"/>
<circle cx="1442.8" cy="1521" r="2.6" fill="#4A2470"/>
<circle cx="1348.1" cy="1491.3" r="1.4" fill="#2A1440"/>
<circle cx="1437.8" cy="1360.8" r="2.2" fill="#3A1A58"/>
<circle cx="1500.6" cy="1571" r="2.6" fill="#4A2470"/>
<circle cx="1429.1" cy="1569.1" r="3.5" fill="#2A1040"/>
<circle cx="1531.3" cy="1469.7" r="3.6" fill="#6A3A90"/>
<circle cx="1463.6" cy="1522" r="2.4" fill="#6A3A90"/>
<circle cx="1404.1" cy="1515.2" r="3.6" fill="#3A1A58"/>
<circle cx="1508.1" cy="1377.2" r="2.7" fill="#2A1440"/>
<circle cx="1338.1" cy="1497.2" r="3.2" fill="#6A3A90"/>
<circle cx="1338" cy="1462.6" r="8.3" fill="#2A1440"/>
<circle cx="1423.2" cy="1394.2" r="2.4" fill="#4A2470"/>
<circle cx="1495.1" cy="1392.7" r="4.3" fill="#6A3A90"/>
<circle cx="1409.1" cy="1461.2" r="2.2" fill="#6A3A90"/>
<circle cx="1349.7" cy="1541.4" r="5.5" fill="#2A1040"/>
<circle cx="1343.4" cy="1465.3" r="2.1" fill="#3A1A58"/>
<circle cx="1436.3" cy="1394.6" r="7.3" fill="#3A1A58"/>
<circle cx="1330.5" cy="1469.9" r="3.3" fill="#4A2470"/>
<circle cx="1444" cy="1565.9" r="1.6" fill="#2A1040"/>
<circle cx="1462.3" cy="1382.8" r="1.4" fill="#6A3A90"/>
<circle cx="1475.5" cy="1579.3" r="1.5" fill="#2A1440"/>
<circle cx="1383.4" cy="1571.5" r="1.4" fill="#3A1A58"/>
<circle cx="1386.9" cy="1559.5" r="2.4" fill="#4A2470"/>
<circle cx="1495.6" cy="1454.2" r="4.1" fill="#6A3A90"/>
<circle cx="1380.2" cy="1524.9" r="1.6" fill="#2A1040"/>
<circle cx="1430.3" cy="1371.6" r="2.7" fill="#4A2470"/>
<circle cx="1346.4" cy="1491.4" r="1.7" fill="#2A1440"/>
<circle cx="1358.6" cy="1412.4" r="3.1" fill="#6A3A90"/>
<circle cx="1428.1" cy="1373.6" r="2.8" fill="#3A1A58"/>
<circle cx="1412.3" cy="1406.4" r="1.7" fill="#4A2470"/>
<circle cx="1418.6" cy="1364.9" r="2.3" fill="#6A3A90"/>
</g>
</g>
<clipPath id="pc3"><rect x="1570" y="1341.4" width="258" height="266.3"/></clipPath>
<g clip-path="url(#pc3)">
<circle cx="1701" cy="1471" r="126" fill="#C0E2F8" stroke="#4E7EC0" stroke-width="3"/>
<circle cx="1701" cy="1471" r="119" fill="none" stroke="#4E7EC0" stroke-width="1.5" opacity="0.5"/>
<path d="M1771.5 1370.2 A123 123 0 0 1 1732.8 1589.8" fill="none" stroke="#4A6EB0" stroke-width="6" opacity="0.75"/>
<g filter="url(#soft)">
<circle cx="1608.4" cy="1412.6" r="1.8" fill="#4A3A98"/>
<circle cx="1733.5" cy="1396.6" r="1.7" fill="#4A3A98"/>
<circle cx="1796.1" cy="1456.4" r="1" fill="#4A3A98"/>
<circle cx="1695.8" cy="1394.6" r="1.5" fill="#4A3A98"/>
<circle cx="1649.7" cy="1408.3" r="2" fill="#3A2A80"/>
<circle cx="1699.3" cy="1571.9" r="2.4" fill="#3A2A80"/>
<circle cx="1634.5" cy="1539.5" r="1.4" fill="#3A2A80"/>
<circle cx="1615.8" cy="1525.9" r="1.2" fill="#4A3A98"/>
<circle cx="1600.2" cy="1511.2" r="1.1" fill="#2A2060"/>
<circle cx="1776.9" cy="1561.1" r="1.2" fill="#3A2A80"/>
<circle cx="1746.9" cy="1543.2" r="1.4" fill="#3A2A80"/>
<circle cx="1739.6" cy="1383.8" r="1.4" fill="#3A2A80"/>
<circle cx="1735.5" cy="1382" r="1.1" fill="#3A2A80"/>
<circle cx="1585.7" cy="1475.1" r="2.7" fill="#4A3A98"/>
<circle cx="1694.6" cy="1505.3" r="1.2" fill="#2A2060"/>
<circle cx="1742.3" cy="1573" r="2.8" fill="#3A2A80"/>
<circle cx="1754" cy="1417.8" r="1" fill="#2A2060"/>
<circle cx="1779.7" cy="1484.9" r="1.1" fill="#4A3A98"/>
<circle cx="1663.9" cy="1568.6" r="1.2" fill="#3A2A80"/>
<circle cx="1735" cy="1396.2" r="1.4" fill="#3A2A80"/>
<circle cx="1610" cy="1525.1" r="1" fill="#3A2A80"/>
<circle cx="1690.1" cy="1504.6" r="1.7" fill="#4A3A98"/>
<circle cx="1587.2" cy="1446.4" r="1.5" fill="#2A2060"/>
<circle cx="1777.2" cy="1431.6" r="1.1" fill="#3A2A80"/>
<circle cx="1686.9" cy="1554.3" r="1.3" fill="#3A2A80"/>
<circle cx="1687.6" cy="1581.9" r="3.6" fill="#3A2A80"/>
<circle cx="1675" cy="1510.8" r="1.6" fill="#3A2A80"/>
<circle cx="1606.7" cy="1485" r="1.4" fill="#2A2060"/>
<circle cx="1791" cy="1468.3" r="2.7" fill="#4A3A98"/>
<circle cx="1808.1" cy="1499.7" r="1.4" fill="#3A2A80"/>
<circle cx="1726.9" cy="1385" r="1.3" fill="#4A3A98"/>
<circle cx="1723.6" cy="1573.9" r="1.5" fill="#3A2A80"/>
<circle cx="1761" cy="1558.4" r="2.1" fill="#2A2060"/>
<circle cx="1635.7" cy="1431.4" r="1.7" fill="#2A2060"/>
<circle cx="1677.8" cy="1373.3" r="1.1" fill="#4A3A98"/>
<circle cx="1664.9" cy="1397" r="1.3" fill="#4A3A98"/>
<circle cx="1782.7" cy="1524.4" r="1.8" fill="#2A2060"/>
<circle cx="1683.9" cy="1533" r="1.5" fill="#4A3A98"/>
<circle cx="1685.1" cy="1400.2" r="1.1" fill="#4A3A98"/>
<circle cx="1670.8" cy="1528" r="1.5" fill="#3A2A80"/>
<circle cx="1726" cy="1380.5" r="1.5" fill="#3A2A80"/>
<circle cx="1810.1" cy="1461.3" r="1.1" fill="#2A2060"/>
<circle cx="1645.8" cy="1464" r="1" fill="#3A2A80"/>
<circle cx="1611.6" cy="1468.4" r="1.7" fill="#3A2A80"/>
<circle cx="1749.1" cy="1365.1" r="1.8" fill="#4A3A98"/>
<circle cx="1641" cy="1524.3" r="1.1" fill="#3A2A80"/>
<circle cx="1788.4" cy="1424.5" r="1.3" fill="#2A2060"/>
<circle cx="1704.7" cy="1524.4" r="1.3" fill="#3A2A80"/>
<circle cx="1644.9" cy="1383.1" r="1.6" fill="#2A2060"/>
<circle cx="1703.4" cy="1557.5" r="1.1" fill="#3A2A80"/>
<circle cx="1664.6" cy="1497.4" r="1.5" fill="#3A2A80"/>
<circle cx="1604.6" cy="1427.7" r="1" fill="#4A3A98"/>
<circle cx="1703.9" cy="1357.8" r="1.4" fill="#3A2A80"/>
<circle cx="1754.4" cy="1416.9" r="3.4" fill="#2A2060"/>
<circle cx="1656" cy="1488.2" r="1.7" fill="#2A2060"/>
<circle cx="1614.3" cy="1549" r="2.4" fill="#2A2060"/>
<circle cx="1795.8" cy="1451.1" r="1.8" fill="#3A2A80"/>
<circle cx="1781.3" cy="1472.4" r="3.2" fill="#2A2060"/>
<circle cx="1763.9" cy="1470.8" r="1" fill="#2A2060"/>
<circle cx="1617.8" cy="1408.8" r="3.8" fill="#2A2060"/>
<circle cx="1767.4" cy="1440.4" r="3.1" fill="#3A2A80"/>
<circle cx="1603.7" cy="1440.7" r="2.7" fill="#3A2A80"/>
<circle cx="1739" cy="1405.3" r="1.5" fill="#3A2A80"/>
<circle cx="1739.6" cy="1418.4" r="1" fill="#4A3A98"/>
<circle cx="1614.7" cy="1393.4" r="4.6" fill="#4A3A98"/>
<circle cx="1744.1" cy="1495" r="3.4" fill="#2A2060"/>
<circle cx="1793.5" cy="1531.1" r="1.2" fill="#2A2060"/>
<circle cx="1736.9" cy="1473.6" r="1.7" fill="#4A3A98"/>
<circle cx="1729.4" cy="1416.8" r="2.1" fill="#3A2A80"/>
<circle cx="1722.6" cy="1434" r="1.6" fill="#3A2A80"/>
<circle cx="1621.4" cy="1390.3" r="1" fill="#3A2A80"/>
<circle cx="1685.9" cy="1425.5" r="2" fill="#2A2060"/>
<circle cx="1760.5" cy="1518.6" r="2.5" fill="#2A2060"/>
<circle cx="1710.7" cy="1487.4" r="1.5" fill="#3A2A80"/>
<circle cx="1601.2" cy="1517.2" r="1.3" fill="#3A2A80"/>
<circle cx="1668.1" cy="1389.9" r="1.9" fill="#2A2060"/>
<circle cx="1699.1" cy="1463.4" r="1.4" fill="#2A2060"/>
<circle cx="1670.9" cy="1478" r="1.1" fill="#3A2A80"/>
<circle cx="1704.6" cy="1441.7" r="1.5" fill="#3A2A80"/>
<circle cx="1599.2" cy="1484.1" r="1.6" fill="#3A2A80"/>
</g>
</g>
<rect x="1314.8" y="1078" width="510.2" height="526.7" fill="none" stroke="#000" stroke-width="6"/>
<rect x="1568.5" y="1075" width="3" height="532.7" fill="#000"/>
<rect x="1311.8" y="1339.9" width="516.2" height="3" fill="#000"/>
<text x="1450" y="1679" font-size="48" text-anchor="middle">100</text>
<text x="1710" y="1679" font-size="48" text-anchor="middle">250μM</text>
<rect x="2000.1" y="1157" width="3.8" height="385.4" fill="#000"/>
<rect x="1993" y="1538.6" width="266" height="3.8" fill="#000"/>
<rect x="1993" y="1538.6" width="9" height="3.8" fill="#000"/>
<text x="1989" y="1554.5" font-size="39" text-anchor="end">0</text>
<rect x="1993" y="1443.2" width="9" height="3.8" fill="#000"/>
<text x="1989" y="1459.1" font-size="39" text-anchor="end">100</text>
<rect x="1993" y="1347.8" width="9" height="3.8" fill="#000"/>
<text x="1989" y="1363.7" font-size="39" text-anchor="end">200</text>
<rect x="1993" y="1252.4" width="9" height="3.8" fill="#000"/>
<text x="1989" y="1268.3" font-size="39" text-anchor="end">300</text>
<rect x="1993" y="1157" width="9" height="3.8" fill="#000"/>
<text x="1989" y="1172.9" font-size="39" text-anchor="end">400</text>
<rect x="2014.3" y="1224" width="41.4" height="316.5" fill="#D7D7D7"/>
<rect x="2033.2" y="1214.4" width="3.6" height="11.5" fill="#D0D0D0"/>
<rect x="2025" y="1212.6" width="20" height="3.6" fill="#D0D0D0"/>
<rect x="2033.1" y="1540.5" width="3.8" height="9.5" fill="#000"/>
<rect x="2078.2" y="1250.2" width="41.4" height="290.3" fill="#A5A4A9"/>
<rect x="2097.1" y="1240.2" width="3.6" height="12" fill="#000"/>
<rect x="2088.9" y="1238.4" width="20" height="3.6" fill="#000"/>
<rect x="2097" y="1540.5" width="3.8" height="9.5" fill="#000"/>
<rect x="2141.3" y="1348.3" width="41.4" height="192.2" fill="#808080"/>
<rect x="2160.2" y="1328.2" width="3.6" height="22" fill="#808080"/>
<rect x="2152" y="1326.4" width="20" height="3.6" fill="#808080"/>
<rect x="2160.1" y="1540.5" width="3.8" height="9.5" fill="#000"/>
<rect x="2204.8" y="1449.2" width="41.4" height="91.3" fill="#616161"/>
<rect x="2223.7" y="1438" width="3.6" height="13.2" fill="#666"/>
<rect x="2215.5" y="1436.2" width="20" height="3.6" fill="#666"/>
<rect x="2223.6" y="1540.5" width="3.8" height="9.5" fill="#000"/>
<text x="2048.2" y="1581.8" font-size="36" text-anchor="end" transform="rotate(-45 2048.2 1581.8)">C</text>
<text x="2108.7" y="1580" font-size="36" text-anchor="end" transform="rotate(-45 2108.7 1580)">1</text>
<text x="2175.6" y="1581.7" font-size="36" text-anchor="end" transform="rotate(-45 2175.6 1581.7)">100</text>
<text x="2240" y="1581.5" font-size="36" text-anchor="end" transform="rotate(-45 2240 1581.5)">250</text>
<text x="2164.3" y="1330" font-size="34" text-anchor="middle">*</text>
<text x="2227" y="1440" font-size="34" text-anchor="middle">**</text>
<text x="2129.6" y="1681" font-size="39.5" text-anchor="middle">PA (μM)</text>
<text x="1903" y="1340" font-size="43.3" text-anchor="middle" transform="rotate(-90 1903 1340)">Colony Number</text>
<rect x="261.5" y="1010" width="5.5" height="582" fill="#000"/>
<rect x="247.4" y="1586.5" width="844.2" height="5.5" fill="#000"/>
<rect x="247" y="1586.5" width="17" height="5.5" fill="#000"/>
<text x="242" y="1606" font-size="47.5" text-anchor="end">0.0</text>
<rect x="247" y="1490.2" width="17" height="5.5" fill="#000"/>
<text x="242" y="1509.8" font-size="47.5" text-anchor="end">0.2</text>
<rect x="247" y="1394" width="17" height="5.5" fill="#000"/>
<text x="242" y="1413.6" font-size="47.5" text-anchor="end">0.4</text>
<rect x="247" y="1297.9" width="17" height="5.5" fill="#000"/>
<text x="242" y="1317.4" font-size="47.5" text-anchor="end">0.6</text>
<rect x="247" y="1201.7" width="17" height="5.5" fill="#000"/>
<text x="242" y="1221.2" font-size="47.5" text-anchor="end">0.8</text>
<rect x="247" y="1105.5" width="17" height="5.5" fill="#000"/>
<text x="242" y="1125" font-size="47.5" text-anchor="end">1.0</text>
<rect x="247" y="1009.3" width="17" height="5.5" fill="#000"/>
<text x="242" y="1028.8" font-size="47.5" text-anchor="end">1.2</text>
<rect x="344.2" y="1589" width="5.5" height="17.5" fill="#000"/>
<text x="347" y="1655.5" font-size="47.5" text-anchor="middle">C</text>
<rect x="509.5" y="1589" width="5.5" height="17.5" fill="#000"/>
<text x="512.2" y="1655.5" font-size="47.5" text-anchor="middle">1</text>
<rect x="674.8" y="1589" width="5.5" height="17.5" fill="#000"/>
<text x="677.5" y="1655.5" font-size="47.5" text-anchor="middle">100</text>
<rect x="840" y="1589" width="5.5" height="17.5" fill="#000"/>
<text x="842.8" y="1655.5" font-size="47.5" text-anchor="middle">250</text>
<rect x="1005.2" y="1589" width="5.5" height="17.5" fill="#000"/>
<text x="1008" y="1655.5" font-size="47.5" text-anchor="middle">500</text>
<text x="676" y="1724" font-size="47.5" text-anchor="middle">PA (μM)</text>
<text x="145.7" y="1289" font-size="48.2" text-anchor="middle" transform="rotate(-90 145.7 1289)">Relative Growth Inhibition</text>
<polyline points="347,1108.2 512.2,1101.9 677.5,1119.3 842.8,1134.7 1008,1201.5" fill="none" stroke="#FF3030" stroke-width="3"/>
<circle cx="347" cy="1108.2" r="10" fill="none" stroke="#FF3030" stroke-width="3.5"/>
<line x1="340" y1="1101.2" x2="354" y2="1115.2" stroke="#FF3030" stroke-width="3"/>
<line x1="340" y1="1115.2" x2="354" y2="1101.2" stroke="#FF3030" stroke-width="3"/>
<circle cx="512.2" cy="1101.9" r="10" fill="none" stroke="#FF3030" stroke-width="3.5"/>
<line x1="505.2" y1="1094.9" x2="519.2" y2="1108.9" stroke="#FF3030" stroke-width="3"/>
<line x1="505.2" y1="1108.9" x2="519.2" y2="1094.9" stroke="#FF3030" stroke-width="3"/>
<circle cx="677.5" cy="1119.3" r="10" fill="none" stroke="#FF3030" stroke-width="3.5"/>
<line x1="670.5" y1="1112.3" x2="684.5" y2="1126.3" stroke="#FF3030" stroke-width="3"/>
<line x1="670.5" y1="1126.3" x2="684.5" y2="1112.3" stroke="#FF3030" stroke-width="3"/>
<circle cx="842.8" cy="1134.7" r="10" fill="none" stroke="#FF3030" stroke-width="3.5"/>
<line x1="835.8" y1="1127.7" x2="849.8" y2="1141.7" stroke="#FF3030" stroke-width="3"/>
<line x1="835.8" y1="1141.7" x2="849.8" y2="1127.7" stroke="#FF3030" stroke-width="3"/>
<circle cx="1008" cy="1201.5" r="10" fill="none" stroke="#FF3030" stroke-width="3.5"/>
<line x1="1001" y1="1194.5" x2="1015" y2="1208.5" stroke="#FF3030" stroke-width="3"/>
<line x1="1001" y1="1208.5" x2="1015" y2="1194.5" stroke="#FF3030" stroke-width="3"/>
<polyline points="347,1108.2 512.2,1097.1 677.5,1125 842.8,1160.6 1008,1165.9" fill="none" stroke="#FF9090" stroke-width="3"/>
<polygon points="347,1119.7 358.5,1097.9 335.5,1097.9" fill="none" stroke="#FF9090" stroke-width="3.2"/>
<polygon points="512.2,1108.6 523.8,1086.8 500.8,1086.8" fill="none" stroke="#FF9090" stroke-width="3.2"/>
<polygon points="677.5,1136.5 689,1114.7 666,1114.7" fill="none" stroke="#FF9090" stroke-width="3.2"/>
<polygon points="842.8,1172.1 854.2,1150.3 831.2,1150.3" fill="none" stroke="#FF9090" stroke-width="3.2"/>
<polygon points="1008,1177.4 1019.5,1155.6 996.5,1155.6" fill="none" stroke="#FF9090" stroke-width="3.2"/>
<polyline points="347,1108.2 512.2,1098.6 677.5,1115.9 842.8,1128.4 1008,1164" fill="none" stroke="#FFC080" stroke-width="3"/>
<rect x="336" y="1097.2" width="22" height="22" fill="none" stroke="#FFC080" stroke-width="3.5"/>
<circle cx="347" cy="1108.2" r="3" fill="#FFC080"/>
<rect x="501.2" y="1087.6" width="22" height="22" fill="none" stroke="#FFC080" stroke-width="3.5"/>
<circle cx="512.2" cy="1098.6" r="3" fill="#FFC080"/>
<rect x="666.5" y="1104.9" width="22" height="22" fill="none" stroke="#FFC080" stroke-width="3.5"/>
<circle cx="677.5" cy="1115.9" r="3" fill="#FFC080"/>
<rect x="831.8" y="1117.4" width="22" height="22" fill="none" stroke="#FFC080" stroke-width="3.5"/>
<circle cx="842.8" cy="1128.4" r="3" fill="#FFC080"/>
<rect x="997" y="1153" width="22" height="22" fill="none" stroke="#FFC080" stroke-width="3.5"/>
<circle cx="1008" cy="1164" r="3" fill="#FFC080"/>
<polyline points="347,1108.2 512.2,1071.6 677.5,1121.2 842.8,1135.1 1008,1165" fill="none" stroke="#FF6E9E" stroke-width="3"/>
<polygon points="347,1096.7 358.5,1118.5 335.5,1118.5" fill="none" stroke="#FF6E9E" stroke-width="3.2"/>
<polygon points="512.2,1060.1 523.8,1082 500.8,1082" fill="none" stroke="#FF6E9E" stroke-width="3.2"/>
<polygon points="677.5,1109.7 689,1131.5 666,1131.5" fill="none" stroke="#FF6E9E" stroke-width="3.2"/>
<polygon points="842.8,1123.6 854.2,1145.5 831.2,1145.5" fill="none" stroke="#FF6E9E" stroke-width="3.2"/>
<polygon points="1008,1153.5 1019.5,1175.3 996.5,1175.3" fill="none" stroke="#FF6E9E" stroke-width="3.2"/>
<polyline points="347,1108.2 512.2,1135.6 677.5,1130.8 842.8,1141.9 1008,1159.2" fill="none" stroke="#FF50E0" stroke-width="3"/>
<circle cx="347" cy="1108.2" r="10" fill="none" stroke="#FF50E0" stroke-width="3.5"/>
<circle cx="347" cy="1108.2" r="3" fill="#FF50E0"/>
<circle cx="512.2" cy="1135.6" r="10" fill="none" stroke="#FF50E0" stroke-width="3.5"/>
<circle cx="512.2" cy="1135.6" r="3" fill="#FF50E0"/>
<circle cx="677.5" cy="1130.8" r="10" fill="none" stroke="#FF50E0" stroke-width="3.5"/>
<circle cx="677.5" cy="1130.8" r="3" fill="#FF50E0"/>
<circle cx="842.8" cy="1141.9" r="10" fill="none" stroke="#FF50E0" stroke-width="3.5"/>
<circle cx="842.8" cy="1141.9" r="3" fill="#FF50E0"/>
<circle cx="1008" cy="1159.2" r="10" fill="none" stroke="#FF50E0" stroke-width="3.5"/>
<circle cx="1008" cy="1159.2" r="3" fill="#FF50E0"/>
<polyline points="347,1108.2 512.2,1129.8 677.5,1114 842.8,1161.6 1008,1222.7" fill="none" stroke="#8000A0" stroke-width="3"/>
<rect x="336" y="1097.2" width="22" height="22" fill="none" stroke="#8000A0" stroke-width="3.5"/>
<rect x="501.2" y="1118.8" width="22" height="22" fill="none" stroke="#8000A0" stroke-width="3.5"/>
<rect x="666.5" y="1103" width="22" height="22" fill="none" stroke="#8000A0" stroke-width="3.5"/>
<rect x="831.8" y="1150.6" width="22" height="22" fill="none" stroke="#8000A0" stroke-width="3.5"/>
<rect x="997" y="1211.7" width="22" height="22" fill="none" stroke="#8000A0" stroke-width="3.5"/>
<polyline points="347,1108.2 512.2,1093.8 677.5,1109.2 842.8,1097.1 1008,1113" fill="none" stroke="#1010F0" stroke-width="3"/>
<line x1="337" y1="1098.2" x2="357" y2="1118.2" stroke="#1010F0" stroke-width="3.5"/>
<line x1="337" y1="1118.2" x2="357" y2="1098.2" stroke="#1010F0" stroke-width="3.5"/>
<line x1="502.2" y1="1083.8" x2="522.2" y2="1103.8" stroke="#1010F0" stroke-width="3.5"/>
<line x1="502.2" y1="1103.8" x2="522.2" y2="1083.8" stroke="#1010F0" stroke-width="3.5"/>
<line x1="667.5" y1="1099.2" x2="687.5" y2="1119.2" stroke="#1010F0" stroke-width="3.5"/>
<line x1="667.5" y1="1119.2" x2="687.5" y2="1099.2" stroke="#1010F0" stroke-width="3.5"/>
<line x1="832.8" y1="1087.1" x2="852.8" y2="1107.1" stroke="#1010F0" stroke-width="3.5"/>
<line x1="832.8" y1="1107.1" x2="852.8" y2="1087.1" stroke="#1010F0" stroke-width="3.5"/>
<line x1="998" y1="1103" x2="1018" y2="1123" stroke="#1010F0" stroke-width="3.5"/>
<line x1="998" y1="1123" x2="1018" y2="1103" stroke="#1010F0" stroke-width="3.5"/>
<polyline points="347,1108.2 512.2,1115.9 677.5,1108.2 842.8,1118.8 1008,1109.6" fill="none" stroke="#000080" stroke-width="3"/>
<circle cx="347" cy="1108.2" r="10" fill="none" stroke="#000080" stroke-width="3.5"/>
<circle cx="512.2" cy="1115.9" r="10" fill="none" stroke="#000080" stroke-width="3.5"/>
<circle cx="677.5" cy="1108.2" r="10" fill="none" stroke="#000080" stroke-width="3.5"/>
<circle cx="842.8" cy="1118.8" r="10" fill="none" stroke="#000080" stroke-width="3.5"/>
<circle cx="1008" cy="1109.6" r="10" fill="none" stroke="#000080" stroke-width="3.5"/>
<polyline points="347,1108.2 512.2,1108.2 677.5,1114 842.8,1160.1 1008,1238.6" fill="none" stroke="#1A84A0" stroke-width="3"/>
<line x1="336" y1="1108.2" x2="358" y2="1108.2" stroke="#1A84A0" stroke-width="3"/>
<line x1="347" y1="1097.2" x2="347" y2="1119.2" stroke="#1A84A0" stroke-width="3"/>
<line x1="501.2" y1="1108.2" x2="523.2" y2="1108.2" stroke="#1A84A0" stroke-width="3"/>
<line x1="512.2" y1="1097.2" x2="512.2" y2="1119.2" stroke="#1A84A0" stroke-width="3"/>
<line x1="666.5" y1="1114" x2="688.5" y2="1114" stroke="#1A84A0" stroke-width="3"/>
<line x1="677.5" y1="1103" x2="677.5" y2="1125" stroke="#1A84A0" stroke-width="3"/>
<line x1="831.8" y1="1160.1" x2="853.8" y2="1160.1" stroke="#1A84A0" stroke-width="3"/>
<line x1="842.8" y1="1149.1" x2="842.8" y2="1171.1" stroke="#1A84A0" stroke-width="3"/>
<line x1="997" y1="1238.6" x2="1019" y2="1238.6" stroke="#1A84A0" stroke-width="3"/>
<line x1="1008" y1="1227.6" x2="1008" y2="1249.6" stroke="#1A84A0" stroke-width="3"/>
<polyline points="347,1108.2 512.2,1127 677.5,1127 842.8,1163 1008,1334" fill="none" stroke="#1EC01E" stroke-width="3"/>
<polygon points="347,1095.7 359.5,1108.2 347,1120.7 334.5,1108.2" fill="#1EC01E"/>
<polygon points="512.2,1114.5 524.8,1127 512.2,1139.5 499.8,1127" fill="#1EC01E"/>
<polygon points="677.5,1114.5 690,1127 677.5,1139.5 665,1127" fill="#1EC01E"/>
<polygon points="842.8,1150.5 855.2,1163 842.8,1175.5 830.2,1163" fill="#1EC01E"/>
<polygon points="1008,1321.5 1020.5,1334 1008,1346.5 995.5,1334" fill="#1EC01E"/>
<polyline points="347,1108.2 512.2,1103.9 677.5,1172.2 842.8,1385 1008,1435" fill="none" stroke="#0B6B4B" stroke-width="3"/>
<polygon points="347,1096.7 349.8,1104.3 357.9,1104.6 351.6,1109.7 353.8,1117.5 347,1113 340.2,1117.5 342.4,1109.7 336.1,1104.6 344.2,1104.3" fill="#0B6B4B"/>
<polygon points="512.2,1092.4 515.1,1100 523.2,1100.3 516.8,1105.4 519,1113.2 512.2,1108.7 505.5,1113.2 507.7,1105.4 501.3,1100.3 509.4,1100" fill="#0B6B4B"/>
<polygon points="677.5,1160.7 680.3,1168.3 688.4,1168.6 682.1,1173.7 684.3,1181.5 677.5,1177 670.7,1181.5 672.9,1173.7 666.6,1168.6 674.7,1168.3" fill="#0B6B4B"/>
<polygon points="842.8,1373.5 845.6,1381.1 853.7,1381.5 847.3,1386.5 849.5,1394.3 842.8,1389.8 836,1394.3 838.2,1386.5 831.8,1381.5 839.9,1381.1" fill="#0B6B4B"/>
<polygon points="1008,1423.5 1010.8,1431.1 1018.9,1431.4 1012.6,1436.5 1014.8,1444.3 1008,1439.8 1001.2,1444.3 1003.4,1436.5 997.1,1431.4 1005.2,1431.1" fill="#0B6B4B"/>
<polyline points="347,1108.2 512.2,1091.8 677.5,1075 842.8,1092.8 1008,1217.4" fill="none" stroke="#808000" stroke-width="3"/>
<polygon points="347,1120.2 359,1096.8 335,1096.8" fill="#808000"/>
<polygon points="512.2,1103.8 524.2,1080.4 500.2,1080.4" fill="#808000"/>
<polygon points="677.5,1087 689.5,1063.6 665.5,1063.6" fill="#808000"/>
<polygon points="842.8,1104.8 854.8,1081.4 830.8,1081.4" fill="#808000"/>
<polygon points="1008,1229.4 1020,1206 996,1206" fill="#808000"/>
<polyline points="347,1108.2 512.2,1089.4 677.5,1133.2 842.8,1166.9 1008,1223.6" fill="none" stroke="#FF6A13" stroke-width="3"/>
<line x1="347" y1="1097.2" x2="347" y2="1119.2" stroke="#FF6A13" stroke-width="3.5"/>
<line x1="356.5" y1="1102.7" x2="337.5" y2="1113.7" stroke="#FF6A13" stroke-width="3.5"/>
<line x1="356.5" y1="1113.7" x2="337.5" y2="1102.7" stroke="#FF6A13" stroke-width="3.5"/>
<line x1="512.2" y1="1078.4" x2="512.2" y2="1100.4" stroke="#FF6A13" stroke-width="3.5"/>
<line x1="521.8" y1="1083.9" x2="502.7" y2="1094.9" stroke="#FF6A13" stroke-width="3.5"/>
<line x1="521.8" y1="1094.9" x2="502.7" y2="1083.9" stroke="#FF6A13" stroke-width="3.5"/>
<line x1="677.5" y1="1122.2" x2="677.5" y2="1144.2" stroke="#FF6A13" stroke-width="3.5"/>
<line x1="687" y1="1127.7" x2="668" y2="1138.7" stroke="#FF6A13" stroke-width="3.5"/>
<line x1="687" y1="1138.7" x2="668" y2="1127.7" stroke="#FF6A13" stroke-width="3.5"/>
<line x1="842.8" y1="1155.9" x2="842.8" y2="1177.9" stroke="#FF6A13" stroke-width="3.5"/>
<line x1="852.3" y1="1161.4" x2="833.2" y2="1172.4" stroke="#FF6A13" stroke-width="3.5"/>
<line x1="852.3" y1="1172.4" x2="833.2" y2="1161.4" stroke="#FF6A13" stroke-width="3.5"/>
<line x1="1008" y1="1212.6" x2="1008" y2="1234.6" stroke="#FF6A13" stroke-width="3.5"/>
<line x1="1017.5" y1="1218.1" x2="998.5" y2="1229.1" stroke="#FF6A13" stroke-width="3.5"/>
<line x1="1017.5" y1="1229.1" x2="998.5" y2="1218.1" stroke="#FF6A13" stroke-width="3.5"/>
<polyline points="347,1108.2 512.2,1209.2 677.5,1177 842.8,1199.6 1008,1182.8" fill="none" stroke="#C00000" stroke-width="3"/>
<polygon points="347,1096.2 359,1119.6 335,1119.6" fill="#C00000"/>
<polygon points="512.2,1197.2 524.2,1220.6 500.2,1220.6" fill="#C00000"/>
<polygon points="677.5,1165 689.5,1188.4 665.5,1188.4" fill="#C00000"/>
<polygon points="842.8,1187.6 854.8,1211 830.8,1211" fill="#C00000"/>
<polygon points="1008,1170.8 1020,1194.2 996,1194.2" fill="#C00000"/>
<polyline points="347,1108.2 512.2,1082.2 677.5,1068.8 842.8,1099.5 1008,1185.2" fill="none" stroke="#A0642A" stroke-width="3"/>
<polygon points="347,1095.7 358,1108.2 347,1120.7 336,1108.2" fill="none" stroke="#A0642A" stroke-width="3.2"/>
<polygon points="512.2,1069.7 523.2,1082.2 512.2,1094.7 501.2,1082.2" fill="none" stroke="#A0642A" stroke-width="3.2"/>
<polygon points="677.5,1056.3 688.5,1068.8 677.5,1081.3 666.5,1068.8" fill="none" stroke="#A0642A" stroke-width="3.2"/>
<polygon points="842.8,1087 853.8,1099.5 842.8,1112 831.8,1099.5" fill="none" stroke="#A0642A" stroke-width="3.2"/>
<polygon points="1008,1172.7 1019,1185.2 1008,1197.7 997,1185.2" fill="none" stroke="#A0642A" stroke-width="3.2"/>
<polyline points="347,1108.2 512.2,1108.2 677.5,1044.7 842.8,1118.3 1008,1364.1" fill="none" stroke="#666666" stroke-width="3"/>
<rect x="335.5" y="1096.7" width="23" height="23" fill="#666666"/>
<rect x="500.8" y="1096.7" width="23" height="23" fill="#666666"/>
<rect x="666" y="1033.2" width="23" height="23" fill="#666666"/>
<rect x="831.2" y="1106.8" width="23" height="23" fill="#666666"/>
<rect x="996.5" y="1352.6" width="23" height="23" fill="#666666"/>
<polyline points="347,1108.2 512.2,1164.7 677.5,1147.6 842.8,1188 1008,1274.6" fill="none" stroke="#000000" stroke-width="3"/>
<circle cx="347" cy="1108.2" r="11" fill="#000000"/>
<circle cx="512.2" cy="1164.7" r="11" fill="#000000"/>
<circle cx="677.5" cy="1147.6" r="11" fill="#000000"/>
<circle cx="842.8" cy="1188" r="11" fill="#000000"/>
<circle cx="1008" cy="1274.6" r="11" fill="#000000"/>
<line x1="298" y1="1262.7" x2="338.2" y2="1262.7" stroke="#000000" stroke-width="3.5"/>
<circle cx="318.1" cy="1262.7" r="11" fill="#000000"/>
<text x="361" y="1275.8" font-size="37">EC1</text>
<line x1="298" y1="1315.6" x2="338.2" y2="1315.6" stroke="#666666" stroke-width="3.5"/>
<rect x="306.6" y="1304.1" width="23" height="23" fill="#666666"/>
<text x="361" y="1328" font-size="37">EC2</text>
<line x1="298" y1="1364.7" x2="338.2" y2="1364.7" stroke="#A0642A" stroke-width="3.5"/>
<polygon points="318.1,1352.2 329.1,1364.7 318.1,1377.2 307.1,1364.7" fill="none" stroke="#A0642A" stroke-width="3.2"/>
<text x="361" y="1377" font-size="37">EC3</text>
<line x1="298" y1="1411.4" x2="338.2" y2="1411.4" stroke="#C00000" stroke-width="3.5"/>
<polygon points="318.1,1399.4 330.1,1422.8 306.1,1422.8" fill="#C00000"/>
<text x="361" y="1424.5" font-size="37">EC4</text>
<line x1="298" y1="1458.8" x2="338.2" y2="1458.8" stroke="#FF6A13" stroke-width="3.5"/>
<line x1="318.1" y1="1447.8" x2="318.1" y2="1469.8" stroke="#FF6A13" stroke-width="3.5"/>
<line x1="327.6" y1="1453.3" x2="308.6" y2="1464.3" stroke="#FF6A13" stroke-width="3.5"/>
<line x1="327.6" y1="1464.3" x2="308.6" y2="1453.3" stroke="#FF6A13" stroke-width="3.5"/>
<text x="361" y="1472" font-size="37">EC5</text>
<line x1="298" y1="1503" x2="338.2" y2="1503" stroke="#808000" stroke-width="3.5"/>
<polygon points="318.1,1515 330.1,1491.6 306.1,1491.6" fill="#808000"/>
<text x="361" y="1517" font-size="37">EC6</text>
<line x1="299.6" y1="1545.5" x2="340.5" y2="1545.5" stroke="#0B6B4B" stroke-width="3.5"/>
<polygon points="320.1,1534 322.9,1541.6 331,1541.9 324.6,1547 326.8,1554.8 320.1,1550.3 313.3,1554.8 315.5,1547 309.1,1541.9 317.2,1541.6" fill="#0B6B4B"/>
<text x="363" y="1558.5" font-size="37">EC7</text>
<line x1="459.8" y1="1262.7" x2="501.3" y2="1262.7" stroke="#1EC01E" stroke-width="3.5"/>
<polygon points="480.6,1250.2 493.1,1262.7 480.6,1275.2 468.1,1262.7" fill="#1EC01E"/>
<text x="523.5" y="1275" font-size="37">EC8</text>
<line x1="459.8" y1="1305.8" x2="501.3" y2="1305.8" stroke="#1A84A0" stroke-width="3.5"/>
<line x1="469.6" y1="1305.8" x2="491.6" y2="1305.8" stroke="#1A84A0" stroke-width="3"/>
<line x1="480.6" y1="1294.8" x2="480.6" y2="1316.8" stroke="#1A84A0" stroke-width="3"/>
<text x="523.5" y="1318.3" font-size="37">EC9</text>
<line x1="463" y1="1357.5" x2="504" y2="1357.5" stroke="#000080" stroke-width="3.5"/>
<circle cx="483.5" cy="1357.5" r="10" fill="none" stroke="#000080" stroke-width="3.5"/>
<text x="526.5" y="1370" font-size="37">EC10</text>
<line x1="463" y1="1408" x2="504" y2="1408" stroke="#1010F0" stroke-width="3.5"/>
<line x1="473.5" y1="1398" x2="493.5" y2="1418" stroke="#1010F0" stroke-width="3.5"/>
<line x1="473.5" y1="1418" x2="493.5" y2="1398" stroke="#1010F0" stroke-width="3.5"/>
<text x="526.5" y="1420" font-size="37">EC11</text>
<line x1="463" y1="1454" x2="504" y2="1454" stroke="#8000A0" stroke-width="3.5"/>
<rect x="472.5" y="1443" width="22" height="22" fill="none" stroke="#8000A0" stroke-width="3.5"/>
<text x="526.5" y="1466" font-size="37">EC12</text>
<line x1="463" y1="1502" x2="504" y2="1502" stroke="#FF50E0" stroke-width="3.5"/>
<circle cx="483.5" cy="1502" r="10" fill="none" stroke="#FF50E0" stroke-width="3.5"/>
<circle cx="483.5" cy="1502" r="3" fill="#FF50E0"/>
<text x="526.5" y="1513.7" font-size="37">EC13</text>
<line x1="463" y1="1546.4" x2="504" y2="1546.4" stroke="#FF6E9E" stroke-width="3.5"/>
<polygon points="483.5,1534.9 495,1556.8 472,1556.8" fill="none" stroke="#FF6E9E" stroke-width="3.2"/>
<text x="526.5" y="1558.5" font-size="37">EC14</text>
<line x1="645.5" y1="1454" x2="686" y2="1454" stroke="#FFC080" stroke-width="3.5"/>
<rect x="654.7" y="1443" width="22" height="22" fill="none" stroke="#FFC080" stroke-width="3.5"/>
<circle cx="665.7" cy="1454" r="3" fill="#FFC080"/>
<text x="709" y="1466" font-size="37">EC15</text>
<line x1="645.5" y1="1502" x2="686" y2="1502" stroke="#FF9090" stroke-width="3.5"/>
<polygon points="665.7,1513.5 677.2,1491.7 654.2,1491.7" fill="none" stroke="#FF9090" stroke-width="3.2"/>
<text x="709" y="1513.7" font-size="37">EC16</text>
<line x1="645.5" y1="1547" x2="686" y2="1547" stroke="#FF3030" stroke-width="3.5"/>
<circle cx="665.7" cy="1547" r="10" fill="none" stroke="#FF3030" stroke-width="3.5"/>
<line x1="658.7" y1="1540" x2="672.7" y2="1554" stroke="#FF3030" stroke-width="3"/>
<line x1="658.7" y1="1554" x2="672.7" y2="1540" stroke="#FF3030" stroke-width="3"/>
<text x="709" y="1558.5" font-size="37">EC17</text>
<defs><filter id="bl3" x="-20%" y="-50%" width="140%" height="200%"><feGaussianBlur stdDeviation="3"/></filter><filter id="bl4" x="-20%" y="-80%" width="140%" height="260%"><feGaussianBlur stdDeviation="4"/></filter><filter id="bl5" x="-20%" y="-80%" width="140%" height="260%"><feGaussianBlur stdDeviation="5"/></filter><filter id="bl8" x="-20%" y="-80%" width="140%" height="260%"><feGaussianBlur stdDeviation="8"/></filter></defs>
<text x="331.8" y="1945.4" font-size="60.5">Ishikawa</text>
<text transform="translate(1031.3 1945.4) scale(1 1.055)" font-size="60.8">ECC-1</text>
<text x="193.6" y="2032.3" font-size="48.5">PA</text>
<text x="287.1" y="2032.3" font-size="48.5">C</text>
<text x="376.1" y="2032.3" font-size="48.5">1</text>
<text x="429.1" y="2032.3" font-size="48.5">100</text>
<text x="523.5" y="2032.3" font-size="48.5">250</text>
<text x="920.5" y="2032.6" font-size="48.5">C</text>
<text x="1008.8" y="2032.6" font-size="48.5">1</text>
<text x="1062.1" y="2032.6" font-size="48.5">100</text>
<text x="1157" y="2032.6" font-size="48.5">250</text>
<text x="1249.3" y="2032.6" font-size="48.5">(uM)</text>
<text transform="translate(694.2 2107.9) scale(1 1.090)" font-size="48.2">p-AKT</text>
<text transform="translate(668.9 2230.2) scale(1 1.064)" font-size="48.3">Pan-AKT</text>
<text x="710.5" y="2339.4" font-size="48.3">p-S6</text>
<text transform="translate(682.9 2445.2) scale(1 1.185)" font-size="48.4">Pan-S6</text>
<text x="715.5" y="2561.9" font-size="47.9">P38</text>
<text x="672.4" y="2659" font-size="47">p-4E-BP1</text>
<text x="684.3" y="2762.1" font-size="47.9">p-42/44</text>
<text transform="translate(641.6 2873.9) scale(1 1.185)" font-size="48.1">Pan-42/44</text>
<text x="651.4" y="2948.2" font-size="48.5">α-tubulin</text>
<clipPath id="wb1"><rect x="268" y="2062.8" width="351.5" height="79.1"/></clipPath>
<g clip-path="url(#wb1)">
<rect x="268" y="2062.8" width="351.5" height="79.1" fill="#F8F8F8"/>
<rect x="282" y="2091.9" width="72" height="16.2" rx="8.1" fill="#5f5f5f" filter="url(#bl4)" transform="rotate(0 318 2100)"/>
<rect x="268" y="2097.4" width="24" height="11.2" rx="5.6" fill="#6e6e6e" filter="url(#bl4)" transform="rotate(-22.6 280 2103)"/>
<rect x="366.4" y="2092.4" width="76.3" height="16.2" rx="8.1" fill="#646464" filter="url(#bl4)" transform="rotate(0 404.5 2100.5)"/>
<rect x="457.5" y="2093.5" width="76.3" height="15" rx="7.5" fill="#696969" filter="url(#bl4)" transform="rotate(0 495.6 2101)"/>
<rect x="540" y="2091.9" width="76.4" height="16.2" rx="8.1" fill="#646464" filter="url(#bl4)" transform="rotate(0 578.2 2100)"/>
</g>
<rect x="265.8" y="2060.6" width="356" height="83.6" fill="none" stroke="#000" stroke-width="4.5"/>
<clipPath id="wb2"><rect x="268" y="2167.9" width="351.5" height="81.2"/></clipPath>
<g clip-path="url(#wb2)">
<rect x="268" y="2167.9" width="351.5" height="81.2" fill="#F8F8F8"/>
<rect x="296" y="2195.9" width="70.4" height="16.2" rx="8.1" fill="#696969" filter="url(#bl4)" transform="rotate(0 331.2 2204)"/>
<rect x="284" y="2204.4" width="18" height="11.2" rx="5.6" fill="#828282" filter="url(#bl4)" transform="rotate(-37.9 293 2210)"/>
<rect x="375" y="2197.2" width="76" height="17.5" rx="8.8" fill="#5f5f5f" filter="url(#bl4)" transform="rotate(0 413 2206)"/>
<rect x="459.6" y="2198.2" width="76.4" height="17.5" rx="8.8" fill="#5f5f5f" filter="url(#bl4)" transform="rotate(0 497.8 2207)"/>
<rect x="540" y="2197.2" width="74.3" height="17.5" rx="8.8" fill="#5f5f5f" filter="url(#bl4)" transform="rotate(0 577.1 2206)"/>
</g>
<rect x="265.8" y="2165.7" width="356" height="85.7" fill="none" stroke="#000" stroke-width="4.5"/>
<clipPath id="wb3"><rect x="268" y="2275.9" width="351.5" height="78.6"/></clipPath>
<g clip-path="url(#wb3)">
<rect x="268" y="2275.9" width="351.5" height="78.6" fill="#F3F3F3"/>
<rect x="273" y="2302.6" width="80.7" height="18.8" rx="9.4" fill="#282828" filter="url(#bl4)" transform="rotate(0 313.4 2312)"/>
<rect x="362" y="2303.2" width="63.7" height="17.5" rx="8.8" fill="#3c3c3c" filter="url(#bl4)" transform="rotate(0 393.9 2312)"/>
<rect x="451" y="2305.5" width="68" height="15" rx="7.5" fill="#646464" filter="url(#bl4)" transform="rotate(0 485 2313)"/>
<rect x="531.7" y="2302.9" width="80.3" height="16.2" rx="8.1" fill="#555555" filter="url(#bl4)" transform="rotate(0 571.9 2311)"/>
</g>
<rect x="265.8" y="2273.7" width="356" height="83.1" fill="none" stroke="#000" stroke-width="4.5"/>
<clipPath id="wb4"><rect x="268" y="2384.8" width="353.5" height="79.2"/></clipPath>
<g clip-path="url(#wb4)">
<rect x="268" y="2384.8" width="353.5" height="79.2" fill="#F8F8F8"/>
<rect x="283.8" y="2415" width="72" height="20" rx="10" fill="#141414" filter="url(#bl4)" transform="rotate(0 319.8 2425)"/>
<rect x="372.8" y="2414.4" width="69.9" height="21.2" rx="10" fill="#0a0a0a" filter="url(#bl4)" transform="rotate(0 407.8 2425)"/>
<rect x="447" y="2415.4" width="72" height="21.2" rx="10" fill="#141414" filter="url(#bl4)" transform="rotate(0 483 2426)"/>
<rect x="505" y="2425.4" width="23" height="11.2" rx="5.6" fill="#5a5a5a" filter="url(#bl4)" transform="rotate(0 516.5 2431)"/>
<rect x="538" y="2419" width="65.7" height="20" rx="10" fill="#232323" filter="url(#bl4)" transform="rotate(0 570.9 2429)"/>
</g>
<rect x="265.8" y="2382.6" width="358" height="83.7" fill="none" stroke="#000" stroke-width="4.5"/>
<clipPath id="wb5"><rect x="268" y="2495" width="351.5" height="74.1"/></clipPath>
<g clip-path="url(#wb5)">
<rect x="268" y="2495" width="351.5" height="74.1" fill="#F8F8F8"/>
<rect x="281.7" y="2520.1" width="76.3" height="23.8" rx="10" fill="#050505" filter="url(#bl4)" transform="rotate(0 319.9 2532)"/>
<rect x="372.8" y="2523" width="63.5" height="20" rx="10" fill="#141414" filter="url(#bl4)" transform="rotate(0 404.6 2533)"/>
<rect x="455.4" y="2523" width="63.6" height="20" rx="10" fill="#191919" filter="url(#bl4)" transform="rotate(0 487.2 2533)"/>
<rect x="533.8" y="2528.1" width="72" height="13.8" rx="6.9" fill="#6e6e6e" filter="url(#bl4)" transform="rotate(0 569.8 2535)"/>
</g>
<rect x="265.8" y="2492.8" width="356" height="78.6" fill="none" stroke="#000" stroke-width="4.5"/>
<clipPath id="wb6"><rect x="268" y="2594.5" width="351.5" height="71.6"/></clipPath>
<g clip-path="url(#wb6)">
<rect x="268" y="2594.5" width="351.5" height="71.6" fill="#F8F8F8"/>
<rect x="279.6" y="2617.6" width="78.4" height="18.8" rx="9.4" fill="#2d2d2d" filter="url(#bl4)" transform="rotate(0 318.8 2627)"/>
<rect x="377" y="2618" width="72" height="20" rx="10" fill="#232323" filter="url(#bl4)" transform="rotate(0 413 2628)"/>
<rect x="457.5" y="2618.5" width="76.3" height="20" rx="10" fill="#2d2d2d" filter="url(#bl4)" transform="rotate(0 495.6 2628.5)"/>
<rect x="542.3" y="2619.2" width="65.7" height="17.5" rx="8.8" fill="#8c8c8c" filter="url(#bl4)" transform="rotate(0 575.1 2628)"/>
</g>
<rect x="265.8" y="2592.2" width="356" height="76.1" fill="none" stroke="#000" stroke-width="4.5"/>
<clipPath id="wb7"><rect x="268" y="2703.9" width="351.5" height="71.6"/></clipPath>
<g clip-path="url(#wb7)">
<rect x="268" y="2703.9" width="351.5" height="71.6" fill="#F8F8F8"/>
<rect x="292" y="2720.8" width="74.4" height="12.5" rx="6.2" fill="#373737" filter="url(#bl4)" transform="rotate(12.1 329.2 2727)"/>
<rect x="292" y="2741.8" width="74.4" height="12.5" rx="6.2" fill="#3c3c3c" filter="url(#bl4)" transform="rotate(7.7 329.2 2748)"/>
<rect x="381" y="2728.8" width="70" height="12.5" rx="6.2" fill="#5f5f5f" filter="url(#bl4)" transform="rotate(0 416 2735)"/>
<rect x="381" y="2749.1" width="70" height="13.8" rx="6.9" fill="#232323" filter="url(#bl4)" transform="rotate(0 416 2756)"/>
<rect x="468" y="2729.4" width="63.7" height="11.2" rx="5.6" fill="#7d7d7d" filter="url(#bl4)" transform="rotate(0 499.9 2735)"/>
<rect x="468" y="2747.8" width="63.7" height="12.5" rx="6.2" fill="#4b4b4b" filter="url(#bl4)" transform="rotate(0 499.9 2754)"/>
<rect x="548.6" y="2727.4" width="63.4" height="11.2" rx="5.6" fill="#919191" filter="url(#bl4)" transform="rotate(0 580.3 2733)"/>
<rect x="548.6" y="2748.8" width="63.4" height="12.5" rx="6.2" fill="#696969" filter="url(#bl4)" transform="rotate(0 580.3 2755)"/>
</g>
<rect x="265.8" y="2701.7" width="356" height="76.1" fill="none" stroke="#000" stroke-width="4.5"/>
<clipPath id="wb8"><rect x="266.3" y="2798" width="353.2" height="72.5"/></clipPath>
<g clip-path="url(#wb8)">
<rect x="266.3" y="2798" width="353.2" height="72.5" fill="#F8F8F8"/>
<rect x="279.6" y="2824.1" width="74.1" height="13.8" rx="6.9" fill="#232323" filter="url(#bl4)" transform="rotate(7.7 316.6 2831)"/>
<rect x="279.6" y="2847.4" width="74.1" height="11.2" rx="5.6" fill="#4b4b4b" filter="url(#bl4)" transform="rotate(4.6 316.6 2853)"/>
<rect x="375" y="2827.1" width="72" height="13.8" rx="6.9" fill="#282828" filter="url(#bl4)" transform="rotate(0 411 2834)"/>
<rect x="375" y="2848.4" width="72" height="11.2" rx="5.6" fill="#5f5f5f" filter="url(#bl4)" transform="rotate(0 411 2854)"/>
<rect x="457.5" y="2825.5" width="76.3" height="15" rx="7.5" fill="#0f0f0f" filter="url(#bl4)" transform="rotate(0 495.6 2833)"/>
<rect x="457.5" y="2847.4" width="76.3" height="11.2" rx="5.6" fill="#373737" filter="url(#bl4)" transform="rotate(0 495.6 2853)"/>
<rect x="536" y="2822.2" width="67.7" height="17.5" rx="8.8" fill="#050505" filter="url(#bl4)" transform="rotate(0 569.9 2831)"/>
<rect x="536" y="2846.4" width="67.7" height="11.2" rx="5.6" fill="#3c3c3c" filter="url(#bl4)" transform="rotate(0 569.9 2852)"/>
</g>
<rect x="264.1" y="2795.8" width="357.7" height="77" fill="none" stroke="#000" stroke-width="4.5"/>
<clipPath id="wb9"><rect x="266.3" y="2889.2" width="351.2" height="84.3"/></clipPath>
<g clip-path="url(#wb9)">
<rect x="266.3" y="2889.2" width="351.2" height="84.3" fill="#F0F0F0"/>
<rect x="262" y="2923.8" width="354.4" height="22.5" rx="10" fill="#000000" filter="url(#bl4)" transform="rotate(0 439.2 2935)"/>
<rect x="330" y="2928.4" width="90" height="21.2" rx="10" fill="#000000" filter="url(#bl4)" transform="rotate(0 375 2939)"/>
<rect x="420" y="2926.8" width="110" height="22.5" rx="10" fill="#000000" filter="url(#bl4)" transform="rotate(0 475 2938)"/>
</g>
<rect x="264.1" y="2886.9" width="355.7" height="88.8" fill="none" stroke="#000" stroke-width="4.5"/>
<clipPath id="wb10"><rect x="917.2" y="2063.8" width="373" height="78.7"/></clipPath>
<g clip-path="url(#wb10)">
<rect x="917.2" y="2063.8" width="373" height="78.7" fill="#F8F8F8"/>
<rect x="925.4" y="2090.2" width="69.6" height="17.5" rx="8.8" fill="#787878" filter="url(#bl4)" transform="rotate(0 960.2 2099)"/>
<rect x="1005.6" y="2090.2" width="74.2" height="17.5" rx="8.8" fill="#787878" filter="url(#bl4)" transform="rotate(0 1042.7 2099)"/>
<rect x="1088.9" y="2090.6" width="75.6" height="18.8" rx="9.4" fill="#6e6e6e" filter="url(#bl4)" transform="rotate(0 1126.7 2100)"/>
<rect x="1179.7" y="2086.9" width="89.3" height="16.2" rx="8.1" fill="#7d7d7d" filter="url(#bl4)" transform="rotate(-5.1 1224.3 2095)"/>
</g>
<rect x="915" y="2061.6" width="377.5" height="83.2" fill="none" stroke="#000" stroke-width="4.5"/>
<clipPath id="wb11"><rect x="917.2" y="2169.1" width="373.6" height="80.4"/></clipPath>
<g clip-path="url(#wb11)">
<rect x="917.2" y="2169.1" width="373.6" height="80.4" fill="#F3F3F3"/>
<rect x="920.9" y="2196" width="68.1" height="20" rx="10" fill="#6e6e6e" filter="url(#bl4)" transform="rotate(0 955 2206)"/>
<rect x="1004" y="2196" width="71" height="20" rx="10" fill="#6e6e6e" filter="url(#bl4)" transform="rotate(0 1039.5 2206)"/>
<rect x="1088.9" y="2197.4" width="75.6" height="21.2" rx="10" fill="#696969" filter="url(#bl4)" transform="rotate(0 1126.7 2208)"/>
<rect x="1181" y="2192.6" width="92.5" height="18.8" rx="9.4" fill="#737373" filter="url(#bl4)" transform="rotate(-5.6 1227.2 2202)"/>
</g>
<rect x="915" y="2166.8" width="378.1" height="84.9" fill="none" stroke="#000" stroke-width="4.5"/>
<clipPath id="wb12"><rect x="917.8" y="2275.5" width="373" height="81"/></clipPath>
<g clip-path="url(#wb12)">
<rect x="917.8" y="2275.5" width="373" height="81" fill="#F8F8F8"/>
<rect x="921" y="2306.4" width="81.6" height="21.2" rx="10" fill="#050505" filter="url(#bl4)" transform="rotate(0 961.8 2317)"/>
<rect x="1010" y="2307.6" width="68" height="18.8" rx="9.4" fill="#0a0a0a" filter="url(#bl4)" transform="rotate(0 1044 2317)"/>
<rect x="1089" y="2307" width="75.5" height="20" rx="10" fill="#0a0a0a" filter="url(#bl4)" transform="rotate(0 1126.8 2317)"/>
<rect x="1175" y="2308.8" width="94" height="12.5" rx="6.2" fill="#232323" filter="url(#bl4)" transform="rotate(-2.4 1222 2315)"/>
</g>
<rect x="915.5" y="2273.2" width="377.5" height="85.5" fill="none" stroke="#000" stroke-width="4.5"/>
<clipPath id="wb13"><rect x="917.8" y="2385.2" width="376.9" height="81.9"/></clipPath>
<g clip-path="url(#wb13)">
<rect x="917.8" y="2385.2" width="376.9" height="81.9" fill="#E4E4E4"/>
<rect x="921" y="2415.1" width="78.6" height="23.8" rx="10" fill="#050505" filter="url(#bl4)" transform="rotate(0 960.3 2427)"/>
<rect x="1005.6" y="2415.8" width="69.4" height="22.5" rx="10" fill="#0a0a0a" filter="url(#bl4)" transform="rotate(0 1040.3 2427)"/>
<rect x="1085.8" y="2413.1" width="77.2" height="23.8" rx="10" fill="#050505" filter="url(#bl4)" transform="rotate(0 1124.4 2425)"/>
<rect x="1175" y="2409.1" width="98.5" height="23.8" rx="10" fill="#050505" filter="url(#bl4)" transform="rotate(-5.8 1224.2 2421)"/>
</g>
<rect x="915.5" y="2382.9" width="381.4" height="86.4" fill="none" stroke="#000" stroke-width="4.5"/>
<clipPath id="wb14"><rect x="917.8" y="2493.3" width="376.9" height="74.8"/></clipPath>
<g clip-path="url(#wb14)">
<rect x="917.8" y="2493.3" width="376.9" height="74.8" fill="#F8F8F8"/>
<rect x="924" y="2527.6" width="71" height="16.2" rx="8.1" fill="#050505" filter="url(#bl4)" transform="rotate(0 959.5 2535.7)"/>
<rect x="1011.7" y="2524.5" width="72.6" height="16.2" rx="8.1" fill="#050505" filter="url(#bl4)" transform="rotate(-3.9 1048 2532.6)"/>
<rect x="1101" y="2519.5" width="78.7" height="15" rx="7.5" fill="#050505" filter="url(#bl4)" transform="rotate(-5.8 1140.3 2527)"/>
<rect x="1197.8" y="2516.8" width="81.8" height="7.5" rx="3.8" fill="#b9b9b9" filter="url(#bl4)" transform="rotate(-1.4 1238.7 2520.5)"/>
</g>
<rect x="915.5" y="2491.1" width="381.4" height="79.3" fill="none" stroke="#000" stroke-width="4.5"/>
<clipPath id="wb15"><rect x="917.8" y="2595.3" width="372.4" height="70"/></clipPath>
<g clip-path="url(#wb15)">
<rect x="917.8" y="2595.3" width="372.4" height="70" fill="#F8F8F8"/>
<rect x="922.4" y="2633.8" width="72.6" height="22.5" rx="10" fill="#aaaaaa" filter="url(#bl5)" transform="rotate(0 958.7 2645)"/>
<rect x="1007" y="2633.8" width="72.8" height="22.5" rx="10" fill="#aaaaaa" filter="url(#bl5)" transform="rotate(0 1043.4 2645)"/>
<rect x="1092" y="2633.8" width="80" height="22.5" rx="10" fill="#afafaf" filter="url(#bl5)" transform="rotate(0 1132 2645)"/>
<rect x="922.4" y="2601" width="72.6" height="40" rx="10" fill="#000000" filter="url(#bl4)" transform="rotate(0 958.7 2621)"/>
<rect x="1007" y="2601" width="72.8" height="40" rx="10" fill="#000000" filter="url(#bl4)" transform="rotate(0 1043.4 2621)"/>
<rect x="1092" y="2601" width="80" height="40" rx="10" fill="#000000" filter="url(#bl4)" transform="rotate(0 1132 2621)"/>
<rect x="1188.8" y="2610.4" width="83.2" height="21.2" rx="10" fill="#aaaaaa" filter="url(#bl4)" transform="rotate(0 1230.4 2621)"/>
</g>
<rect x="915.5" y="2593.1" width="376.9" height="74.5" fill="none" stroke="#000" stroke-width="4.5"/>
<clipPath id="wb16"><rect x="917.8" y="2703" width="376" height="71.2"/></clipPath>
<g clip-path="url(#wb16)">
<rect x="917.8" y="2703" width="376" height="71.2" fill="#F2F2F2"/>
<rect x="934.5" y="2725.2" width="80.2" height="17.5" rx="8.8" fill="#000000" filter="url(#bl4)" transform="rotate(3.6 974.6 2734)"/>
<rect x="934.5" y="2744.5" width="80.2" height="15" rx="7.5" fill="#050505" filter="url(#bl4)" transform="rotate(0 974.6 2752)"/>
<rect x="1031" y="2729.1" width="79" height="13.8" rx="6.9" fill="#2d2d2d" filter="url(#bl4)" transform="rotate(0 1070.5 2736)"/>
<rect x="1031" y="2745.5" width="79" height="15" rx="7.5" fill="#191919" filter="url(#bl4)" transform="rotate(0 1070.5 2753)"/>
<rect x="1125" y="2728.1" width="73" height="13.8" rx="6.9" fill="#373737" filter="url(#bl4)" transform="rotate(0 1161.5 2735)"/>
<rect x="1125" y="2744.5" width="73" height="15" rx="7.5" fill="#232323" filter="url(#bl4)" transform="rotate(0 1161.5 2752)"/>
<rect x="1213" y="2729.8" width="66.6" height="12.5" rx="6.2" fill="#cdcdcd" filter="url(#bl4)" transform="rotate(0 1246.3 2736)"/>
<rect x="1225" y="2747" width="35" height="10" rx="5" fill="#8c8c8c" filter="url(#bl4)" transform="rotate(0 1242.5 2752)"/>
</g>
<rect x="915.5" y="2700.8" width="380.5" height="75.7" fill="none" stroke="#000" stroke-width="4.5"/>
<clipPath id="wb17"><rect x="919.9" y="2799.9" width="376.4" height="74.8"/></clipPath>
<g clip-path="url(#wb17)">
<rect x="919.9" y="2799.9" width="376.4" height="74.8" fill="#F8F8F8"/>
<rect x="924" y="2824.6" width="77" height="12.5" rx="6.2" fill="#0f0f0f" filter="url(#bl4)" transform="rotate(0 962.5 2830.8)"/>
<rect x="924" y="2841.8" width="77" height="12.5" rx="6.2" fill="#141414" filter="url(#bl4)" transform="rotate(0 962.5 2848)"/>
<rect x="1013" y="2824.8" width="73" height="12.5" rx="6.2" fill="#141414" filter="url(#bl4)" transform="rotate(0 1049.5 2831)"/>
<rect x="1013" y="2841.1" width="73" height="13.8" rx="6.9" fill="#0f0f0f" filter="url(#bl4)" transform="rotate(0 1049.5 2848)"/>
<rect x="1101" y="2824.8" width="81.7" height="12.5" rx="6.2" fill="#141414" filter="url(#bl4)" transform="rotate(0 1141.8 2831)"/>
<rect x="1101" y="2841.5" width="81.7" height="15" rx="7.5" fill="#0a0a0a" filter="url(#bl4)" transform="rotate(0 1141.8 2849)"/>
<rect x="1194.8" y="2823.8" width="81.7" height="12.5" rx="6.2" fill="#282828" filter="url(#bl4)" transform="rotate(0 1235.7 2830)"/>
<rect x="1194.8" y="2841.2" width="81.7" height="12.5" rx="6.2" fill="#191919" filter="url(#bl4)" transform="rotate(0 1235.7 2847.5)"/>
</g>
<rect x="917.6" y="2797.7" width="380.9" height="79.3" fill="none" stroke="#000" stroke-width="4.5"/>
<clipPath id="wb18"><rect x="920.2" y="2895.8" width="378.5" height="73.7"/></clipPath>
<g clip-path="url(#wb18)">
<rect x="920.2" y="2895.8" width="378.5" height="73.7" fill="#EEEEEE"/>
<rect x="919" y="2925" width="375.7" height="20" rx="10" fill="#000000" filter="url(#bl4)" transform="rotate(0 1106.8 2935)"/>
<rect x="1100" y="2927.4" width="80" height="21.2" rx="10" fill="#000000" filter="url(#bl4)" transform="rotate(0 1140 2938)"/>
<rect x="1190" y="2922.8" width="104" height="22.5" rx="10" fill="#000000" filter="url(#bl4)" transform="rotate(0 1242 2934)"/>
</g>
<rect x="918" y="2893.6" width="383" height="78.2" fill="none" stroke="#000" stroke-width="4.5"/>
<rect x="1666" y="1956" width="29.8" height="32.3" fill="#000000"/>
<rect x="1745.4" y="1956" width="29.6" height="32.3" fill="#A09FA4"/>
<rect x="1823.8" y="1956" width="29.2" height="32.3" fill="#808080"/>
<rect x="1944.3" y="1956" width="29" height="32.3" fill="#D7D7D7"/>
<text x="1712" y="1986" font-size="40">C</text>
<text x="1791.3" y="1986" font-size="40">1</text>
<text x="1869.2" y="1986" font-size="40">100</text>
<text x="1990.5" y="1986" font-size="40">250uM</text>
<rect x="1649.1" y="2039.5" width="13.2" height="230.5" fill="#000000"/>
<rect x="1669.3" y="2042.5" width="13.2" height="227.5" fill="#A09FA4"/>
<rect x="1674.9" y="2039.3" width="2" height="6.5" fill="#000"/>
<rect x="1671.4" y="2038.3" width="9" height="2" fill="#000"/>
<rect x="1671.4" y="2044.7" width="9" height="2" fill="#000"/>
<rect x="1689.6" y="2057.7" width="13.2" height="212.3" fill="#808080"/>
<rect x="1695.2" y="2050.8" width="2" height="13.8" fill="#000"/>
<rect x="1691.7" y="2049.8" width="9" height="2" fill="#000"/>
<rect x="1691.7" y="2063.6" width="9" height="2" fill="#000"/>
<rect x="1709.8" y="2062.6" width="13.2" height="207.4" fill="#D7D7D7"/>
<rect x="1715.4" y="2055.4" width="2" height="14.3" fill="#000"/>
<rect x="1711.9" y="2054.4" width="9" height="2" fill="#000"/>
<rect x="1711.9" y="2068.7" width="9" height="2" fill="#000"/>
<rect x="1683.6" y="2270" width="4" height="11.5" fill="#000"/>
<rect x="1744.5" y="2039.5" width="13.2" height="230.5" fill="#000000"/>
<rect x="1764.8" y="2042.5" width="13.2" height="227.5" fill="#A09FA4"/>
<rect x="1770.3" y="2039.7" width="2" height="5.5" fill="#000"/>
<rect x="1766.8" y="2038.7" width="9" height="2" fill="#000"/>
<rect x="1766.8" y="2044.3" width="9" height="2" fill="#000"/>
<rect x="1785" y="2071.8" width="13.2" height="198.2" fill="#808080"/>
<rect x="1790.6" y="2057.9" width="2" height="27.7" fill="#000"/>
<rect x="1787.1" y="2056.9" width="9" height="2" fill="#000"/>
<rect x="1787.1" y="2084.6" width="9" height="2" fill="#000"/>
<rect x="1805.2" y="2086.8" width="13.2" height="183.2" fill="#D7D7D7"/>
<rect x="1810.8" y="2074.8" width="2" height="24" fill="#000"/>
<rect x="1807.3" y="2073.8" width="9" height="2" fill="#000"/>
<rect x="1807.3" y="2097.7" width="9" height="2" fill="#000"/>
<rect x="1779" y="2270" width="4" height="11.5" fill="#000"/>
<rect x="1840" y="2039.5" width="13.2" height="230.5" fill="#000000"/>
<rect x="1860.2" y="2045" width="13.2" height="225" fill="#A09FA4"/>
<rect x="1865.8" y="2037" width="2" height="16.1" fill="#000"/>
<rect x="1862.3" y="2036" width="9" height="2" fill="#000"/>
<rect x="1862.3" y="2052.1" width="9" height="2" fill="#000"/>
<rect x="1880.5" y="2049.9" width="13.2" height="220.1" fill="#808080"/>
<rect x="1886.1" y="2041.8" width="2" height="16.1" fill="#000"/>
<rect x="1882.6" y="2040.8" width="9" height="2" fill="#000"/>
<rect x="1882.6" y="2056.9" width="9" height="2" fill="#000"/>
<rect x="1900.8" y="2151.3" width="13.2" height="118.7" fill="#D7D7D7"/>
<rect x="1906.3" y="2138.2" width="2" height="26.3" fill="#000"/>
<rect x="1902.8" y="2137.2" width="9" height="2" fill="#000"/>
<rect x="1902.8" y="2163.4" width="9" height="2" fill="#000"/>
<rect x="1874.5" y="2270" width="4" height="11.5" fill="#000"/>
<rect x="1935.3" y="2039.5" width="13.2" height="230.5" fill="#000000"/>
<rect x="1955.5" y="2037.9" width="13.2" height="232.1" fill="#A09FA4"/>
<rect x="1961.1" y="2034.4" width="2" height="6.9" fill="#000"/>
<rect x="1957.6" y="2033.4" width="9" height="2" fill="#000"/>
<rect x="1957.6" y="2040.3" width="9" height="2" fill="#000"/>
<rect x="1975.8" y="2050.8" width="13.2" height="219.2" fill="#808080"/>
<rect x="1981.4" y="2031.7" width="2" height="38.3" fill="#000"/>
<rect x="1977.9" y="2030.7" width="9" height="2" fill="#000"/>
<rect x="1977.9" y="2068.9" width="9" height="2" fill="#000"/>
<rect x="1996" y="2116.3" width="13.2" height="153.7" fill="#D7D7D7"/>
<rect x="2001.6" y="2099.4" width="2" height="33.7" fill="#000"/>
<rect x="1998.1" y="2098.4" width="9" height="2" fill="#000"/>
<rect x="1998.1" y="2132.1" width="9" height="2" fill="#000"/>
<rect x="1969.8" y="2270" width="4" height="11.5" fill="#000"/>
<rect x="2030.2" y="2039.5" width="13.2" height="230.5" fill="#000000"/>
<rect x="2050.4" y="2040.4" width="13.2" height="229.6" fill="#A09FA4"/>
<rect x="2070.7" y="2091.8" width="13.2" height="178.2" fill="#808080"/>
<rect x="2076.3" y="2080.3" width="2" height="23.1" fill="#000"/>
<rect x="2072.8" y="2079.3" width="9" height="2" fill="#000"/>
<rect x="2072.8" y="2102.3" width="9" height="2" fill="#000"/>
<rect x="2090.9" y="2134.7" width="13.2" height="135.3" fill="#D7D7D7"/>
<rect x="2096.5" y="2114.9" width="2" height="39.6" fill="#000"/>
<rect x="2093" y="2113.9" width="9" height="2" fill="#000"/>
<rect x="2093" y="2153.5" width="9" height="2" fill="#000"/>
<rect x="2064.7" y="2270" width="4" height="11.5" fill="#000"/>
<text x="1717.2" y="2056.2" font-size="21" text-anchor="middle">*</text>
<text x="1792" y="2056.5" font-size="21" text-anchor="middle">*</text>
<text x="1812.5" y="2073.2" font-size="21" text-anchor="middle">*</text>
<text x="1907" y="2135.5" font-size="21" text-anchor="middle">*</text>
<text x="1903" y="2162.5" font-size="21" text-anchor="middle">*</text>
<text x="2003" y="2096.9" font-size="21" text-anchor="middle">**</text>
<text x="2077" y="2076.5" font-size="21" text-anchor="middle">*</text>
<text x="2099.8" y="2114.3" font-size="21" text-anchor="middle">**</text>
<rect x="1640.1" y="1991.9" width="4.2" height="280.1" fill="#000"/>
<rect x="1630.2" y="2268" width="483.6" height="4" fill="#000"/>
<rect x="1630.2" y="2268" width="12" height="4" fill="#000"/>
<text x="1626.5" y="2286.6" font-size="46.3" text-anchor="end">0.0</text>
<rect x="1630.2" y="2175.8" width="12" height="4" fill="#000"/>
<text x="1626.5" y="2194.4" font-size="46.3" text-anchor="end">0.4</text>
<rect x="1630.2" y="2083.6" width="12" height="4" fill="#000"/>
<text x="1626.5" y="2102.2" font-size="46.3" text-anchor="end">0.8</text>
<rect x="1630.2" y="1991.4" width="12" height="4" fill="#000"/>
<text x="1626.5" y="2010" font-size="46.3" text-anchor="end">1.2</text>
<text x="1486" y="2115.7" font-size="45.8" text-anchor="middle" transform="rotate(-90 1486 2115.7)">Relative Protein</text>
<text x="1539.5" y="2117" font-size="45.4" text-anchor="middle" transform="rotate(-90 1539.5 2117)">Expression</text>
<text x="1703.5" y="2319" font-size="46" text-anchor="end" transform="rotate(-45 1703.5 2319)">p-AKT</text>
<text x="1799" y="2319" font-size="46" text-anchor="end" transform="rotate(-45 1799 2319)">p-S6</text>
<text x="1894.5" y="2319" font-size="46" text-anchor="end" transform="rotate(-45 1894.5 2319)">P38</text>
<text x="1989.5" y="2319" font-size="46" text-anchor="end" transform="rotate(-45 1989.5 2319)">p-4E-BP1</text>
<text x="2084.5" y="2319" font-size="46" text-anchor="end" transform="rotate(-45 2084.5 2319)">p-42/44</text>
<rect x="1678.3" y="2527.5" width="29.5" height="31.9" fill="#000000"/>
<rect x="1756" y="2527.5" width="29.3" height="31.9" fill="#A09FA4"/>
<rect x="1833" y="2527.5" width="29" height="31.9" fill="#808080"/>
<rect x="1956.3" y="2527.5" width="29.4" height="31.9" fill="#D7D7D7"/>
<text x="1724.7" y="2557.3" font-size="40">C</text>
<text x="1802.6" y="2557.3" font-size="40">1</text>
<text x="1878.6" y="2557.3" font-size="40">100</text>
<text x="2002.4" y="2557.3" font-size="40">250uM</text>
<rect x="1660.9" y="2604.7" width="13.4" height="231.5" fill="#000000"/>
<rect x="1681.4" y="2603.5" width="13.4" height="232.7" fill="#A09FA4"/>
<rect x="1687.1" y="2599.8" width="2" height="7.4" fill="#000"/>
<rect x="1683.6" y="2598.8" width="9" height="2" fill="#000"/>
<rect x="1683.6" y="2606.2" width="9" height="2" fill="#000"/>
<rect x="1701.9" y="2614.4" width="13.4" height="221.8" fill="#808080"/>
<rect x="1707.6" y="2599.4" width="2" height="30.1" fill="#000"/>
<rect x="1704.1" y="2598.4" width="9" height="2" fill="#000"/>
<rect x="1704.1" y="2628.5" width="9" height="2" fill="#000"/>
<rect x="1722.4" y="2623.9" width="13.4" height="212.3" fill="#D7D7D7"/>
<rect x="1728.1" y="2612.1" width="2" height="23.6" fill="#000"/>
<rect x="1724.6" y="2611.1" width="9" height="2" fill="#000"/>
<rect x="1724.6" y="2634.7" width="9" height="2" fill="#000"/>
<rect x="1695.9" y="2836.2" width="4" height="11.5" fill="#000"/>
<rect x="1756" y="2604.7" width="13.4" height="231.5" fill="#000000"/>
<rect x="1776.5" y="2608.4" width="13.4" height="227.8" fill="#A09FA4"/>
<rect x="1782.2" y="2605.2" width="2" height="6.5" fill="#000"/>
<rect x="1778.7" y="2604.2" width="9" height="2" fill="#000"/>
<rect x="1778.7" y="2610.6" width="9" height="2" fill="#000"/>
<rect x="1797" y="2627.6" width="13.4" height="208.6" fill="#808080"/>
<rect x="1802.7" y="2623.9" width="2" height="7.4" fill="#000"/>
<rect x="1799.2" y="2622.9" width="9" height="2" fill="#000"/>
<rect x="1799.2" y="2630.3" width="9" height="2" fill="#000"/>
<rect x="1817.5" y="2696.1" width="13.4" height="140.1" fill="#D7D7D7"/>
<rect x="1823.2" y="2686" width="2" height="20.4" fill="#000"/>
<rect x="1819.7" y="2685" width="9" height="2" fill="#000"/>
<rect x="1819.7" y="2705.3" width="9" height="2" fill="#000"/>
<rect x="1791" y="2836.2" width="4" height="11.5" fill="#000"/>
<rect x="1851.4" y="2604.7" width="13.4" height="231.5" fill="#000000"/>
<rect x="1871.9" y="2602.6" width="13.4" height="233.6" fill="#A09FA4"/>
<rect x="1877.6" y="2597.5" width="2" height="10.2" fill="#000"/>
<rect x="1874.1" y="2596.5" width="9" height="2" fill="#000"/>
<rect x="1874.1" y="2606.7" width="9" height="2" fill="#000"/>
<rect x="1892.4" y="2623.2" width="13.4" height="213" fill="#808080"/>
<rect x="1898.1" y="2613" width="2" height="20.4" fill="#000"/>
<rect x="1894.6" y="2612" width="9" height="2" fill="#000"/>
<rect x="1894.6" y="2632.4" width="9" height="2" fill="#000"/>
<rect x="1912.9" y="2754.2" width="13.4" height="82" fill="#D7D7D7"/>
<rect x="1918.6" y="2741.7" width="2" height="25" fill="#000"/>
<rect x="1915.1" y="2740.7" width="9" height="2" fill="#000"/>
<rect x="1915.1" y="2765.8" width="9" height="2" fill="#000"/>
<rect x="1886.4" y="2836.2" width="4" height="11.5" fill="#000"/>
<rect x="1946.6" y="2604.7" width="13.4" height="231.5" fill="#000000"/>
<rect x="1967.1" y="2604.9" width="13.4" height="231.3" fill="#A09FA4"/>
<rect x="1972.8" y="2603.5" width="2" height="2.8" fill="#000"/>
<rect x="1969.3" y="2602.5" width="9" height="2" fill="#000"/>
<rect x="1969.3" y="2605.3" width="9" height="2" fill="#000"/>
<rect x="1987.6" y="2616" width="13.4" height="220.2" fill="#808080"/>
<rect x="1993.3" y="2602.6" width="2" height="26.9" fill="#000"/>
<rect x="1989.8" y="2601.6" width="9" height="2" fill="#000"/>
<rect x="1989.8" y="2628.5" width="9" height="2" fill="#000"/>
<rect x="2008.1" y="2765.8" width="13.4" height="70.4" fill="#D7D7D7"/>
<rect x="2013.8" y="2741.3" width="2" height="49.1" fill="#000"/>
<rect x="2010.3" y="2740.3" width="9" height="2" fill="#000"/>
<rect x="2010.3" y="2789.4" width="9" height="2" fill="#000"/>
<rect x="1981.6" y="2836.2" width="4" height="11.5" fill="#000"/>
<rect x="2041.7" y="2604.7" width="13.4" height="231.5" fill="#000000"/>
<rect x="2062.2" y="2609.3" width="13.4" height="226.9" fill="#A09FA4"/>
<rect x="2067.9" y="2604" width="2" height="10.6" fill="#000"/>
<rect x="2064.4" y="2603" width="9" height="2" fill="#000"/>
<rect x="2064.4" y="2613.7" width="9" height="2" fill="#000"/>
<rect x="2082.7" y="2631.8" width="13.4" height="204.4" fill="#808080"/>
<rect x="2088.4" y="2622.3" width="2" height="19" fill="#000"/>
<rect x="2084.9" y="2621.3" width="9" height="2" fill="#000"/>
<rect x="2084.9" y="2640.3" width="9" height="2" fill="#000"/>
<rect x="2103.2" y="2746.4" width="13.4" height="89.8" fill="#D7D7D7"/>
<rect x="2108.9" y="2738" width="2" height="16.7" fill="#000"/>
<rect x="2105.4" y="2737" width="9" height="2" fill="#000"/>
<rect x="2105.4" y="2753.7" width="9" height="2" fill="#000"/>
<rect x="2076.7" y="2836.2" width="4" height="11.5" fill="#000"/>
<text x="1728.8" y="2611.3" font-size="21" text-anchor="middle">*</text>
<text x="1804" y="2620.8" font-size="21" text-anchor="middle">*</text>
<text x="1825.3" y="2684.5" font-size="21" text-anchor="middle">**</text>
<text x="1898.8" y="2612" font-size="21" text-anchor="middle">*</text>
<text x="1915" y="2739.2" font-size="21" text-anchor="middle">*</text>
<text x="1913" y="2766.9" font-size="21" text-anchor="middle">*</text>
<text x="2015.5" y="2739.2" font-size="21" text-anchor="middle">**</text>
<text x="2089.5" y="2620.8" font-size="21" text-anchor="middle">*</text>
<text x="2107" y="2739.2" font-size="21" text-anchor="middle">*</text>
<text x="2107" y="2766.9" font-size="21" text-anchor="middle">*</text>
<rect x="1651.9" y="2556.9" width="4.2" height="281.3" fill="#000"/>
<rect x="1642" y="2834.2" width="484.4" height="4" fill="#000"/>
<rect x="1642" y="2834.2" width="12" height="4" fill="#000"/>
<text x="1638" y="2852.8" font-size="46.3" text-anchor="end">0.0</text>
<rect x="1642" y="2741.6" width="12" height="4" fill="#000"/>
<text x="1638" y="2760.2" font-size="46.3" text-anchor="end">0.4</text>
<rect x="1642" y="2649" width="12" height="4" fill="#000"/>
<text x="1638" y="2667.6" font-size="46.3" text-anchor="end">0.8</text>
<rect x="1642" y="2556.4" width="12" height="4" fill="#000"/>
<text x="1638" y="2575" font-size="46.3" text-anchor="end">1.2</text>
<text x="1496.5" y="2683.5" font-size="45.1" text-anchor="middle" transform="rotate(-90 1496.5 2683.5)">Relative Protein</text>
<text x="1550" y="2680" font-size="45.4" text-anchor="middle" transform="rotate(-90 1550 2680)">Expression</text>
<text x="1715.5" y="2887" font-size="46" text-anchor="end" transform="rotate(-45 1715.5 2887)">p-AKT</text>
<text x="1810.5" y="2887" font-size="46" text-anchor="end" transform="rotate(-45 1810.5 2887)">p-S6</text>
<text x="1906" y="2887" font-size="46" text-anchor="end" transform="rotate(-45 1906 2887)">P38</text>
<text x="2001" y="2887" font-size="46" text-anchor="end" transform="rotate(-45 2001 2887)">p-4E-BP1</text>
<text x="2096" y="2887" font-size="46" text-anchor="end" transform="rotate(-45 2096 2887)">p-42/44</text>
</svg></body></html>
